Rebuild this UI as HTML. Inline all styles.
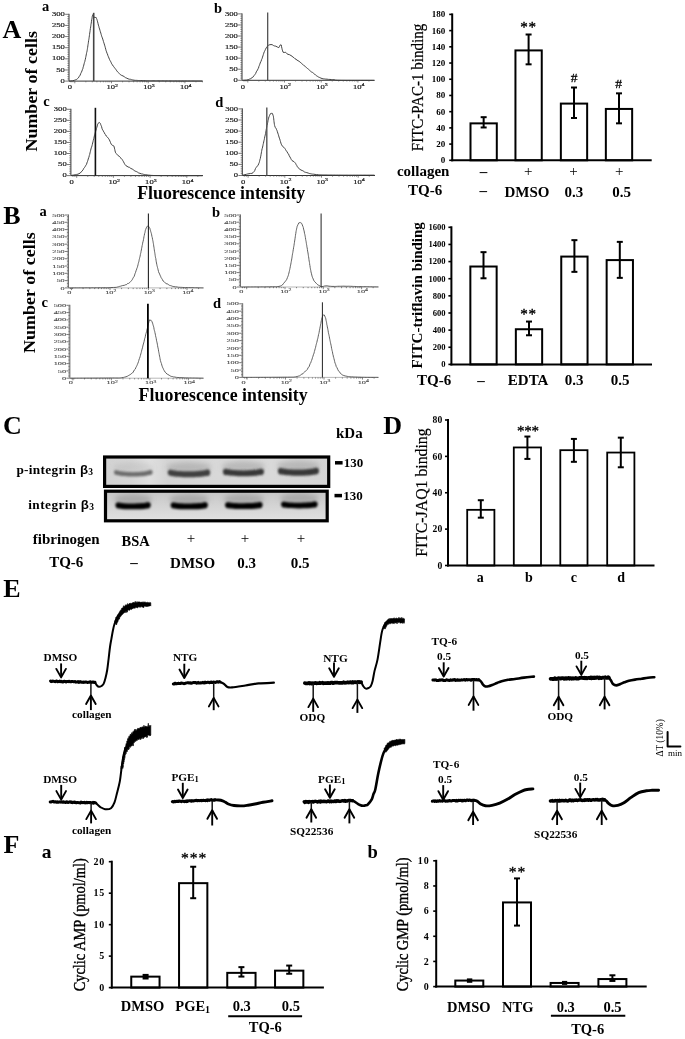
<!DOCTYPE html>
<html><head><meta charset="utf-8"><title>Figure</title>
<style>
html,body{margin:0;padding:0;background:#fff;}
body{width:685px;height:1039px;overflow:hidden;}
svg{display:block;font-family:"Liberation Serif", serif;will-change:transform;}
</style></head><body>
<svg width="685" height="1039" viewBox="0 0 685 1039">
<rect width="685" height="1039" fill="#fff"/>
<text x="2.60" y="37.50" font-size="26" font-weight="bold" text-anchor="start" fill="#000" >A</text>
<text x="3.30" y="223.60" font-size="26" font-weight="bold" text-anchor="start" fill="#000" >B</text>
<text x="3.00" y="434.40" font-size="26" font-weight="bold" text-anchor="start" fill="#000" >C</text>
<text x="383.30" y="434.20" font-size="26" font-weight="bold" text-anchor="start" fill="#000" >D</text>
<text x="3.20" y="597.00" font-size="26" font-weight="bold" text-anchor="start" fill="#000" >E</text>
<text x="3.40" y="853.30" font-size="26" font-weight="bold" text-anchor="start" fill="#000" >F</text>
<line x1="69.00" y1="13.80" x2="69.00" y2="81.10" stroke="#333" stroke-width="1" />
<line x1="69.00" y1="81.10" x2="202.70" y2="81.10" stroke="#333" stroke-width="1" />
<line x1="65.10" y1="81.10" x2="69.00" y2="81.10" stroke="#555" stroke-width="0.8" />
<text transform="translate(64.80,82.70) scale(1,0.78)" font-size="8.6" text-anchor="end" fill="#222" stroke="#222" stroke-width="0.25">0</text>
<line x1="67.40" y1="78.87" x2="69.00" y2="78.87" stroke="#555" stroke-width="0.7" />
<line x1="67.40" y1="76.65" x2="69.00" y2="76.65" stroke="#555" stroke-width="0.7" />
<line x1="67.40" y1="74.42" x2="69.00" y2="74.42" stroke="#555" stroke-width="0.7" />
<line x1="67.40" y1="72.19" x2="69.00" y2="72.19" stroke="#555" stroke-width="0.7" />
<line x1="65.10" y1="69.97" x2="69.00" y2="69.97" stroke="#555" stroke-width="0.8" />
<text transform="translate(64.80,71.57) scale(1,0.78)" font-size="8.6" text-anchor="end" fill="#222" stroke="#222" stroke-width="0.25">50</text>
<line x1="67.40" y1="67.74" x2="69.00" y2="67.74" stroke="#555" stroke-width="0.7" />
<line x1="67.40" y1="65.51" x2="69.00" y2="65.51" stroke="#555" stroke-width="0.7" />
<line x1="67.40" y1="63.29" x2="69.00" y2="63.29" stroke="#555" stroke-width="0.7" />
<line x1="67.40" y1="61.06" x2="69.00" y2="61.06" stroke="#555" stroke-width="0.7" />
<line x1="65.10" y1="58.83" x2="69.00" y2="58.83" stroke="#555" stroke-width="0.8" />
<text transform="translate(64.80,60.43) scale(1,0.78)" font-size="8.6" text-anchor="end" fill="#222" stroke="#222" stroke-width="0.25">100</text>
<line x1="67.40" y1="56.61" x2="69.00" y2="56.61" stroke="#555" stroke-width="0.7" />
<line x1="67.40" y1="54.38" x2="69.00" y2="54.38" stroke="#555" stroke-width="0.7" />
<line x1="67.40" y1="52.15" x2="69.00" y2="52.15" stroke="#555" stroke-width="0.7" />
<line x1="67.40" y1="49.93" x2="69.00" y2="49.93" stroke="#555" stroke-width="0.7" />
<line x1="65.10" y1="47.70" x2="69.00" y2="47.70" stroke="#555" stroke-width="0.8" />
<text transform="translate(64.80,49.30) scale(1,0.78)" font-size="8.6" text-anchor="end" fill="#222" stroke="#222" stroke-width="0.25">150</text>
<line x1="67.40" y1="45.47" x2="69.00" y2="45.47" stroke="#555" stroke-width="0.7" />
<line x1="67.40" y1="43.25" x2="69.00" y2="43.25" stroke="#555" stroke-width="0.7" />
<line x1="67.40" y1="41.02" x2="69.00" y2="41.02" stroke="#555" stroke-width="0.7" />
<line x1="67.40" y1="38.79" x2="69.00" y2="38.79" stroke="#555" stroke-width="0.7" />
<line x1="65.10" y1="36.57" x2="69.00" y2="36.57" stroke="#555" stroke-width="0.8" />
<text transform="translate(64.80,38.17) scale(1,0.78)" font-size="8.6" text-anchor="end" fill="#222" stroke="#222" stroke-width="0.25">200</text>
<line x1="67.40" y1="34.34" x2="69.00" y2="34.34" stroke="#555" stroke-width="0.7" />
<line x1="67.40" y1="32.11" x2="69.00" y2="32.11" stroke="#555" stroke-width="0.7" />
<line x1="67.40" y1="29.89" x2="69.00" y2="29.89" stroke="#555" stroke-width="0.7" />
<line x1="67.40" y1="27.66" x2="69.00" y2="27.66" stroke="#555" stroke-width="0.7" />
<line x1="65.10" y1="25.43" x2="69.00" y2="25.43" stroke="#555" stroke-width="0.8" />
<text transform="translate(64.80,27.03) scale(1,0.78)" font-size="8.6" text-anchor="end" fill="#222" stroke="#222" stroke-width="0.25">250</text>
<line x1="67.40" y1="23.21" x2="69.00" y2="23.21" stroke="#555" stroke-width="0.7" />
<line x1="67.40" y1="20.98" x2="69.00" y2="20.98" stroke="#555" stroke-width="0.7" />
<line x1="67.40" y1="18.75" x2="69.00" y2="18.75" stroke="#555" stroke-width="0.7" />
<line x1="67.40" y1="16.53" x2="69.00" y2="16.53" stroke="#555" stroke-width="0.7" />
<line x1="65.10" y1="14.30" x2="69.00" y2="14.30" stroke="#555" stroke-width="0.8" />
<text transform="translate(64.80,15.90) scale(1,0.78)" font-size="8.6" text-anchor="end" fill="#222" stroke="#222" stroke-width="0.25">300</text>
<line x1="74.80" y1="81.10" x2="74.80" y2="83.30" stroke="#555" stroke-width="0.7" />
<line x1="85.85" y1="81.10" x2="85.85" y2="82.30" stroke="#555" stroke-width="0.7" />
<line x1="92.31" y1="81.10" x2="92.31" y2="82.30" stroke="#555" stroke-width="0.7" />
<line x1="96.90" y1="81.10" x2="96.90" y2="82.30" stroke="#555" stroke-width="0.7" />
<line x1="100.45" y1="81.10" x2="100.45" y2="82.30" stroke="#555" stroke-width="0.7" />
<line x1="103.36" y1="81.10" x2="103.36" y2="82.30" stroke="#555" stroke-width="0.7" />
<line x1="105.82" y1="81.10" x2="105.82" y2="82.30" stroke="#555" stroke-width="0.7" />
<line x1="107.94" y1="81.10" x2="107.94" y2="82.30" stroke="#555" stroke-width="0.7" />
<line x1="109.82" y1="81.10" x2="109.82" y2="82.30" stroke="#555" stroke-width="0.7" />
<line x1="111.50" y1="81.10" x2="111.50" y2="83.30" stroke="#555" stroke-width="0.7" />
<line x1="122.55" y1="81.10" x2="122.55" y2="82.30" stroke="#555" stroke-width="0.7" />
<line x1="129.01" y1="81.10" x2="129.01" y2="82.30" stroke="#555" stroke-width="0.7" />
<line x1="133.60" y1="81.10" x2="133.60" y2="82.30" stroke="#555" stroke-width="0.7" />
<line x1="137.15" y1="81.10" x2="137.15" y2="82.30" stroke="#555" stroke-width="0.7" />
<line x1="140.06" y1="81.10" x2="140.06" y2="82.30" stroke="#555" stroke-width="0.7" />
<line x1="142.52" y1="81.10" x2="142.52" y2="82.30" stroke="#555" stroke-width="0.7" />
<line x1="144.64" y1="81.10" x2="144.64" y2="82.30" stroke="#555" stroke-width="0.7" />
<line x1="146.52" y1="81.10" x2="146.52" y2="82.30" stroke="#555" stroke-width="0.7" />
<line x1="148.20" y1="81.10" x2="148.20" y2="83.30" stroke="#555" stroke-width="0.7" />
<line x1="159.25" y1="81.10" x2="159.25" y2="82.30" stroke="#555" stroke-width="0.7" />
<line x1="165.71" y1="81.10" x2="165.71" y2="82.30" stroke="#555" stroke-width="0.7" />
<line x1="170.30" y1="81.10" x2="170.30" y2="82.30" stroke="#555" stroke-width="0.7" />
<line x1="173.85" y1="81.10" x2="173.85" y2="82.30" stroke="#555" stroke-width="0.7" />
<line x1="176.76" y1="81.10" x2="176.76" y2="82.30" stroke="#555" stroke-width="0.7" />
<line x1="179.22" y1="81.10" x2="179.22" y2="82.30" stroke="#555" stroke-width="0.7" />
<line x1="181.34" y1="81.10" x2="181.34" y2="82.30" stroke="#555" stroke-width="0.7" />
<line x1="183.22" y1="81.10" x2="183.22" y2="82.30" stroke="#555" stroke-width="0.7" />
<line x1="184.90" y1="81.10" x2="184.90" y2="83.30" stroke="#555" stroke-width="0.7" />
<line x1="195.95" y1="81.10" x2="195.95" y2="82.30" stroke="#555" stroke-width="0.7" />
<line x1="202.41" y1="81.10" x2="202.41" y2="82.30" stroke="#555" stroke-width="0.7" />
<line x1="71.00" y1="81.10" x2="71.00" y2="82.30" stroke="#555" stroke-width="0.7" />
<line x1="73.00" y1="81.10" x2="73.00" y2="82.30" stroke="#555" stroke-width="0.7" />
<text transform="translate(69.80,89.40) scale(1,0.78)" font-size="8.6" text-anchor="middle" fill="#222" stroke="#222" stroke-width="0.25">0</text>
<text transform="translate(112.30,89.40) scale(1,0.78)" font-size="8.6" text-anchor="middle" fill="#222" stroke="#222" stroke-width="0.25">10<tspan font-size="6.0" dy="-3">2</tspan></text>
<text transform="translate(149.00,89.40) scale(1,0.78)" font-size="8.6" text-anchor="middle" fill="#222" stroke="#222" stroke-width="0.25">10<tspan font-size="6.0" dy="-3">3</tspan></text>
<text transform="translate(185.70,89.40) scale(1,0.78)" font-size="8.6" text-anchor="middle" fill="#222" stroke="#222" stroke-width="0.25">10<tspan font-size="6.0" dy="-3">4</tspan></text>
<path d="M69.60,81.10 L70.84,80.97 L72.60,80.76 L74.30,80.31 L75.37,79.86 L76.39,79.54 L77.39,78.74 L78.40,77.88 L78.99,76.76 L79.58,75.99 L80.18,75.10 L80.77,73.40 L81.36,72.33 L81.94,70.97 L82.50,69.36 L82.83,68.82 L83.15,67.17 L83.48,66.32 L83.81,65.05 L84.14,63.72 L84.46,62.46 L84.77,61.74 L85.08,60.10 L85.38,59.21 L85.66,57.57 L85.94,56.30 L86.20,54.98 L86.45,53.72 L86.68,52.50 L86.89,51.86 L87.10,50.78 L87.29,49.66 L87.48,48.34 L87.67,47.28 L87.85,45.89 L88.03,44.61 L88.22,43.72 L88.40,42.20 L88.60,40.67 L88.79,39.74 L88.98,38.69 L89.17,37.30 L89.36,35.80 L89.55,34.60 L89.75,32.92 L89.94,31.85 L90.13,30.48 L90.31,28.80 L90.49,28.17 L90.67,26.90 L90.84,25.74 L91.00,24.34 L91.25,23.09 L91.48,21.26 L91.69,19.59 L91.90,18.84 L92.10,17.52 L92.30,16.19 L92.50,15.54 L92.70,14.78 L93.49,15.98 L94.30,17.48 L95.19,17.44 L96.20,17.54 L96.53,18.46 L96.88,19.32 L97.24,20.44 L97.61,21.86 L98.00,23.45 L98.40,25.10 L98.80,26.30 L99.17,27.83 L99.57,28.98 L99.97,30.36 L100.39,31.80 L100.80,33.07 L101.19,34.48 L101.56,35.77 L101.90,36.84 L102.35,37.87 L102.73,39.09 L103.07,40.07 L103.45,41.49 L103.90,42.89 L104.23,43.87 L104.58,45.13 L104.94,46.22 L105.33,47.71 L105.72,49.22 L106.14,50.76 L106.56,51.83 L107.00,53.24 L107.46,54.00 L107.93,55.71 L108.43,56.76 L108.93,57.98 L109.45,59.31 L109.96,60.39 L110.48,61.20 L111.00,62.22 L111.69,63.84 L112.39,64.78 L113.09,65.97 L113.80,66.62 L114.50,67.75 L115.20,68.59 L115.99,69.65 L116.75,70.77 L117.52,71.83 L118.35,72.58 L119.30,73.44 L120.42,74.69 L121.69,75.43 L123.01,75.93 L124.28,76.69 L125.40,77.60 L126.84,78.20 L128.06,78.81 L129.50,79.24 L130.53,79.31 L131.60,79.67 L132.77,79.98 L134.09,80.20 L135.60,80.37 L136.58,80.36 L137.53,80.44 L138.51,80.53 L139.57,80.54 L140.77,80.57 L142.17,80.63 L143.83,80.68 L145.80,80.70 L146.68,80.72 L147.62,80.72 L148.60,80.71 L149.62,80.77 L150.68,80.79 L151.79,80.80 L152.92,80.79 L154.10,80.79 L155.30,80.83 L156.54,80.80 L157.80,80.81 L159.09,80.85 L160.40,80.84 L161.73,80.85 L163.07,80.86 L164.44,80.86 L165.81,80.90 L167.20,80.89 L168.60,80.91 L170.00,80.90 L171.11,80.91 L172.29,80.91 L173.53,80.90 L174.81,80.93 L176.14,80.92 L177.51,80.94 L178.90,80.94 L180.32,80.95 L181.75,80.95 L183.20,80.94 L184.64,80.94 L186.08,80.96 L187.51,80.97 L188.92,80.96 L190.31,80.97 L191.67,80.97 L192.99,80.98 L194.26,80.98 L195.48,80.98 L196.64,80.99 L197.74,80.99 L198.76,80.99 L199.71,80.99 L200.57,81.00 L201.33,81.00 L202.00,81.00" fill="none" stroke="#3a3a3a" stroke-width="0.95" stroke-linejoin="round" stroke-linecap="round" />
<line x1="93.70" y1="12.80" x2="93.70" y2="81.10" stroke="#444" stroke-width="1.6" />
<line x1="242.00" y1="13.40" x2="242.00" y2="80.30" stroke="#333" stroke-width="1" />
<line x1="242.00" y1="80.30" x2="374.50" y2="80.30" stroke="#333" stroke-width="1" />
<line x1="238.10" y1="80.30" x2="242.00" y2="80.30" stroke="#555" stroke-width="0.8" />
<text transform="translate(237.80,81.90) scale(1,0.78)" font-size="8.6" text-anchor="end" fill="#222" stroke="#222" stroke-width="0.25">0</text>
<line x1="240.40" y1="78.09" x2="242.00" y2="78.09" stroke="#555" stroke-width="0.7" />
<line x1="240.40" y1="75.87" x2="242.00" y2="75.87" stroke="#555" stroke-width="0.7" />
<line x1="240.40" y1="73.66" x2="242.00" y2="73.66" stroke="#555" stroke-width="0.7" />
<line x1="240.40" y1="71.45" x2="242.00" y2="71.45" stroke="#555" stroke-width="0.7" />
<line x1="238.10" y1="69.23" x2="242.00" y2="69.23" stroke="#555" stroke-width="0.8" />
<text transform="translate(237.80,70.83) scale(1,0.78)" font-size="8.6" text-anchor="end" fill="#222" stroke="#222" stroke-width="0.25">50</text>
<line x1="240.40" y1="67.02" x2="242.00" y2="67.02" stroke="#555" stroke-width="0.7" />
<line x1="240.40" y1="64.81" x2="242.00" y2="64.81" stroke="#555" stroke-width="0.7" />
<line x1="240.40" y1="62.59" x2="242.00" y2="62.59" stroke="#555" stroke-width="0.7" />
<line x1="240.40" y1="60.38" x2="242.00" y2="60.38" stroke="#555" stroke-width="0.7" />
<line x1="238.10" y1="58.17" x2="242.00" y2="58.17" stroke="#555" stroke-width="0.8" />
<text transform="translate(237.80,59.77) scale(1,0.78)" font-size="8.6" text-anchor="end" fill="#222" stroke="#222" stroke-width="0.25">100</text>
<line x1="240.40" y1="55.95" x2="242.00" y2="55.95" stroke="#555" stroke-width="0.7" />
<line x1="240.40" y1="53.74" x2="242.00" y2="53.74" stroke="#555" stroke-width="0.7" />
<line x1="240.40" y1="51.53" x2="242.00" y2="51.53" stroke="#555" stroke-width="0.7" />
<line x1="240.40" y1="49.31" x2="242.00" y2="49.31" stroke="#555" stroke-width="0.7" />
<line x1="238.10" y1="47.10" x2="242.00" y2="47.10" stroke="#555" stroke-width="0.8" />
<text transform="translate(237.80,48.70) scale(1,0.78)" font-size="8.6" text-anchor="end" fill="#222" stroke="#222" stroke-width="0.25">150</text>
<line x1="240.40" y1="44.89" x2="242.00" y2="44.89" stroke="#555" stroke-width="0.7" />
<line x1="240.40" y1="42.67" x2="242.00" y2="42.67" stroke="#555" stroke-width="0.7" />
<line x1="240.40" y1="40.46" x2="242.00" y2="40.46" stroke="#555" stroke-width="0.7" />
<line x1="240.40" y1="38.25" x2="242.00" y2="38.25" stroke="#555" stroke-width="0.7" />
<line x1="238.10" y1="36.03" x2="242.00" y2="36.03" stroke="#555" stroke-width="0.8" />
<text transform="translate(237.80,37.63) scale(1,0.78)" font-size="8.6" text-anchor="end" fill="#222" stroke="#222" stroke-width="0.25">200</text>
<line x1="240.40" y1="33.82" x2="242.00" y2="33.82" stroke="#555" stroke-width="0.7" />
<line x1="240.40" y1="31.61" x2="242.00" y2="31.61" stroke="#555" stroke-width="0.7" />
<line x1="240.40" y1="29.39" x2="242.00" y2="29.39" stroke="#555" stroke-width="0.7" />
<line x1="240.40" y1="27.18" x2="242.00" y2="27.18" stroke="#555" stroke-width="0.7" />
<line x1="238.10" y1="24.97" x2="242.00" y2="24.97" stroke="#555" stroke-width="0.8" />
<text transform="translate(237.80,26.57) scale(1,0.78)" font-size="8.6" text-anchor="end" fill="#222" stroke="#222" stroke-width="0.25">250</text>
<line x1="240.40" y1="22.75" x2="242.00" y2="22.75" stroke="#555" stroke-width="0.7" />
<line x1="240.40" y1="20.54" x2="242.00" y2="20.54" stroke="#555" stroke-width="0.7" />
<line x1="240.40" y1="18.33" x2="242.00" y2="18.33" stroke="#555" stroke-width="0.7" />
<line x1="240.40" y1="16.11" x2="242.00" y2="16.11" stroke="#555" stroke-width="0.7" />
<line x1="238.10" y1="13.90" x2="242.00" y2="13.90" stroke="#555" stroke-width="0.8" />
<text transform="translate(237.80,15.50) scale(1,0.78)" font-size="8.6" text-anchor="end" fill="#222" stroke="#222" stroke-width="0.25">300</text>
<line x1="247.80" y1="80.30" x2="247.80" y2="82.50" stroke="#555" stroke-width="0.7" />
<line x1="258.85" y1="80.30" x2="258.85" y2="81.50" stroke="#555" stroke-width="0.7" />
<line x1="265.31" y1="80.30" x2="265.31" y2="81.50" stroke="#555" stroke-width="0.7" />
<line x1="269.90" y1="80.30" x2="269.90" y2="81.50" stroke="#555" stroke-width="0.7" />
<line x1="273.45" y1="80.30" x2="273.45" y2="81.50" stroke="#555" stroke-width="0.7" />
<line x1="276.36" y1="80.30" x2="276.36" y2="81.50" stroke="#555" stroke-width="0.7" />
<line x1="278.82" y1="80.30" x2="278.82" y2="81.50" stroke="#555" stroke-width="0.7" />
<line x1="280.94" y1="80.30" x2="280.94" y2="81.50" stroke="#555" stroke-width="0.7" />
<line x1="282.82" y1="80.30" x2="282.82" y2="81.50" stroke="#555" stroke-width="0.7" />
<line x1="284.50" y1="80.30" x2="284.50" y2="82.50" stroke="#555" stroke-width="0.7" />
<line x1="295.55" y1="80.30" x2="295.55" y2="81.50" stroke="#555" stroke-width="0.7" />
<line x1="302.01" y1="80.30" x2="302.01" y2="81.50" stroke="#555" stroke-width="0.7" />
<line x1="306.60" y1="80.30" x2="306.60" y2="81.50" stroke="#555" stroke-width="0.7" />
<line x1="310.15" y1="80.30" x2="310.15" y2="81.50" stroke="#555" stroke-width="0.7" />
<line x1="313.06" y1="80.30" x2="313.06" y2="81.50" stroke="#555" stroke-width="0.7" />
<line x1="315.52" y1="80.30" x2="315.52" y2="81.50" stroke="#555" stroke-width="0.7" />
<line x1="317.64" y1="80.30" x2="317.64" y2="81.50" stroke="#555" stroke-width="0.7" />
<line x1="319.52" y1="80.30" x2="319.52" y2="81.50" stroke="#555" stroke-width="0.7" />
<line x1="321.20" y1="80.30" x2="321.20" y2="82.50" stroke="#555" stroke-width="0.7" />
<line x1="332.25" y1="80.30" x2="332.25" y2="81.50" stroke="#555" stroke-width="0.7" />
<line x1="338.71" y1="80.30" x2="338.71" y2="81.50" stroke="#555" stroke-width="0.7" />
<line x1="343.30" y1="80.30" x2="343.30" y2="81.50" stroke="#555" stroke-width="0.7" />
<line x1="346.85" y1="80.30" x2="346.85" y2="81.50" stroke="#555" stroke-width="0.7" />
<line x1="349.76" y1="80.30" x2="349.76" y2="81.50" stroke="#555" stroke-width="0.7" />
<line x1="352.22" y1="80.30" x2="352.22" y2="81.50" stroke="#555" stroke-width="0.7" />
<line x1="354.34" y1="80.30" x2="354.34" y2="81.50" stroke="#555" stroke-width="0.7" />
<line x1="356.22" y1="80.30" x2="356.22" y2="81.50" stroke="#555" stroke-width="0.7" />
<line x1="357.90" y1="80.30" x2="357.90" y2="82.50" stroke="#555" stroke-width="0.7" />
<line x1="368.95" y1="80.30" x2="368.95" y2="81.50" stroke="#555" stroke-width="0.7" />
<line x1="244.00" y1="80.30" x2="244.00" y2="81.50" stroke="#555" stroke-width="0.7" />
<line x1="246.00" y1="80.30" x2="246.00" y2="81.50" stroke="#555" stroke-width="0.7" />
<text transform="translate(242.80,88.60) scale(1,0.78)" font-size="8.6" text-anchor="middle" fill="#222" stroke="#222" stroke-width="0.25">0</text>
<text transform="translate(285.30,88.60) scale(1,0.78)" font-size="8.6" text-anchor="middle" fill="#222" stroke="#222" stroke-width="0.25">10<tspan font-size="6.0" dy="-3">2</tspan></text>
<text transform="translate(322.00,88.60) scale(1,0.78)" font-size="8.6" text-anchor="middle" fill="#222" stroke="#222" stroke-width="0.25">10<tspan font-size="6.0" dy="-3">3</tspan></text>
<text transform="translate(358.70,88.60) scale(1,0.78)" font-size="8.6" text-anchor="middle" fill="#222" stroke="#222" stroke-width="0.25">10<tspan font-size="6.0" dy="-3">4</tspan></text>
<path d="M243.70,80.30 L244.84,80.25 L246.49,80.13 L248.20,79.71 L249.45,79.13 L250.77,78.61 L252.07,77.62 L253.30,76.80 L254.08,75.57 L254.85,74.63 L255.60,73.60 L256.30,71.84 L256.94,70.91 L257.50,69.93 L258.11,68.65 L258.52,68.09 L258.89,66.45 L259.40,65.36 L259.78,64.28 L260.20,63.06 L260.65,61.87 L261.12,61.18 L261.59,59.56 L262.05,58.70 L262.50,57.11 L262.93,55.88 L263.36,54.51 L263.79,53.17 L264.21,51.88 L264.64,51.22 L265.07,50.22 L265.50,49.31 L266.28,47.78 L267.09,46.79 L267.87,45.73 L268.60,44.98 L269.84,44.75 L271.00,44.54 L272.26,44.71 L273.50,45.55 L274.62,45.98 L275.80,46.18 L277.31,46.99 L278.80,47.67 L279.57,46.29 L280.23,45.01 L280.90,44.58 L281.25,44.92 L281.59,46.79 L281.92,48.27 L282.27,49.83 L282.63,50.87 L283.00,52.19 L284.23,52.51 L285.50,52.19 L286.72,53.57 L288.00,54.35 L289.34,54.61 L291.00,55.57 L291.87,55.96 L292.84,57.17 L293.88,57.56 L294.95,58.74 L296.00,59.24 L297.03,60.13 L298.06,60.70 L299.11,61.34 L300.18,62.18 L301.30,63.17 L302.27,64.12 L303.27,64.73 L304.29,65.87 L305.33,66.58 L306.37,67.48 L307.40,68.42 L308.43,69.21 L309.46,70.21 L310.50,71.17 L311.54,72.01 L312.57,72.46 L313.60,73.35 L314.62,74.08 L315.64,75.14 L316.66,75.87 L317.67,76.46 L318.68,77.14 L319.70,77.53 L320.89,78.11 L322.04,78.52 L323.21,78.83 L324.45,78.91 L325.80,79.14 L327.07,79.16 L328.46,79.40 L329.91,79.45 L331.35,79.54 L332.74,79.65 L334.00,79.73 L334.89,79.81 L335.21,79.96 L335.69,80.12 L337.04,80.22 L340.00,80.31 L340.77,80.31 L341.65,80.33 L342.62,80.33 L343.69,80.34 L344.83,80.35 L346.05,80.36 L347.33,80.36 L348.66,80.37 L350.05,80.37 L351.47,80.38 L352.92,80.38 L354.40,80.38 L355.88,80.39 L357.38,80.39 L358.86,80.39 L360.34,80.39 L361.79,80.39 L363.22,80.39 L364.61,80.39 L365.95,80.39 L367.23,80.39 L368.46,80.39 L369.61,80.39 L370.68,80.40 L371.67,80.40 L372.55,80.40 L373.33,80.40 L374.00,80.40" fill="none" stroke="#3a3a3a" stroke-width="0.95" stroke-linejoin="round" stroke-linecap="round" />
<line x1="267.70" y1="12.40" x2="267.70" y2="80.30" stroke="#444" stroke-width="1.2" />
<line x1="70.90" y1="108.80" x2="70.90" y2="175.60" stroke="#333" stroke-width="1" />
<line x1="70.90" y1="175.60" x2="203.00" y2="175.60" stroke="#333" stroke-width="1" />
<line x1="67.00" y1="175.60" x2="70.90" y2="175.60" stroke="#555" stroke-width="0.8" />
<text transform="translate(66.70,177.20) scale(1,0.78)" font-size="8.6" text-anchor="end" fill="#222" stroke="#222" stroke-width="0.25">0</text>
<line x1="69.30" y1="173.39" x2="70.90" y2="173.39" stroke="#555" stroke-width="0.7" />
<line x1="69.30" y1="171.18" x2="70.90" y2="171.18" stroke="#555" stroke-width="0.7" />
<line x1="69.30" y1="168.97" x2="70.90" y2="168.97" stroke="#555" stroke-width="0.7" />
<line x1="69.30" y1="166.76" x2="70.90" y2="166.76" stroke="#555" stroke-width="0.7" />
<line x1="67.00" y1="164.55" x2="70.90" y2="164.55" stroke="#555" stroke-width="0.8" />
<text transform="translate(66.70,166.15) scale(1,0.78)" font-size="8.6" text-anchor="end" fill="#222" stroke="#222" stroke-width="0.25">50</text>
<line x1="69.30" y1="162.34" x2="70.90" y2="162.34" stroke="#555" stroke-width="0.7" />
<line x1="69.30" y1="160.13" x2="70.90" y2="160.13" stroke="#555" stroke-width="0.7" />
<line x1="69.30" y1="157.92" x2="70.90" y2="157.92" stroke="#555" stroke-width="0.7" />
<line x1="69.30" y1="155.71" x2="70.90" y2="155.71" stroke="#555" stroke-width="0.7" />
<line x1="67.00" y1="153.50" x2="70.90" y2="153.50" stroke="#555" stroke-width="0.8" />
<text transform="translate(66.70,155.10) scale(1,0.78)" font-size="8.6" text-anchor="end" fill="#222" stroke="#222" stroke-width="0.25">100</text>
<line x1="69.30" y1="151.29" x2="70.90" y2="151.29" stroke="#555" stroke-width="0.7" />
<line x1="69.30" y1="149.08" x2="70.90" y2="149.08" stroke="#555" stroke-width="0.7" />
<line x1="69.30" y1="146.87" x2="70.90" y2="146.87" stroke="#555" stroke-width="0.7" />
<line x1="69.30" y1="144.66" x2="70.90" y2="144.66" stroke="#555" stroke-width="0.7" />
<line x1="67.00" y1="142.45" x2="70.90" y2="142.45" stroke="#555" stroke-width="0.8" />
<text transform="translate(66.70,144.05) scale(1,0.78)" font-size="8.6" text-anchor="end" fill="#222" stroke="#222" stroke-width="0.25">150</text>
<line x1="69.30" y1="140.24" x2="70.90" y2="140.24" stroke="#555" stroke-width="0.7" />
<line x1="69.30" y1="138.03" x2="70.90" y2="138.03" stroke="#555" stroke-width="0.7" />
<line x1="69.30" y1="135.82" x2="70.90" y2="135.82" stroke="#555" stroke-width="0.7" />
<line x1="69.30" y1="133.61" x2="70.90" y2="133.61" stroke="#555" stroke-width="0.7" />
<line x1="67.00" y1="131.40" x2="70.90" y2="131.40" stroke="#555" stroke-width="0.8" />
<text transform="translate(66.70,133.00) scale(1,0.78)" font-size="8.6" text-anchor="end" fill="#222" stroke="#222" stroke-width="0.25">200</text>
<line x1="69.30" y1="129.19" x2="70.90" y2="129.19" stroke="#555" stroke-width="0.7" />
<line x1="69.30" y1="126.98" x2="70.90" y2="126.98" stroke="#555" stroke-width="0.7" />
<line x1="69.30" y1="124.77" x2="70.90" y2="124.77" stroke="#555" stroke-width="0.7" />
<line x1="69.30" y1="122.56" x2="70.90" y2="122.56" stroke="#555" stroke-width="0.7" />
<line x1="67.00" y1="120.35" x2="70.90" y2="120.35" stroke="#555" stroke-width="0.8" />
<text transform="translate(66.70,121.95) scale(1,0.78)" font-size="8.6" text-anchor="end" fill="#222" stroke="#222" stroke-width="0.25">250</text>
<line x1="69.30" y1="118.14" x2="70.90" y2="118.14" stroke="#555" stroke-width="0.7" />
<line x1="69.30" y1="115.93" x2="70.90" y2="115.93" stroke="#555" stroke-width="0.7" />
<line x1="69.30" y1="113.72" x2="70.90" y2="113.72" stroke="#555" stroke-width="0.7" />
<line x1="69.30" y1="111.51" x2="70.90" y2="111.51" stroke="#555" stroke-width="0.7" />
<line x1="67.00" y1="109.30" x2="70.90" y2="109.30" stroke="#555" stroke-width="0.8" />
<text transform="translate(66.70,110.90) scale(1,0.78)" font-size="8.6" text-anchor="end" fill="#222" stroke="#222" stroke-width="0.25">300</text>
<line x1="76.70" y1="175.60" x2="76.70" y2="177.80" stroke="#555" stroke-width="0.7" />
<line x1="87.75" y1="175.60" x2="87.75" y2="176.80" stroke="#555" stroke-width="0.7" />
<line x1="94.21" y1="175.60" x2="94.21" y2="176.80" stroke="#555" stroke-width="0.7" />
<line x1="98.80" y1="175.60" x2="98.80" y2="176.80" stroke="#555" stroke-width="0.7" />
<line x1="102.35" y1="175.60" x2="102.35" y2="176.80" stroke="#555" stroke-width="0.7" />
<line x1="105.26" y1="175.60" x2="105.26" y2="176.80" stroke="#555" stroke-width="0.7" />
<line x1="107.72" y1="175.60" x2="107.72" y2="176.80" stroke="#555" stroke-width="0.7" />
<line x1="109.84" y1="175.60" x2="109.84" y2="176.80" stroke="#555" stroke-width="0.7" />
<line x1="111.72" y1="175.60" x2="111.72" y2="176.80" stroke="#555" stroke-width="0.7" />
<line x1="113.40" y1="175.60" x2="113.40" y2="177.80" stroke="#555" stroke-width="0.7" />
<line x1="124.45" y1="175.60" x2="124.45" y2="176.80" stroke="#555" stroke-width="0.7" />
<line x1="130.91" y1="175.60" x2="130.91" y2="176.80" stroke="#555" stroke-width="0.7" />
<line x1="135.50" y1="175.60" x2="135.50" y2="176.80" stroke="#555" stroke-width="0.7" />
<line x1="139.05" y1="175.60" x2="139.05" y2="176.80" stroke="#555" stroke-width="0.7" />
<line x1="141.96" y1="175.60" x2="141.96" y2="176.80" stroke="#555" stroke-width="0.7" />
<line x1="144.42" y1="175.60" x2="144.42" y2="176.80" stroke="#555" stroke-width="0.7" />
<line x1="146.54" y1="175.60" x2="146.54" y2="176.80" stroke="#555" stroke-width="0.7" />
<line x1="148.42" y1="175.60" x2="148.42" y2="176.80" stroke="#555" stroke-width="0.7" />
<line x1="150.10" y1="175.60" x2="150.10" y2="177.80" stroke="#555" stroke-width="0.7" />
<line x1="161.15" y1="175.60" x2="161.15" y2="176.80" stroke="#555" stroke-width="0.7" />
<line x1="167.61" y1="175.60" x2="167.61" y2="176.80" stroke="#555" stroke-width="0.7" />
<line x1="172.20" y1="175.60" x2="172.20" y2="176.80" stroke="#555" stroke-width="0.7" />
<line x1="175.75" y1="175.60" x2="175.75" y2="176.80" stroke="#555" stroke-width="0.7" />
<line x1="178.66" y1="175.60" x2="178.66" y2="176.80" stroke="#555" stroke-width="0.7" />
<line x1="181.12" y1="175.60" x2="181.12" y2="176.80" stroke="#555" stroke-width="0.7" />
<line x1="183.24" y1="175.60" x2="183.24" y2="176.80" stroke="#555" stroke-width="0.7" />
<line x1="185.12" y1="175.60" x2="185.12" y2="176.80" stroke="#555" stroke-width="0.7" />
<line x1="186.80" y1="175.60" x2="186.80" y2="177.80" stroke="#555" stroke-width="0.7" />
<line x1="197.85" y1="175.60" x2="197.85" y2="176.80" stroke="#555" stroke-width="0.7" />
<line x1="72.90" y1="175.60" x2="72.90" y2="176.80" stroke="#555" stroke-width="0.7" />
<line x1="74.90" y1="175.60" x2="74.90" y2="176.80" stroke="#555" stroke-width="0.7" />
<text transform="translate(71.70,183.90) scale(1,0.78)" font-size="8.6" text-anchor="middle" fill="#222" stroke="#222" stroke-width="0.25">0</text>
<text transform="translate(114.20,183.90) scale(1,0.78)" font-size="8.6" text-anchor="middle" fill="#222" stroke="#222" stroke-width="0.25">10<tspan font-size="6.0" dy="-3">2</tspan></text>
<text transform="translate(150.90,183.90) scale(1,0.78)" font-size="8.6" text-anchor="middle" fill="#222" stroke="#222" stroke-width="0.25">10<tspan font-size="6.0" dy="-3">3</tspan></text>
<text transform="translate(187.60,183.90) scale(1,0.78)" font-size="8.6" text-anchor="middle" fill="#222" stroke="#222" stroke-width="0.25">10<tspan font-size="6.0" dy="-3">4</tspan></text>
<path d="M71.90,175.30 L72.71,175.18 L73.85,175.03 L75.19,174.77 L76.59,174.43 L77.91,174.20 L79.00,173.66 L80.24,173.07 L81.24,171.90 L82.15,170.95 L83.10,169.80 L83.78,168.32 L84.47,167.57 L85.15,166.57 L85.83,165.30 L86.52,164.34 L87.20,162.10 L87.54,161.41 L87.89,160.27 L88.25,159.02 L88.60,157.81 L88.96,157.11 L89.31,155.47 L89.66,154.56 L90.01,152.89 L90.35,151.58 L90.67,150.22 L90.99,148.95 L91.30,147.76 L91.66,146.96 L92.00,145.72 L92.34,144.44 L92.66,142.98 L92.98,141.82 L93.29,140.39 L93.58,139.11 L93.87,138.30 L94.14,136.94 L94.40,135.67 L94.80,134.45 L95.14,133.35 L95.46,132.10 L95.77,130.85 L96.07,129.94 L96.40,128.54 L96.82,127.42 L97.25,125.92 L97.68,124.18 L98.10,123.67 L98.50,122.84 L99.39,122.48 L100.30,123.34 L100.72,124.61 L101.15,125.55 L101.61,126.73 L102.09,128.72 L102.60,129.85 L103.15,130.65 L103.74,131.88 L104.36,132.73 L104.98,134.22 L105.60,134.78 L106.37,136.17 L107.15,136.78 L107.93,137.83 L108.70,138.74 L109.32,139.76 L109.95,141.14 L110.57,142.66 L111.16,144.08 L111.70,144.80 L112.81,145.53 L113.80,145.92 L114.13,146.82 L114.43,148.08 L114.74,149.37 L115.06,150.88 L115.40,152.23 L115.80,153.24 L116.75,154.18 L117.83,155.17 L118.90,156.01 L119.94,157.26 L120.97,158.20 L122.00,159.29 L122.75,160.54 L123.50,161.75 L124.25,163.28 L125.00,164.55 L125.99,165.75 L126.99,166.21 L128.10,167.04 L129.39,167.29 L130.80,168.44 L132.20,169.01 L133.20,169.66 L134.19,170.50 L135.20,171.13 L136.30,171.50 L137.46,172.11 L138.66,172.96 L139.96,173.33 L141.40,173.86 L142.42,173.98 L143.46,174.32 L144.55,174.53 L145.73,174.74 L147.04,174.94 L148.50,175.12 L149.42,175.18 L150.17,175.26 L150.88,175.37 L151.64,175.42 L152.56,175.45 L153.74,175.50 L155.31,175.55 L157.36,175.57 L160.00,175.61 L160.81,175.61 L161.69,175.61 L162.65,175.62 L163.68,175.63 L164.77,175.64 L165.92,175.65 L167.12,175.65 L168.37,175.65 L169.67,175.66 L171.00,175.66 L172.37,175.66 L173.76,175.67 L175.18,175.67 L176.62,175.67 L178.07,175.68 L179.53,175.68 L180.99,175.68 L182.45,175.68 L183.90,175.68 L185.34,175.69 L186.76,175.69 L188.16,175.69 L189.53,175.69 L190.87,175.69 L192.17,175.69 L193.43,175.69 L194.64,175.69 L195.80,175.69 L196.90,175.69 L197.94,175.69 L198.91,175.70 L199.80,175.70 L200.62,175.70 L201.35,175.70 L202.00,175.70" fill="none" stroke="#3a3a3a" stroke-width="0.95" stroke-linejoin="round" stroke-linecap="round" />
<line x1="95.40" y1="107.80" x2="95.40" y2="175.60" stroke="#111" stroke-width="1.6" />
<line x1="242.30" y1="108.40" x2="242.30" y2="175.50" stroke="#333" stroke-width="1" />
<line x1="242.30" y1="175.50" x2="375.00" y2="175.50" stroke="#333" stroke-width="1" />
<line x1="238.40" y1="175.50" x2="242.30" y2="175.50" stroke="#555" stroke-width="0.8" />
<text transform="translate(238.10,177.10) scale(1,0.78)" font-size="8.6" text-anchor="end" fill="#222" stroke="#222" stroke-width="0.25">0</text>
<line x1="240.70" y1="173.28" x2="242.30" y2="173.28" stroke="#555" stroke-width="0.7" />
<line x1="240.70" y1="171.06" x2="242.30" y2="171.06" stroke="#555" stroke-width="0.7" />
<line x1="240.70" y1="168.84" x2="242.30" y2="168.84" stroke="#555" stroke-width="0.7" />
<line x1="240.70" y1="166.62" x2="242.30" y2="166.62" stroke="#555" stroke-width="0.7" />
<line x1="238.40" y1="164.40" x2="242.30" y2="164.40" stroke="#555" stroke-width="0.8" />
<text transform="translate(238.10,166.00) scale(1,0.78)" font-size="8.6" text-anchor="end" fill="#222" stroke="#222" stroke-width="0.25">50</text>
<line x1="240.70" y1="162.18" x2="242.30" y2="162.18" stroke="#555" stroke-width="0.7" />
<line x1="240.70" y1="159.96" x2="242.30" y2="159.96" stroke="#555" stroke-width="0.7" />
<line x1="240.70" y1="157.74" x2="242.30" y2="157.74" stroke="#555" stroke-width="0.7" />
<line x1="240.70" y1="155.52" x2="242.30" y2="155.52" stroke="#555" stroke-width="0.7" />
<line x1="238.40" y1="153.30" x2="242.30" y2="153.30" stroke="#555" stroke-width="0.8" />
<text transform="translate(238.10,154.90) scale(1,0.78)" font-size="8.6" text-anchor="end" fill="#222" stroke="#222" stroke-width="0.25">100</text>
<line x1="240.70" y1="151.08" x2="242.30" y2="151.08" stroke="#555" stroke-width="0.7" />
<line x1="240.70" y1="148.86" x2="242.30" y2="148.86" stroke="#555" stroke-width="0.7" />
<line x1="240.70" y1="146.64" x2="242.30" y2="146.64" stroke="#555" stroke-width="0.7" />
<line x1="240.70" y1="144.42" x2="242.30" y2="144.42" stroke="#555" stroke-width="0.7" />
<line x1="238.40" y1="142.20" x2="242.30" y2="142.20" stroke="#555" stroke-width="0.8" />
<text transform="translate(238.10,143.80) scale(1,0.78)" font-size="8.6" text-anchor="end" fill="#222" stroke="#222" stroke-width="0.25">150</text>
<line x1="240.70" y1="139.98" x2="242.30" y2="139.98" stroke="#555" stroke-width="0.7" />
<line x1="240.70" y1="137.76" x2="242.30" y2="137.76" stroke="#555" stroke-width="0.7" />
<line x1="240.70" y1="135.54" x2="242.30" y2="135.54" stroke="#555" stroke-width="0.7" />
<line x1="240.70" y1="133.32" x2="242.30" y2="133.32" stroke="#555" stroke-width="0.7" />
<line x1="238.40" y1="131.10" x2="242.30" y2="131.10" stroke="#555" stroke-width="0.8" />
<text transform="translate(238.10,132.70) scale(1,0.78)" font-size="8.6" text-anchor="end" fill="#222" stroke="#222" stroke-width="0.25">200</text>
<line x1="240.70" y1="128.88" x2="242.30" y2="128.88" stroke="#555" stroke-width="0.7" />
<line x1="240.70" y1="126.66" x2="242.30" y2="126.66" stroke="#555" stroke-width="0.7" />
<line x1="240.70" y1="124.44" x2="242.30" y2="124.44" stroke="#555" stroke-width="0.7" />
<line x1="240.70" y1="122.22" x2="242.30" y2="122.22" stroke="#555" stroke-width="0.7" />
<line x1="238.40" y1="120.00" x2="242.30" y2="120.00" stroke="#555" stroke-width="0.8" />
<text transform="translate(238.10,121.60) scale(1,0.78)" font-size="8.6" text-anchor="end" fill="#222" stroke="#222" stroke-width="0.25">250</text>
<line x1="240.70" y1="117.78" x2="242.30" y2="117.78" stroke="#555" stroke-width="0.7" />
<line x1="240.70" y1="115.56" x2="242.30" y2="115.56" stroke="#555" stroke-width="0.7" />
<line x1="240.70" y1="113.34" x2="242.30" y2="113.34" stroke="#555" stroke-width="0.7" />
<line x1="240.70" y1="111.12" x2="242.30" y2="111.12" stroke="#555" stroke-width="0.7" />
<line x1="238.40" y1="108.90" x2="242.30" y2="108.90" stroke="#555" stroke-width="0.8" />
<text transform="translate(238.10,110.50) scale(1,0.78)" font-size="8.6" text-anchor="end" fill="#222" stroke="#222" stroke-width="0.25">300</text>
<line x1="248.10" y1="175.50" x2="248.10" y2="177.70" stroke="#555" stroke-width="0.7" />
<line x1="259.15" y1="175.50" x2="259.15" y2="176.70" stroke="#555" stroke-width="0.7" />
<line x1="265.61" y1="175.50" x2="265.61" y2="176.70" stroke="#555" stroke-width="0.7" />
<line x1="270.20" y1="175.50" x2="270.20" y2="176.70" stroke="#555" stroke-width="0.7" />
<line x1="273.75" y1="175.50" x2="273.75" y2="176.70" stroke="#555" stroke-width="0.7" />
<line x1="276.66" y1="175.50" x2="276.66" y2="176.70" stroke="#555" stroke-width="0.7" />
<line x1="279.12" y1="175.50" x2="279.12" y2="176.70" stroke="#555" stroke-width="0.7" />
<line x1="281.24" y1="175.50" x2="281.24" y2="176.70" stroke="#555" stroke-width="0.7" />
<line x1="283.12" y1="175.50" x2="283.12" y2="176.70" stroke="#555" stroke-width="0.7" />
<line x1="284.80" y1="175.50" x2="284.80" y2="177.70" stroke="#555" stroke-width="0.7" />
<line x1="295.85" y1="175.50" x2="295.85" y2="176.70" stroke="#555" stroke-width="0.7" />
<line x1="302.31" y1="175.50" x2="302.31" y2="176.70" stroke="#555" stroke-width="0.7" />
<line x1="306.90" y1="175.50" x2="306.90" y2="176.70" stroke="#555" stroke-width="0.7" />
<line x1="310.45" y1="175.50" x2="310.45" y2="176.70" stroke="#555" stroke-width="0.7" />
<line x1="313.36" y1="175.50" x2="313.36" y2="176.70" stroke="#555" stroke-width="0.7" />
<line x1="315.82" y1="175.50" x2="315.82" y2="176.70" stroke="#555" stroke-width="0.7" />
<line x1="317.94" y1="175.50" x2="317.94" y2="176.70" stroke="#555" stroke-width="0.7" />
<line x1="319.82" y1="175.50" x2="319.82" y2="176.70" stroke="#555" stroke-width="0.7" />
<line x1="321.50" y1="175.50" x2="321.50" y2="177.70" stroke="#555" stroke-width="0.7" />
<line x1="332.55" y1="175.50" x2="332.55" y2="176.70" stroke="#555" stroke-width="0.7" />
<line x1="339.01" y1="175.50" x2="339.01" y2="176.70" stroke="#555" stroke-width="0.7" />
<line x1="343.60" y1="175.50" x2="343.60" y2="176.70" stroke="#555" stroke-width="0.7" />
<line x1="347.15" y1="175.50" x2="347.15" y2="176.70" stroke="#555" stroke-width="0.7" />
<line x1="350.06" y1="175.50" x2="350.06" y2="176.70" stroke="#555" stroke-width="0.7" />
<line x1="352.52" y1="175.50" x2="352.52" y2="176.70" stroke="#555" stroke-width="0.7" />
<line x1="354.64" y1="175.50" x2="354.64" y2="176.70" stroke="#555" stroke-width="0.7" />
<line x1="356.52" y1="175.50" x2="356.52" y2="176.70" stroke="#555" stroke-width="0.7" />
<line x1="358.20" y1="175.50" x2="358.20" y2="177.70" stroke="#555" stroke-width="0.7" />
<line x1="369.25" y1="175.50" x2="369.25" y2="176.70" stroke="#555" stroke-width="0.7" />
<line x1="244.30" y1="175.50" x2="244.30" y2="176.70" stroke="#555" stroke-width="0.7" />
<line x1="246.30" y1="175.50" x2="246.30" y2="176.70" stroke="#555" stroke-width="0.7" />
<text transform="translate(243.10,183.80) scale(1,0.78)" font-size="8.6" text-anchor="middle" fill="#222" stroke="#222" stroke-width="0.25">0</text>
<text transform="translate(285.60,183.80) scale(1,0.78)" font-size="8.6" text-anchor="middle" fill="#222" stroke="#222" stroke-width="0.25">10<tspan font-size="6.0" dy="-3">2</tspan></text>
<text transform="translate(322.30,183.80) scale(1,0.78)" font-size="8.6" text-anchor="middle" fill="#222" stroke="#222" stroke-width="0.25">10<tspan font-size="6.0" dy="-3">3</tspan></text>
<text transform="translate(359.00,183.80) scale(1,0.78)" font-size="8.6" text-anchor="middle" fill="#222" stroke="#222" stroke-width="0.25">10<tspan font-size="6.0" dy="-3">4</tspan></text>
<path d="M242.90,175.10 L243.76,174.91 L245.00,174.66 L246.41,174.31 L247.81,173.93 L249.00,173.76 L250.55,173.45 L251.88,173.42 L253.10,172.63 L253.95,171.76 L254.71,170.62 L255.45,168.64 L256.20,167.48 L256.82,166.64 L257.44,165.82 L258.07,165.43 L258.69,163.72 L259.30,162.36 L259.55,161.39 L259.81,160.26 L260.06,159.15 L260.32,158.50 L260.57,156.89 L260.83,155.98 L261.08,154.28 L261.33,152.93 L261.57,151.52 L261.82,150.17 L262.06,148.90 L262.30,148.29 L262.58,147.07 L262.86,145.84 L263.14,144.44 L263.42,143.34 L263.69,141.94 L263.96,140.67 L264.22,139.81 L264.48,138.35 L264.74,136.89 L265.00,135.95 L265.25,134.92 L265.50,133.56 L265.75,132.11 L266.00,130.96 L266.24,129.34 L266.48,128.35 L266.71,127.07 L266.94,125.49 L267.17,124.98 L267.40,123.84 L267.72,122.36 L268.02,120.61 L268.33,119.67 L268.62,118.17 L268.92,116.86 L269.21,116.49 L269.50,115.55 L270.52,113.59 L271.50,113.37 L272.39,113.41 L273.20,115.67 L273.39,116.21 L273.56,117.78 L273.72,118.88 L273.88,120.48 L274.04,121.77 L274.21,123.05 L274.40,124.33 L274.60,125.47 L275.22,127.34 L275.90,128.14 L276.60,129.68 L277.00,130.57 L277.39,131.72 L277.79,133.02 L278.22,134.28 L278.70,135.87 L279.03,137.00 L279.38,138.16 L279.75,139.04 L280.14,140.43 L280.53,141.65 L280.92,143.14 L281.31,144.19 L281.70,144.99 L282.73,146.56 L283.76,147.24 L284.80,148.41 L285.55,149.58 L286.29,150.85 L287.05,151.80 L287.90,153.34 L288.54,154.00 L289.23,155.78 L289.96,156.98 L290.68,158.32 L291.37,159.67 L292.00,160.56 L293.08,161.23 L294.03,161.61 L295.00,162.72 L295.60,163.42 L296.18,164.67 L296.78,165.52 L297.41,166.83 L298.10,167.69 L299.01,168.56 L299.96,169.35 L301.01,170.06 L302.20,170.49 L303.23,170.99 L304.30,171.88 L305.47,172.30 L306.79,172.61 L308.30,173.09 L309.30,173.49 L310.30,173.66 L311.33,173.92 L312.44,174.11 L313.67,174.18 L315.06,174.41 L316.66,174.60 L318.50,174.73 L319.45,174.78 L320.44,174.79 L321.46,174.84 L322.52,174.89 L323.61,174.91 L324.75,174.94 L325.92,174.97 L327.14,175.00 L328.40,175.01 L329.69,175.02 L331.03,175.04 L332.42,175.04 L333.84,175.06 L335.31,175.07 L336.83,175.08 L338.39,175.09 L340.00,175.10 L341.03,175.11 L342.12,175.11 L343.28,175.12 L344.50,175.12 L345.76,175.12 L347.07,175.13 L348.42,175.13 L349.79,175.13 L351.20,175.13 L352.61,175.13 L354.05,175.13 L355.48,175.13 L356.92,175.13 L358.34,175.12 L359.76,175.13 L361.15,175.12 L362.52,175.12 L363.85,175.12 L365.15,175.11 L366.40,175.11 L367.60,175.11 L368.74,175.11 L369.81,175.11 L370.82,175.10 L371.75,175.10 L372.59,175.10 L373.34,175.10 L374.00,175.10" fill="none" stroke="#3a3a3a" stroke-width="0.95" stroke-linejoin="round" stroke-linecap="round" />
<line x1="266.80" y1="107.40" x2="266.80" y2="175.50" stroke="#555" stroke-width="1.4" />
<line x1="68.50" y1="214.50" x2="68.50" y2="287.90" stroke="#777" stroke-width="1" />
<line x1="68.50" y1="287.90" x2="203.70" y2="287.90" stroke="#b0b0b0" stroke-width="0.9" />
<line x1="65.00" y1="287.90" x2="68.50" y2="287.90" stroke="#555" stroke-width="0.8" />
<text transform="translate(64.70,289.50) scale(1,0.6)" font-size="8.3" text-anchor="end" fill="#444" stroke="#444" stroke-width="0.15">0</text>
<line x1="66.90" y1="286.44" x2="68.50" y2="286.44" stroke="#555" stroke-width="0.7" />
<line x1="66.90" y1="284.98" x2="68.50" y2="284.98" stroke="#555" stroke-width="0.7" />
<line x1="66.90" y1="283.53" x2="68.50" y2="283.53" stroke="#555" stroke-width="0.7" />
<line x1="66.90" y1="282.07" x2="68.50" y2="282.07" stroke="#555" stroke-width="0.7" />
<line x1="65.00" y1="280.61" x2="68.50" y2="280.61" stroke="#555" stroke-width="0.8" />
<text transform="translate(64.70,282.21) scale(1,0.6)" font-size="8.3" text-anchor="end" fill="#444" stroke="#444" stroke-width="0.15">50</text>
<line x1="66.90" y1="279.15" x2="68.50" y2="279.15" stroke="#555" stroke-width="0.7" />
<line x1="66.90" y1="277.69" x2="68.50" y2="277.69" stroke="#555" stroke-width="0.7" />
<line x1="66.90" y1="276.24" x2="68.50" y2="276.24" stroke="#555" stroke-width="0.7" />
<line x1="66.90" y1="274.78" x2="68.50" y2="274.78" stroke="#555" stroke-width="0.7" />
<line x1="65.00" y1="273.32" x2="68.50" y2="273.32" stroke="#555" stroke-width="0.8" />
<text transform="translate(64.70,274.92) scale(1,0.6)" font-size="8.3" text-anchor="end" fill="#444" stroke="#444" stroke-width="0.15">100</text>
<line x1="66.90" y1="271.86" x2="68.50" y2="271.86" stroke="#555" stroke-width="0.7" />
<line x1="66.90" y1="270.40" x2="68.50" y2="270.40" stroke="#555" stroke-width="0.7" />
<line x1="66.90" y1="268.95" x2="68.50" y2="268.95" stroke="#555" stroke-width="0.7" />
<line x1="66.90" y1="267.49" x2="68.50" y2="267.49" stroke="#555" stroke-width="0.7" />
<line x1="65.00" y1="266.03" x2="68.50" y2="266.03" stroke="#555" stroke-width="0.8" />
<text transform="translate(64.70,267.63) scale(1,0.6)" font-size="8.3" text-anchor="end" fill="#444" stroke="#444" stroke-width="0.15">150</text>
<line x1="66.90" y1="264.57" x2="68.50" y2="264.57" stroke="#555" stroke-width="0.7" />
<line x1="66.90" y1="263.11" x2="68.50" y2="263.11" stroke="#555" stroke-width="0.7" />
<line x1="66.90" y1="261.66" x2="68.50" y2="261.66" stroke="#555" stroke-width="0.7" />
<line x1="66.90" y1="260.20" x2="68.50" y2="260.20" stroke="#555" stroke-width="0.7" />
<line x1="65.00" y1="258.74" x2="68.50" y2="258.74" stroke="#555" stroke-width="0.8" />
<text transform="translate(64.70,260.34) scale(1,0.6)" font-size="8.3" text-anchor="end" fill="#444" stroke="#444" stroke-width="0.15">200</text>
<line x1="66.90" y1="257.28" x2="68.50" y2="257.28" stroke="#555" stroke-width="0.7" />
<line x1="66.90" y1="255.82" x2="68.50" y2="255.82" stroke="#555" stroke-width="0.7" />
<line x1="66.90" y1="254.37" x2="68.50" y2="254.37" stroke="#555" stroke-width="0.7" />
<line x1="66.90" y1="252.91" x2="68.50" y2="252.91" stroke="#555" stroke-width="0.7" />
<line x1="65.00" y1="251.45" x2="68.50" y2="251.45" stroke="#555" stroke-width="0.8" />
<text transform="translate(64.70,253.05) scale(1,0.6)" font-size="8.3" text-anchor="end" fill="#444" stroke="#444" stroke-width="0.15">250</text>
<line x1="66.90" y1="249.99" x2="68.50" y2="249.99" stroke="#555" stroke-width="0.7" />
<line x1="66.90" y1="248.53" x2="68.50" y2="248.53" stroke="#555" stroke-width="0.7" />
<line x1="66.90" y1="247.08" x2="68.50" y2="247.08" stroke="#555" stroke-width="0.7" />
<line x1="66.90" y1="245.62" x2="68.50" y2="245.62" stroke="#555" stroke-width="0.7" />
<line x1="65.00" y1="244.16" x2="68.50" y2="244.16" stroke="#555" stroke-width="0.8" />
<text transform="translate(64.70,245.76) scale(1,0.6)" font-size="8.3" text-anchor="end" fill="#444" stroke="#444" stroke-width="0.15">300</text>
<line x1="66.90" y1="242.70" x2="68.50" y2="242.70" stroke="#555" stroke-width="0.7" />
<line x1="66.90" y1="241.24" x2="68.50" y2="241.24" stroke="#555" stroke-width="0.7" />
<line x1="66.90" y1="239.79" x2="68.50" y2="239.79" stroke="#555" stroke-width="0.7" />
<line x1="66.90" y1="238.33" x2="68.50" y2="238.33" stroke="#555" stroke-width="0.7" />
<line x1="65.00" y1="236.87" x2="68.50" y2="236.87" stroke="#555" stroke-width="0.8" />
<text transform="translate(64.70,238.47) scale(1,0.6)" font-size="8.3" text-anchor="end" fill="#444" stroke="#444" stroke-width="0.15">350</text>
<line x1="66.90" y1="235.41" x2="68.50" y2="235.41" stroke="#555" stroke-width="0.7" />
<line x1="66.90" y1="233.95" x2="68.50" y2="233.95" stroke="#555" stroke-width="0.7" />
<line x1="66.90" y1="232.50" x2="68.50" y2="232.50" stroke="#555" stroke-width="0.7" />
<line x1="66.90" y1="231.04" x2="68.50" y2="231.04" stroke="#555" stroke-width="0.7" />
<line x1="65.00" y1="229.58" x2="68.50" y2="229.58" stroke="#555" stroke-width="0.8" />
<text transform="translate(64.70,231.18) scale(1,0.6)" font-size="8.3" text-anchor="end" fill="#444" stroke="#444" stroke-width="0.15">400</text>
<line x1="66.90" y1="228.12" x2="68.50" y2="228.12" stroke="#555" stroke-width="0.7" />
<line x1="66.90" y1="226.66" x2="68.50" y2="226.66" stroke="#555" stroke-width="0.7" />
<line x1="66.90" y1="225.21" x2="68.50" y2="225.21" stroke="#555" stroke-width="0.7" />
<line x1="66.90" y1="223.75" x2="68.50" y2="223.75" stroke="#555" stroke-width="0.7" />
<line x1="65.00" y1="222.29" x2="68.50" y2="222.29" stroke="#555" stroke-width="0.8" />
<text transform="translate(64.70,223.89) scale(1,0.6)" font-size="8.3" text-anchor="end" fill="#444" stroke="#444" stroke-width="0.15">450</text>
<line x1="66.90" y1="220.83" x2="68.50" y2="220.83" stroke="#555" stroke-width="0.7" />
<line x1="66.90" y1="219.37" x2="68.50" y2="219.37" stroke="#555" stroke-width="0.7" />
<line x1="66.90" y1="217.92" x2="68.50" y2="217.92" stroke="#555" stroke-width="0.7" />
<line x1="66.90" y1="216.46" x2="68.50" y2="216.46" stroke="#555" stroke-width="0.7" />
<line x1="65.00" y1="215.00" x2="68.50" y2="215.00" stroke="#555" stroke-width="0.8" />
<text transform="translate(64.70,216.60) scale(1,0.6)" font-size="8.3" text-anchor="end" fill="#444" stroke="#444" stroke-width="0.15">500</text>
<line x1="71.50" y1="287.90" x2="71.50" y2="290.10" stroke="#555" stroke-width="0.7" />
<line x1="83.09" y1="287.90" x2="83.09" y2="289.10" stroke="#555" stroke-width="0.7" />
<line x1="89.87" y1="287.90" x2="89.87" y2="289.10" stroke="#555" stroke-width="0.7" />
<line x1="94.68" y1="287.90" x2="94.68" y2="289.10" stroke="#555" stroke-width="0.7" />
<line x1="98.41" y1="287.90" x2="98.41" y2="289.10" stroke="#555" stroke-width="0.7" />
<line x1="101.46" y1="287.90" x2="101.46" y2="289.10" stroke="#555" stroke-width="0.7" />
<line x1="104.04" y1="287.90" x2="104.04" y2="289.10" stroke="#555" stroke-width="0.7" />
<line x1="106.27" y1="287.90" x2="106.27" y2="289.10" stroke="#555" stroke-width="0.7" />
<line x1="108.24" y1="287.90" x2="108.24" y2="289.10" stroke="#555" stroke-width="0.7" />
<line x1="110.00" y1="287.90" x2="110.00" y2="290.10" stroke="#555" stroke-width="0.7" />
<line x1="121.59" y1="287.90" x2="121.59" y2="289.10" stroke="#555" stroke-width="0.7" />
<line x1="128.37" y1="287.90" x2="128.37" y2="289.10" stroke="#555" stroke-width="0.7" />
<line x1="133.18" y1="287.90" x2="133.18" y2="289.10" stroke="#555" stroke-width="0.7" />
<line x1="136.91" y1="287.90" x2="136.91" y2="289.10" stroke="#555" stroke-width="0.7" />
<line x1="139.96" y1="287.90" x2="139.96" y2="289.10" stroke="#555" stroke-width="0.7" />
<line x1="142.54" y1="287.90" x2="142.54" y2="289.10" stroke="#555" stroke-width="0.7" />
<line x1="144.77" y1="287.90" x2="144.77" y2="289.10" stroke="#555" stroke-width="0.7" />
<line x1="146.74" y1="287.90" x2="146.74" y2="289.10" stroke="#555" stroke-width="0.7" />
<line x1="148.50" y1="287.90" x2="148.50" y2="290.10" stroke="#555" stroke-width="0.7" />
<line x1="160.09" y1="287.90" x2="160.09" y2="289.10" stroke="#555" stroke-width="0.7" />
<line x1="166.87" y1="287.90" x2="166.87" y2="289.10" stroke="#555" stroke-width="0.7" />
<line x1="171.68" y1="287.90" x2="171.68" y2="289.10" stroke="#555" stroke-width="0.7" />
<line x1="175.41" y1="287.90" x2="175.41" y2="289.10" stroke="#555" stroke-width="0.7" />
<line x1="178.46" y1="287.90" x2="178.46" y2="289.10" stroke="#555" stroke-width="0.7" />
<line x1="181.04" y1="287.90" x2="181.04" y2="289.10" stroke="#555" stroke-width="0.7" />
<line x1="183.27" y1="287.90" x2="183.27" y2="289.10" stroke="#555" stroke-width="0.7" />
<line x1="185.24" y1="287.90" x2="185.24" y2="289.10" stroke="#555" stroke-width="0.7" />
<line x1="187.00" y1="287.90" x2="187.00" y2="290.10" stroke="#555" stroke-width="0.7" />
<line x1="198.59" y1="287.90" x2="198.59" y2="289.10" stroke="#555" stroke-width="0.7" />
<line x1="70.50" y1="287.90" x2="70.50" y2="289.10" stroke="#555" stroke-width="0.7" />
<line x1="72.50" y1="287.90" x2="72.50" y2="289.10" stroke="#555" stroke-width="0.7" />
<text transform="translate(69.30,294.00) scale(1,0.6)" font-size="8.3" text-anchor="middle" fill="#444" stroke="#444" stroke-width="0.15">0</text>
<text transform="translate(110.80,294.00) scale(1,0.6)" font-size="8.3" text-anchor="middle" fill="#444" stroke="#444" stroke-width="0.15">10<tspan font-size="5.8" dy="-3">2</tspan></text>
<text transform="translate(149.30,294.00) scale(1,0.6)" font-size="8.3" text-anchor="middle" fill="#444" stroke="#444" stroke-width="0.15">10<tspan font-size="5.8" dy="-3">3</tspan></text>
<text transform="translate(187.80,294.00) scale(1,0.6)" font-size="8.3" text-anchor="middle" fill="#444" stroke="#444" stroke-width="0.15">10<tspan font-size="5.8" dy="-3">4</tspan></text>
<path d="M69.00,287.90 L69.65,287.90 L70.40,287.89 L71.23,287.89 L72.14,287.88 L73.13,287.88 L74.19,287.88 L75.31,287.87 L76.50,287.86 L77.74,287.87 L79.02,287.86 L80.35,287.85 L81.72,287.85 L83.12,287.85 L84.54,287.84 L85.99,287.84 L87.45,287.83 L88.92,287.82 L90.39,287.81 L91.87,287.80 L93.33,287.79 L94.78,287.78 L96.22,287.78 L97.63,287.77 L99.01,287.77 L100.36,287.75 L101.67,287.74 L102.93,287.73 L104.14,287.71 L105.29,287.69 L106.38,287.69 L107.40,287.67 L108.35,287.63 L109.22,287.61 L110.00,287.58 L113.00,287.47 L115.00,287.41 L116.26,287.32 L117.05,287.17 L117.64,286.97 L118.30,286.83 L119.30,286.48 L120.56,286.19 L121.83,285.76 L123.07,285.47 L124.29,285.33 L125.46,284.79 L126.57,284.64 L127.60,283.46 L128.69,283.36 L129.69,282.57 L130.61,281.61 L131.47,280.67 L132.29,279.58 L133.10,277.90 L133.63,277.13 L134.15,276.43 L134.65,274.91 L135.13,273.37 L135.60,272.30 L136.05,270.71 L136.49,269.80 L136.90,268.25 L137.30,267.44 L137.67,266.18 L138.02,264.72 L138.34,263.25 L138.64,262.31 L138.93,261.31 L139.22,259.63 L139.50,258.48 L139.80,257.27 L140.10,256.21 L140.35,254.62 L140.61,253.48 L140.87,252.63 L141.12,250.97 L141.38,249.99 L141.63,248.24 L141.89,247.23 L142.14,245.68 L142.40,244.70 L142.65,243.19 L142.90,241.93 L143.18,241.15 L143.46,239.63 L143.74,238.09 L144.02,236.37 L144.30,235.31 L144.58,233.65 L144.84,232.99 L145.11,231.62 L145.36,230.33 L145.60,229.66 L146.31,227.83 L146.94,226.76 L147.60,226.00 L148.65,226.32 L149.80,228.21 L150.09,229.28 L150.38,230.03 L150.69,231.43 L151.01,232.42 L151.33,233.35 L151.65,234.89 L151.97,236.65 L152.29,237.63 L152.60,239.47 L152.80,240.53 L152.99,241.28 L153.18,242.57 L153.38,243.60 L153.57,244.71 L153.76,246.25 L153.95,247.18 L154.14,248.55 L154.33,250.06 L154.52,251.31 L154.72,252.39 L154.91,253.57 L155.10,254.82 L155.30,256.30 L155.55,257.72 L155.78,258.47 L156.02,260.24 L156.25,261.72 L156.49,262.99 L156.73,264.18 L156.97,265.46 L157.23,266.37 L157.50,267.53 L157.79,268.53 L158.10,269.83 L158.55,271.69 L159.02,273.00 L159.52,273.74 L160.03,275.14 L160.57,276.23 L161.13,277.65 L161.70,278.44 L162.30,279.41 L163.09,281.03 L163.88,281.43 L164.71,282.26 L165.61,283.33 L166.63,283.82 L167.80,284.06 L168.70,284.79 L169.56,285.38 L170.44,285.58 L171.40,285.86 L172.52,286.31 L173.87,286.67 L175.50,286.78 L177.50,287.03 L178.40,287.21 L179.42,287.26 L180.54,287.33 L181.75,287.36 L183.03,287.47 L184.38,287.50 L185.77,287.56 L187.21,287.58 L188.66,287.61 L190.13,287.67 L191.58,287.67 L193.03,287.73 L194.44,287.74 L195.80,287.76 L197.11,287.80 L198.35,287.81 L199.50,287.83 L200.56,287.85 L201.50,287.86 L202.32,287.88 L203.00,287.90" fill="none" stroke="#444" stroke-width="0.85" stroke-linejoin="round" stroke-linecap="round" stroke-dasharray="2.4,0.8"/>
<line x1="148.40" y1="213.50" x2="148.40" y2="287.90" stroke="#222" stroke-width="1.1" />
<line x1="240.50" y1="214.50" x2="240.50" y2="287.00" stroke="#777" stroke-width="1" />
<line x1="240.50" y1="287.00" x2="378.50" y2="287.00" stroke="#b0b0b0" stroke-width="0.9" />
<line x1="237.00" y1="287.00" x2="240.50" y2="287.00" stroke="#555" stroke-width="0.8" />
<text transform="translate(236.70,288.60) scale(1,0.6)" font-size="8.3" text-anchor="end" fill="#444" stroke="#444" stroke-width="0.15">0</text>
<line x1="238.90" y1="285.56" x2="240.50" y2="285.56" stroke="#555" stroke-width="0.7" />
<line x1="238.90" y1="284.12" x2="240.50" y2="284.12" stroke="#555" stroke-width="0.7" />
<line x1="238.90" y1="282.68" x2="240.50" y2="282.68" stroke="#555" stroke-width="0.7" />
<line x1="238.90" y1="281.24" x2="240.50" y2="281.24" stroke="#555" stroke-width="0.7" />
<line x1="237.00" y1="279.80" x2="240.50" y2="279.80" stroke="#555" stroke-width="0.8" />
<text transform="translate(236.70,281.40) scale(1,0.6)" font-size="8.3" text-anchor="end" fill="#444" stroke="#444" stroke-width="0.15">50</text>
<line x1="238.90" y1="278.36" x2="240.50" y2="278.36" stroke="#555" stroke-width="0.7" />
<line x1="238.90" y1="276.92" x2="240.50" y2="276.92" stroke="#555" stroke-width="0.7" />
<line x1="238.90" y1="275.48" x2="240.50" y2="275.48" stroke="#555" stroke-width="0.7" />
<line x1="238.90" y1="274.04" x2="240.50" y2="274.04" stroke="#555" stroke-width="0.7" />
<line x1="237.00" y1="272.60" x2="240.50" y2="272.60" stroke="#555" stroke-width="0.8" />
<text transform="translate(236.70,274.20) scale(1,0.6)" font-size="8.3" text-anchor="end" fill="#444" stroke="#444" stroke-width="0.15">100</text>
<line x1="238.90" y1="271.16" x2="240.50" y2="271.16" stroke="#555" stroke-width="0.7" />
<line x1="238.90" y1="269.72" x2="240.50" y2="269.72" stroke="#555" stroke-width="0.7" />
<line x1="238.90" y1="268.28" x2="240.50" y2="268.28" stroke="#555" stroke-width="0.7" />
<line x1="238.90" y1="266.84" x2="240.50" y2="266.84" stroke="#555" stroke-width="0.7" />
<line x1="237.00" y1="265.40" x2="240.50" y2="265.40" stroke="#555" stroke-width="0.8" />
<text transform="translate(236.70,267.00) scale(1,0.6)" font-size="8.3" text-anchor="end" fill="#444" stroke="#444" stroke-width="0.15">150</text>
<line x1="238.90" y1="263.96" x2="240.50" y2="263.96" stroke="#555" stroke-width="0.7" />
<line x1="238.90" y1="262.52" x2="240.50" y2="262.52" stroke="#555" stroke-width="0.7" />
<line x1="238.90" y1="261.08" x2="240.50" y2="261.08" stroke="#555" stroke-width="0.7" />
<line x1="238.90" y1="259.64" x2="240.50" y2="259.64" stroke="#555" stroke-width="0.7" />
<line x1="237.00" y1="258.20" x2="240.50" y2="258.20" stroke="#555" stroke-width="0.8" />
<text transform="translate(236.70,259.80) scale(1,0.6)" font-size="8.3" text-anchor="end" fill="#444" stroke="#444" stroke-width="0.15">200</text>
<line x1="238.90" y1="256.76" x2="240.50" y2="256.76" stroke="#555" stroke-width="0.7" />
<line x1="238.90" y1="255.32" x2="240.50" y2="255.32" stroke="#555" stroke-width="0.7" />
<line x1="238.90" y1="253.88" x2="240.50" y2="253.88" stroke="#555" stroke-width="0.7" />
<line x1="238.90" y1="252.44" x2="240.50" y2="252.44" stroke="#555" stroke-width="0.7" />
<line x1="237.00" y1="251.00" x2="240.50" y2="251.00" stroke="#555" stroke-width="0.8" />
<text transform="translate(236.70,252.60) scale(1,0.6)" font-size="8.3" text-anchor="end" fill="#444" stroke="#444" stroke-width="0.15">250</text>
<line x1="238.90" y1="249.56" x2="240.50" y2="249.56" stroke="#555" stroke-width="0.7" />
<line x1="238.90" y1="248.12" x2="240.50" y2="248.12" stroke="#555" stroke-width="0.7" />
<line x1="238.90" y1="246.68" x2="240.50" y2="246.68" stroke="#555" stroke-width="0.7" />
<line x1="238.90" y1="245.24" x2="240.50" y2="245.24" stroke="#555" stroke-width="0.7" />
<line x1="237.00" y1="243.80" x2="240.50" y2="243.80" stroke="#555" stroke-width="0.8" />
<text transform="translate(236.70,245.40) scale(1,0.6)" font-size="8.3" text-anchor="end" fill="#444" stroke="#444" stroke-width="0.15">300</text>
<line x1="238.90" y1="242.36" x2="240.50" y2="242.36" stroke="#555" stroke-width="0.7" />
<line x1="238.90" y1="240.92" x2="240.50" y2="240.92" stroke="#555" stroke-width="0.7" />
<line x1="238.90" y1="239.48" x2="240.50" y2="239.48" stroke="#555" stroke-width="0.7" />
<line x1="238.90" y1="238.04" x2="240.50" y2="238.04" stroke="#555" stroke-width="0.7" />
<line x1="237.00" y1="236.60" x2="240.50" y2="236.60" stroke="#555" stroke-width="0.8" />
<text transform="translate(236.70,238.20) scale(1,0.6)" font-size="8.3" text-anchor="end" fill="#444" stroke="#444" stroke-width="0.15">350</text>
<line x1="238.90" y1="235.16" x2="240.50" y2="235.16" stroke="#555" stroke-width="0.7" />
<line x1="238.90" y1="233.72" x2="240.50" y2="233.72" stroke="#555" stroke-width="0.7" />
<line x1="238.90" y1="232.28" x2="240.50" y2="232.28" stroke="#555" stroke-width="0.7" />
<line x1="238.90" y1="230.84" x2="240.50" y2="230.84" stroke="#555" stroke-width="0.7" />
<line x1="237.00" y1="229.40" x2="240.50" y2="229.40" stroke="#555" stroke-width="0.8" />
<text transform="translate(236.70,231.00) scale(1,0.6)" font-size="8.3" text-anchor="end" fill="#444" stroke="#444" stroke-width="0.15">400</text>
<line x1="238.90" y1="227.96" x2="240.50" y2="227.96" stroke="#555" stroke-width="0.7" />
<line x1="238.90" y1="226.52" x2="240.50" y2="226.52" stroke="#555" stroke-width="0.7" />
<line x1="238.90" y1="225.08" x2="240.50" y2="225.08" stroke="#555" stroke-width="0.7" />
<line x1="238.90" y1="223.64" x2="240.50" y2="223.64" stroke="#555" stroke-width="0.7" />
<line x1="237.00" y1="222.20" x2="240.50" y2="222.20" stroke="#555" stroke-width="0.8" />
<text transform="translate(236.70,223.80) scale(1,0.6)" font-size="8.3" text-anchor="end" fill="#444" stroke="#444" stroke-width="0.15">450</text>
<line x1="238.90" y1="220.76" x2="240.50" y2="220.76" stroke="#555" stroke-width="0.7" />
<line x1="238.90" y1="219.32" x2="240.50" y2="219.32" stroke="#555" stroke-width="0.7" />
<line x1="238.90" y1="217.88" x2="240.50" y2="217.88" stroke="#555" stroke-width="0.7" />
<line x1="238.90" y1="216.44" x2="240.50" y2="216.44" stroke="#555" stroke-width="0.7" />
<line x1="237.00" y1="215.00" x2="240.50" y2="215.00" stroke="#555" stroke-width="0.8" />
<text transform="translate(236.70,216.60) scale(1,0.6)" font-size="8.3" text-anchor="end" fill="#444" stroke="#444" stroke-width="0.15">500</text>
<line x1="246.70" y1="287.00" x2="246.70" y2="289.20" stroke="#555" stroke-width="0.7" />
<line x1="258.23" y1="287.00" x2="258.23" y2="288.20" stroke="#555" stroke-width="0.7" />
<line x1="264.97" y1="287.00" x2="264.97" y2="288.20" stroke="#555" stroke-width="0.7" />
<line x1="269.76" y1="287.00" x2="269.76" y2="288.20" stroke="#555" stroke-width="0.7" />
<line x1="273.47" y1="287.00" x2="273.47" y2="288.20" stroke="#555" stroke-width="0.7" />
<line x1="276.50" y1="287.00" x2="276.50" y2="288.20" stroke="#555" stroke-width="0.7" />
<line x1="279.07" y1="287.00" x2="279.07" y2="288.20" stroke="#555" stroke-width="0.7" />
<line x1="281.29" y1="287.00" x2="281.29" y2="288.20" stroke="#555" stroke-width="0.7" />
<line x1="283.25" y1="287.00" x2="283.25" y2="288.20" stroke="#555" stroke-width="0.7" />
<line x1="285.00" y1="287.00" x2="285.00" y2="289.20" stroke="#555" stroke-width="0.7" />
<line x1="296.53" y1="287.00" x2="296.53" y2="288.20" stroke="#555" stroke-width="0.7" />
<line x1="303.27" y1="287.00" x2="303.27" y2="288.20" stroke="#555" stroke-width="0.7" />
<line x1="308.06" y1="287.00" x2="308.06" y2="288.20" stroke="#555" stroke-width="0.7" />
<line x1="311.77" y1="287.00" x2="311.77" y2="288.20" stroke="#555" stroke-width="0.7" />
<line x1="314.80" y1="287.00" x2="314.80" y2="288.20" stroke="#555" stroke-width="0.7" />
<line x1="317.37" y1="287.00" x2="317.37" y2="288.20" stroke="#555" stroke-width="0.7" />
<line x1="319.59" y1="287.00" x2="319.59" y2="288.20" stroke="#555" stroke-width="0.7" />
<line x1="321.55" y1="287.00" x2="321.55" y2="288.20" stroke="#555" stroke-width="0.7" />
<line x1="323.30" y1="287.00" x2="323.30" y2="289.20" stroke="#555" stroke-width="0.7" />
<line x1="334.83" y1="287.00" x2="334.83" y2="288.20" stroke="#555" stroke-width="0.7" />
<line x1="341.57" y1="287.00" x2="341.57" y2="288.20" stroke="#555" stroke-width="0.7" />
<line x1="346.36" y1="287.00" x2="346.36" y2="288.20" stroke="#555" stroke-width="0.7" />
<line x1="350.07" y1="287.00" x2="350.07" y2="288.20" stroke="#555" stroke-width="0.7" />
<line x1="353.10" y1="287.00" x2="353.10" y2="288.20" stroke="#555" stroke-width="0.7" />
<line x1="355.67" y1="287.00" x2="355.67" y2="288.20" stroke="#555" stroke-width="0.7" />
<line x1="357.89" y1="287.00" x2="357.89" y2="288.20" stroke="#555" stroke-width="0.7" />
<line x1="359.85" y1="287.00" x2="359.85" y2="288.20" stroke="#555" stroke-width="0.7" />
<line x1="361.60" y1="287.00" x2="361.60" y2="289.20" stroke="#555" stroke-width="0.7" />
<line x1="373.13" y1="287.00" x2="373.13" y2="288.20" stroke="#555" stroke-width="0.7" />
<line x1="242.50" y1="287.00" x2="242.50" y2="288.20" stroke="#555" stroke-width="0.7" />
<line x1="244.50" y1="287.00" x2="244.50" y2="288.20" stroke="#555" stroke-width="0.7" />
<text transform="translate(241.30,293.10) scale(1,0.6)" font-size="8.3" text-anchor="middle" fill="#444" stroke="#444" stroke-width="0.15">0</text>
<text transform="translate(285.80,293.10) scale(1,0.6)" font-size="8.3" text-anchor="middle" fill="#444" stroke="#444" stroke-width="0.15">10<tspan font-size="5.8" dy="-3">2</tspan></text>
<text transform="translate(324.10,293.10) scale(1,0.6)" font-size="8.3" text-anchor="middle" fill="#444" stroke="#444" stroke-width="0.15">10<tspan font-size="5.8" dy="-3">3</tspan></text>
<text transform="translate(362.40,293.10) scale(1,0.6)" font-size="8.3" text-anchor="middle" fill="#444" stroke="#444" stroke-width="0.15">10<tspan font-size="5.8" dy="-3">4</tspan></text>
<path d="M241.00,287.00 L241.67,287.00 L242.47,286.99 L243.38,286.99 L244.39,286.98 L245.50,286.97 L246.68,286.97 L247.95,286.96 L249.27,286.96 L250.64,286.95 L252.05,286.94 L253.49,286.94 L254.95,286.92 L256.42,286.92 L257.88,286.91 L259.33,286.90 L260.76,286.88 L262.15,286.88 L263.49,286.87 L264.78,286.87 L266.00,286.85 L267.14,286.82 L268.20,286.83 L269.15,286.80 L270.00,286.81 L272.35,286.78 L274.11,286.76 L275.41,286.77 L276.38,286.71 L277.18,286.67 L277.94,286.54 L278.80,286.43 L280.25,286.11 L281.36,285.61 L282.35,285.03 L283.40,283.65 L284.07,282.91 L284.76,281.97 L285.45,281.24 L286.13,280.30 L286.80,279.27 L287.42,277.56 L288.00,276.21 L288.34,275.34 L288.65,273.96 L288.95,273.00 L289.24,271.68 L289.51,270.51 L289.78,269.39 L290.04,267.99 L290.30,266.72 L290.56,265.29 L290.82,264.10 L291.10,262.51 L291.31,261.40 L291.52,260.11 L291.73,259.08 L291.94,257.89 L292.16,256.23 L292.37,254.88 L292.59,253.61 L292.80,252.68 L293.01,251.24 L293.22,249.75 L293.42,249.10 L293.62,247.31 L293.82,246.42 L294.01,245.41 L294.20,243.90 L294.43,242.66 L294.64,240.93 L294.85,239.87 L295.06,238.38 L295.26,236.95 L295.46,235.58 L295.65,234.04 L295.84,233.26 L296.03,231.70 L296.22,230.67 L296.41,229.79 L296.60,228.85 L297.17,226.36 L297.72,225.16 L298.26,223.98 L298.80,222.88 L299.88,222.63 L300.90,222.68 L301.79,223.55 L302.70,226.00 L302.99,226.63 L303.27,227.34 L303.57,229.08 L303.87,230.09 L304.19,231.29 L304.53,233.36 L304.90,234.69 L305.08,235.81 L305.27,236.74 L305.46,237.81 L305.66,239.46 L305.87,240.47 L306.08,241.44 L306.29,242.77 L306.51,244.36 L306.72,245.26 L306.94,247.06 L307.16,247.89 L307.37,249.18 L307.58,251.00 L307.79,251.87 L308.00,252.96 L308.20,254.18 L308.40,255.63 L308.60,256.91 L308.80,258.10 L309.00,259.99 L309.20,261.14 L309.40,262.02 L309.60,263.52 L309.80,265.24 L310.00,265.96 L310.20,267.59 L310.40,268.60 L310.60,269.73 L310.80,270.55 L311.00,271.95 L311.37,273.26 L311.73,274.81 L312.09,276.20 L312.45,277.33 L312.82,278.11 L313.22,279.04 L313.64,280.25 L314.10,281.00 L314.94,281.81 L315.89,282.95 L316.88,283.97 L317.84,284.86 L318.70,285.33 L320.39,286.31 L322.00,286.60 L323.21,286.41 L324.49,286.01 L326.00,285.88 L326.96,285.84 L327.92,285.96 L329.00,286.19 L330.32,286.26 L332.00,286.41 L333.01,286.39 L334.12,286.44 L335.32,286.43 L336.60,286.36 L337.94,286.28 L339.32,286.25 L340.73,286.26 L342.16,286.23 L343.59,286.16 L345.00,286.24 L346.17,286.26 L347.35,286.28 L348.54,286.22 L349.74,286.27 L350.96,286.31 L352.19,286.35 L353.44,286.43 L354.70,286.43 L355.99,286.51 L357.30,286.54 L358.64,286.59 L360.00,286.57 L361.15,286.63 L362.39,286.64 L363.70,286.69 L365.05,286.70 L366.44,286.72 L367.85,286.76 L369.25,286.77 L370.62,286.78 L371.95,286.81 L373.22,286.84 L374.41,286.84 L375.50,286.85 L376.48,286.88 L377.32,286.88 L378.00,286.90" fill="none" stroke="#444" stroke-width="0.85" stroke-linejoin="round" stroke-linecap="round" stroke-dasharray="2.4,0.8"/>
<line x1="321.10" y1="213.50" x2="321.10" y2="287.00" stroke="#222" stroke-width="1.0" />
<line x1="69.90" y1="304.80" x2="69.90" y2="378.20" stroke="#777" stroke-width="1" />
<line x1="69.90" y1="378.20" x2="203.70" y2="378.20" stroke="#b0b0b0" stroke-width="0.9" />
<line x1="66.40" y1="378.20" x2="69.90" y2="378.20" stroke="#555" stroke-width="0.8" />
<text transform="translate(66.10,379.80) scale(1,0.6)" font-size="8.3" text-anchor="end" fill="#444" stroke="#444" stroke-width="0.15">0</text>
<line x1="68.30" y1="376.74" x2="69.90" y2="376.74" stroke="#555" stroke-width="0.7" />
<line x1="68.30" y1="375.28" x2="69.90" y2="375.28" stroke="#555" stroke-width="0.7" />
<line x1="68.30" y1="373.83" x2="69.90" y2="373.83" stroke="#555" stroke-width="0.7" />
<line x1="68.30" y1="372.37" x2="69.90" y2="372.37" stroke="#555" stroke-width="0.7" />
<line x1="66.40" y1="370.91" x2="69.90" y2="370.91" stroke="#555" stroke-width="0.8" />
<text transform="translate(66.10,372.51) scale(1,0.6)" font-size="8.3" text-anchor="end" fill="#444" stroke="#444" stroke-width="0.15">50</text>
<line x1="68.30" y1="369.45" x2="69.90" y2="369.45" stroke="#555" stroke-width="0.7" />
<line x1="68.30" y1="367.99" x2="69.90" y2="367.99" stroke="#555" stroke-width="0.7" />
<line x1="68.30" y1="366.54" x2="69.90" y2="366.54" stroke="#555" stroke-width="0.7" />
<line x1="68.30" y1="365.08" x2="69.90" y2="365.08" stroke="#555" stroke-width="0.7" />
<line x1="66.40" y1="363.62" x2="69.90" y2="363.62" stroke="#555" stroke-width="0.8" />
<text transform="translate(66.10,365.22) scale(1,0.6)" font-size="8.3" text-anchor="end" fill="#444" stroke="#444" stroke-width="0.15">100</text>
<line x1="68.30" y1="362.16" x2="69.90" y2="362.16" stroke="#555" stroke-width="0.7" />
<line x1="68.30" y1="360.70" x2="69.90" y2="360.70" stroke="#555" stroke-width="0.7" />
<line x1="68.30" y1="359.25" x2="69.90" y2="359.25" stroke="#555" stroke-width="0.7" />
<line x1="68.30" y1="357.79" x2="69.90" y2="357.79" stroke="#555" stroke-width="0.7" />
<line x1="66.40" y1="356.33" x2="69.90" y2="356.33" stroke="#555" stroke-width="0.8" />
<text transform="translate(66.10,357.93) scale(1,0.6)" font-size="8.3" text-anchor="end" fill="#444" stroke="#444" stroke-width="0.15">150</text>
<line x1="68.30" y1="354.87" x2="69.90" y2="354.87" stroke="#555" stroke-width="0.7" />
<line x1="68.30" y1="353.41" x2="69.90" y2="353.41" stroke="#555" stroke-width="0.7" />
<line x1="68.30" y1="351.96" x2="69.90" y2="351.96" stroke="#555" stroke-width="0.7" />
<line x1="68.30" y1="350.50" x2="69.90" y2="350.50" stroke="#555" stroke-width="0.7" />
<line x1="66.40" y1="349.04" x2="69.90" y2="349.04" stroke="#555" stroke-width="0.8" />
<text transform="translate(66.10,350.64) scale(1,0.6)" font-size="8.3" text-anchor="end" fill="#444" stroke="#444" stroke-width="0.15">200</text>
<line x1="68.30" y1="347.58" x2="69.90" y2="347.58" stroke="#555" stroke-width="0.7" />
<line x1="68.30" y1="346.12" x2="69.90" y2="346.12" stroke="#555" stroke-width="0.7" />
<line x1="68.30" y1="344.67" x2="69.90" y2="344.67" stroke="#555" stroke-width="0.7" />
<line x1="68.30" y1="343.21" x2="69.90" y2="343.21" stroke="#555" stroke-width="0.7" />
<line x1="66.40" y1="341.75" x2="69.90" y2="341.75" stroke="#555" stroke-width="0.8" />
<text transform="translate(66.10,343.35) scale(1,0.6)" font-size="8.3" text-anchor="end" fill="#444" stroke="#444" stroke-width="0.15">250</text>
<line x1="68.30" y1="340.29" x2="69.90" y2="340.29" stroke="#555" stroke-width="0.7" />
<line x1="68.30" y1="338.83" x2="69.90" y2="338.83" stroke="#555" stroke-width="0.7" />
<line x1="68.30" y1="337.38" x2="69.90" y2="337.38" stroke="#555" stroke-width="0.7" />
<line x1="68.30" y1="335.92" x2="69.90" y2="335.92" stroke="#555" stroke-width="0.7" />
<line x1="66.40" y1="334.46" x2="69.90" y2="334.46" stroke="#555" stroke-width="0.8" />
<text transform="translate(66.10,336.06) scale(1,0.6)" font-size="8.3" text-anchor="end" fill="#444" stroke="#444" stroke-width="0.15">300</text>
<line x1="68.30" y1="333.00" x2="69.90" y2="333.00" stroke="#555" stroke-width="0.7" />
<line x1="68.30" y1="331.54" x2="69.90" y2="331.54" stroke="#555" stroke-width="0.7" />
<line x1="68.30" y1="330.09" x2="69.90" y2="330.09" stroke="#555" stroke-width="0.7" />
<line x1="68.30" y1="328.63" x2="69.90" y2="328.63" stroke="#555" stroke-width="0.7" />
<line x1="66.40" y1="327.17" x2="69.90" y2="327.17" stroke="#555" stroke-width="0.8" />
<text transform="translate(66.10,328.77) scale(1,0.6)" font-size="8.3" text-anchor="end" fill="#444" stroke="#444" stroke-width="0.15">350</text>
<line x1="68.30" y1="325.71" x2="69.90" y2="325.71" stroke="#555" stroke-width="0.7" />
<line x1="68.30" y1="324.25" x2="69.90" y2="324.25" stroke="#555" stroke-width="0.7" />
<line x1="68.30" y1="322.80" x2="69.90" y2="322.80" stroke="#555" stroke-width="0.7" />
<line x1="68.30" y1="321.34" x2="69.90" y2="321.34" stroke="#555" stroke-width="0.7" />
<line x1="66.40" y1="319.88" x2="69.90" y2="319.88" stroke="#555" stroke-width="0.8" />
<text transform="translate(66.10,321.48) scale(1,0.6)" font-size="8.3" text-anchor="end" fill="#444" stroke="#444" stroke-width="0.15">400</text>
<line x1="68.30" y1="318.42" x2="69.90" y2="318.42" stroke="#555" stroke-width="0.7" />
<line x1="68.30" y1="316.96" x2="69.90" y2="316.96" stroke="#555" stroke-width="0.7" />
<line x1="68.30" y1="315.51" x2="69.90" y2="315.51" stroke="#555" stroke-width="0.7" />
<line x1="68.30" y1="314.05" x2="69.90" y2="314.05" stroke="#555" stroke-width="0.7" />
<line x1="66.40" y1="312.59" x2="69.90" y2="312.59" stroke="#555" stroke-width="0.8" />
<text transform="translate(66.10,314.19) scale(1,0.6)" font-size="8.3" text-anchor="end" fill="#444" stroke="#444" stroke-width="0.15">450</text>
<line x1="68.30" y1="311.13" x2="69.90" y2="311.13" stroke="#555" stroke-width="0.7" />
<line x1="68.30" y1="309.67" x2="69.90" y2="309.67" stroke="#555" stroke-width="0.7" />
<line x1="68.30" y1="308.22" x2="69.90" y2="308.22" stroke="#555" stroke-width="0.7" />
<line x1="68.30" y1="306.76" x2="69.90" y2="306.76" stroke="#555" stroke-width="0.7" />
<line x1="66.40" y1="305.30" x2="69.90" y2="305.30" stroke="#555" stroke-width="0.8" />
<text transform="translate(66.10,306.90) scale(1,0.6)" font-size="8.3" text-anchor="end" fill="#444" stroke="#444" stroke-width="0.15">500</text>
<line x1="72.90" y1="378.20" x2="72.90" y2="380.40" stroke="#555" stroke-width="0.7" />
<line x1="84.49" y1="378.20" x2="84.49" y2="379.40" stroke="#555" stroke-width="0.7" />
<line x1="91.27" y1="378.20" x2="91.27" y2="379.40" stroke="#555" stroke-width="0.7" />
<line x1="96.08" y1="378.20" x2="96.08" y2="379.40" stroke="#555" stroke-width="0.7" />
<line x1="99.81" y1="378.20" x2="99.81" y2="379.40" stroke="#555" stroke-width="0.7" />
<line x1="102.86" y1="378.20" x2="102.86" y2="379.40" stroke="#555" stroke-width="0.7" />
<line x1="105.44" y1="378.20" x2="105.44" y2="379.40" stroke="#555" stroke-width="0.7" />
<line x1="107.67" y1="378.20" x2="107.67" y2="379.40" stroke="#555" stroke-width="0.7" />
<line x1="109.64" y1="378.20" x2="109.64" y2="379.40" stroke="#555" stroke-width="0.7" />
<line x1="111.40" y1="378.20" x2="111.40" y2="380.40" stroke="#555" stroke-width="0.7" />
<line x1="122.99" y1="378.20" x2="122.99" y2="379.40" stroke="#555" stroke-width="0.7" />
<line x1="129.77" y1="378.20" x2="129.77" y2="379.40" stroke="#555" stroke-width="0.7" />
<line x1="134.58" y1="378.20" x2="134.58" y2="379.40" stroke="#555" stroke-width="0.7" />
<line x1="138.31" y1="378.20" x2="138.31" y2="379.40" stroke="#555" stroke-width="0.7" />
<line x1="141.36" y1="378.20" x2="141.36" y2="379.40" stroke="#555" stroke-width="0.7" />
<line x1="143.94" y1="378.20" x2="143.94" y2="379.40" stroke="#555" stroke-width="0.7" />
<line x1="146.17" y1="378.20" x2="146.17" y2="379.40" stroke="#555" stroke-width="0.7" />
<line x1="148.14" y1="378.20" x2="148.14" y2="379.40" stroke="#555" stroke-width="0.7" />
<line x1="149.90" y1="378.20" x2="149.90" y2="380.40" stroke="#555" stroke-width="0.7" />
<line x1="161.49" y1="378.20" x2="161.49" y2="379.40" stroke="#555" stroke-width="0.7" />
<line x1="168.27" y1="378.20" x2="168.27" y2="379.40" stroke="#555" stroke-width="0.7" />
<line x1="173.08" y1="378.20" x2="173.08" y2="379.40" stroke="#555" stroke-width="0.7" />
<line x1="176.81" y1="378.20" x2="176.81" y2="379.40" stroke="#555" stroke-width="0.7" />
<line x1="179.86" y1="378.20" x2="179.86" y2="379.40" stroke="#555" stroke-width="0.7" />
<line x1="182.44" y1="378.20" x2="182.44" y2="379.40" stroke="#555" stroke-width="0.7" />
<line x1="184.67" y1="378.20" x2="184.67" y2="379.40" stroke="#555" stroke-width="0.7" />
<line x1="186.64" y1="378.20" x2="186.64" y2="379.40" stroke="#555" stroke-width="0.7" />
<line x1="188.40" y1="378.20" x2="188.40" y2="380.40" stroke="#555" stroke-width="0.7" />
<line x1="199.99" y1="378.20" x2="199.99" y2="379.40" stroke="#555" stroke-width="0.7" />
<line x1="71.90" y1="378.20" x2="71.90" y2="379.40" stroke="#555" stroke-width="0.7" />
<line x1="73.90" y1="378.20" x2="73.90" y2="379.40" stroke="#555" stroke-width="0.7" />
<text transform="translate(70.70,384.30) scale(1,0.6)" font-size="8.3" text-anchor="middle" fill="#444" stroke="#444" stroke-width="0.15">0</text>
<text transform="translate(112.20,384.30) scale(1,0.6)" font-size="8.3" text-anchor="middle" fill="#444" stroke="#444" stroke-width="0.15">10<tspan font-size="5.8" dy="-3">2</tspan></text>
<text transform="translate(150.70,384.30) scale(1,0.6)" font-size="8.3" text-anchor="middle" fill="#444" stroke="#444" stroke-width="0.15">10<tspan font-size="5.8" dy="-3">3</tspan></text>
<text transform="translate(189.20,384.30) scale(1,0.6)" font-size="8.3" text-anchor="middle" fill="#444" stroke="#444" stroke-width="0.15">10<tspan font-size="5.8" dy="-3">4</tspan></text>
<path d="M70.50,378.20 L71.17,378.20 L71.93,378.19 L72.79,378.19 L73.74,378.19 L74.76,378.18 L75.85,378.18 L77.02,378.17 L78.24,378.17 L79.52,378.16 L80.85,378.15 L82.22,378.15 L83.63,378.15 L85.07,378.13 L86.53,378.14 L88.01,378.13 L89.50,378.13 L91.00,378.11 L92.50,378.10 L93.99,378.11 L95.47,378.09 L96.93,378.08 L98.36,378.08 L99.77,378.07 L101.13,378.06 L102.46,378.05 L103.73,378.04 L104.95,378.05 L106.11,378.04 L107.20,378.01 L108.21,378.01 L109.15,377.99 L110.00,378.00 L112.33,377.99 L114.22,377.99 L115.73,378.00 L116.95,378.02 L117.94,378.04 L118.78,378.01 L119.53,377.99 L120.27,377.94 L121.07,377.84 L122.00,377.70 L123.41,377.45 L124.75,377.10 L126.00,376.79 L127.19,376.34 L128.32,375.66 L129.38,375.09 L130.40,374.46 L131.35,373.82 L132.22,372.83 L133.03,372.41 L133.79,370.92 L134.51,369.76 L135.21,369.19 L135.90,367.47 L136.43,366.53 L136.93,365.54 L137.42,364.36 L137.89,363.22 L138.35,362.06 L138.79,360.49 L139.23,358.99 L139.67,358.01 L140.10,356.60 L140.45,355.28 L140.80,353.90 L141.15,352.81 L141.49,351.33 L141.82,350.07 L142.15,348.88 L142.48,347.81 L142.79,346.35 L143.10,344.96 L143.41,343.97 L143.70,342.86 L144.05,341.67 L144.38,340.05 L144.70,338.48 L145.02,337.77 L145.32,336.54 L145.62,334.87 L145.91,333.81 L146.21,332.93 L146.50,331.47 L146.84,330.01 L147.17,329.09 L147.51,327.76 L147.84,325.84 L148.16,325.18 L148.47,323.61 L148.75,322.57 L149.00,321.57 L149.66,319.81 L150.30,320.24 L150.98,320.18 L151.77,321.26 L152.60,323.21 L152.88,324.32 L153.17,325.26 L153.47,326.20 L153.77,327.25 L154.07,329.11 L154.38,330.46 L154.69,331.33 L154.99,332.91 L155.30,334.09 L155.55,335.61 L155.80,336.89 L156.06,337.66 L156.31,338.92 L156.57,340.74 L156.82,341.69 L157.08,342.85 L157.33,344.11 L157.59,345.62 L157.85,347.20 L158.10,348.17 L158.35,349.30 L158.59,351.06 L158.83,352.35 L159.06,353.33 L159.30,354.76 L159.54,356.14 L159.79,357.08 L160.04,358.73 L160.31,360.14 L160.60,361.13 L160.90,362.25 L161.34,363.21 L161.80,365.11 L162.28,366.49 L162.77,367.81 L163.30,368.72 L163.84,370.18 L164.41,370.76 L165.00,372.06 L165.96,372.82 L166.95,374.08 L168.01,374.53 L169.21,375.28 L170.60,376.12 L171.62,376.48 L172.61,376.56 L173.65,376.95 L174.82,377.04 L176.21,377.35 L177.91,377.50 L180.00,377.59 L180.92,377.64 L181.96,377.70 L183.11,377.78 L184.35,377.79 L185.67,377.84 L187.04,377.90 L188.46,377.94 L189.90,377.96 L191.36,377.99 L192.81,378.02 L194.24,378.03 L195.63,378.08 L196.97,378.09 L198.24,378.12 L199.43,378.14 L200.51,378.15 L201.48,378.17 L202.31,378.18 L203.00,378.20" fill="none" stroke="#444" stroke-width="0.85" stroke-linejoin="round" stroke-linecap="round" stroke-dasharray="2.4,0.8"/>
<line x1="147.90" y1="303.80" x2="147.90" y2="378.20" stroke="#000" stroke-width="1.8" />
<line x1="242.70" y1="303.30" x2="242.70" y2="377.40" stroke="#777" stroke-width="1" />
<line x1="242.70" y1="377.40" x2="378.50" y2="377.40" stroke="#b0b0b0" stroke-width="0.9" />
<line x1="239.20" y1="377.40" x2="242.70" y2="377.40" stroke="#555" stroke-width="0.8" />
<text transform="translate(238.90,379.00) scale(1,0.6)" font-size="8.3" text-anchor="end" fill="#444" stroke="#444" stroke-width="0.15">0</text>
<line x1="241.10" y1="375.93" x2="242.70" y2="375.93" stroke="#555" stroke-width="0.7" />
<line x1="241.10" y1="374.46" x2="242.70" y2="374.46" stroke="#555" stroke-width="0.7" />
<line x1="241.10" y1="372.98" x2="242.70" y2="372.98" stroke="#555" stroke-width="0.7" />
<line x1="241.10" y1="371.51" x2="242.70" y2="371.51" stroke="#555" stroke-width="0.7" />
<line x1="239.20" y1="370.04" x2="242.70" y2="370.04" stroke="#555" stroke-width="0.8" />
<text transform="translate(238.90,371.64) scale(1,0.6)" font-size="8.3" text-anchor="end" fill="#444" stroke="#444" stroke-width="0.15">50</text>
<line x1="241.10" y1="368.57" x2="242.70" y2="368.57" stroke="#555" stroke-width="0.7" />
<line x1="241.10" y1="367.10" x2="242.70" y2="367.10" stroke="#555" stroke-width="0.7" />
<line x1="241.10" y1="365.62" x2="242.70" y2="365.62" stroke="#555" stroke-width="0.7" />
<line x1="241.10" y1="364.15" x2="242.70" y2="364.15" stroke="#555" stroke-width="0.7" />
<line x1="239.20" y1="362.68" x2="242.70" y2="362.68" stroke="#555" stroke-width="0.8" />
<text transform="translate(238.90,364.28) scale(1,0.6)" font-size="8.3" text-anchor="end" fill="#444" stroke="#444" stroke-width="0.15">100</text>
<line x1="241.10" y1="361.21" x2="242.70" y2="361.21" stroke="#555" stroke-width="0.7" />
<line x1="241.10" y1="359.74" x2="242.70" y2="359.74" stroke="#555" stroke-width="0.7" />
<line x1="241.10" y1="358.26" x2="242.70" y2="358.26" stroke="#555" stroke-width="0.7" />
<line x1="241.10" y1="356.79" x2="242.70" y2="356.79" stroke="#555" stroke-width="0.7" />
<line x1="239.20" y1="355.32" x2="242.70" y2="355.32" stroke="#555" stroke-width="0.8" />
<text transform="translate(238.90,356.92) scale(1,0.6)" font-size="8.3" text-anchor="end" fill="#444" stroke="#444" stroke-width="0.15">150</text>
<line x1="241.10" y1="353.85" x2="242.70" y2="353.85" stroke="#555" stroke-width="0.7" />
<line x1="241.10" y1="352.38" x2="242.70" y2="352.38" stroke="#555" stroke-width="0.7" />
<line x1="241.10" y1="350.90" x2="242.70" y2="350.90" stroke="#555" stroke-width="0.7" />
<line x1="241.10" y1="349.43" x2="242.70" y2="349.43" stroke="#555" stroke-width="0.7" />
<line x1="239.20" y1="347.96" x2="242.70" y2="347.96" stroke="#555" stroke-width="0.8" />
<text transform="translate(238.90,349.56) scale(1,0.6)" font-size="8.3" text-anchor="end" fill="#444" stroke="#444" stroke-width="0.15">200</text>
<line x1="241.10" y1="346.49" x2="242.70" y2="346.49" stroke="#555" stroke-width="0.7" />
<line x1="241.10" y1="345.02" x2="242.70" y2="345.02" stroke="#555" stroke-width="0.7" />
<line x1="241.10" y1="343.54" x2="242.70" y2="343.54" stroke="#555" stroke-width="0.7" />
<line x1="241.10" y1="342.07" x2="242.70" y2="342.07" stroke="#555" stroke-width="0.7" />
<line x1="239.20" y1="340.60" x2="242.70" y2="340.60" stroke="#555" stroke-width="0.8" />
<text transform="translate(238.90,342.20) scale(1,0.6)" font-size="8.3" text-anchor="end" fill="#444" stroke="#444" stroke-width="0.15">250</text>
<line x1="241.10" y1="339.13" x2="242.70" y2="339.13" stroke="#555" stroke-width="0.7" />
<line x1="241.10" y1="337.66" x2="242.70" y2="337.66" stroke="#555" stroke-width="0.7" />
<line x1="241.10" y1="336.18" x2="242.70" y2="336.18" stroke="#555" stroke-width="0.7" />
<line x1="241.10" y1="334.71" x2="242.70" y2="334.71" stroke="#555" stroke-width="0.7" />
<line x1="239.20" y1="333.24" x2="242.70" y2="333.24" stroke="#555" stroke-width="0.8" />
<text transform="translate(238.90,334.84) scale(1,0.6)" font-size="8.3" text-anchor="end" fill="#444" stroke="#444" stroke-width="0.15">300</text>
<line x1="241.10" y1="331.77" x2="242.70" y2="331.77" stroke="#555" stroke-width="0.7" />
<line x1="241.10" y1="330.30" x2="242.70" y2="330.30" stroke="#555" stroke-width="0.7" />
<line x1="241.10" y1="328.82" x2="242.70" y2="328.82" stroke="#555" stroke-width="0.7" />
<line x1="241.10" y1="327.35" x2="242.70" y2="327.35" stroke="#555" stroke-width="0.7" />
<line x1="239.20" y1="325.88" x2="242.70" y2="325.88" stroke="#555" stroke-width="0.8" />
<text transform="translate(238.90,327.48) scale(1,0.6)" font-size="8.3" text-anchor="end" fill="#444" stroke="#444" stroke-width="0.15">350</text>
<line x1="241.10" y1="324.41" x2="242.70" y2="324.41" stroke="#555" stroke-width="0.7" />
<line x1="241.10" y1="322.94" x2="242.70" y2="322.94" stroke="#555" stroke-width="0.7" />
<line x1="241.10" y1="321.46" x2="242.70" y2="321.46" stroke="#555" stroke-width="0.7" />
<line x1="241.10" y1="319.99" x2="242.70" y2="319.99" stroke="#555" stroke-width="0.7" />
<line x1="239.20" y1="318.52" x2="242.70" y2="318.52" stroke="#555" stroke-width="0.8" />
<text transform="translate(238.90,320.12) scale(1,0.6)" font-size="8.3" text-anchor="end" fill="#444" stroke="#444" stroke-width="0.15">400</text>
<line x1="241.10" y1="317.05" x2="242.70" y2="317.05" stroke="#555" stroke-width="0.7" />
<line x1="241.10" y1="315.58" x2="242.70" y2="315.58" stroke="#555" stroke-width="0.7" />
<line x1="241.10" y1="314.10" x2="242.70" y2="314.10" stroke="#555" stroke-width="0.7" />
<line x1="241.10" y1="312.63" x2="242.70" y2="312.63" stroke="#555" stroke-width="0.7" />
<line x1="239.20" y1="311.16" x2="242.70" y2="311.16" stroke="#555" stroke-width="0.8" />
<text transform="translate(238.90,312.76) scale(1,0.6)" font-size="8.3" text-anchor="end" fill="#444" stroke="#444" stroke-width="0.15">450</text>
<line x1="241.10" y1="309.69" x2="242.70" y2="309.69" stroke="#555" stroke-width="0.7" />
<line x1="241.10" y1="308.22" x2="242.70" y2="308.22" stroke="#555" stroke-width="0.7" />
<line x1="241.10" y1="306.74" x2="242.70" y2="306.74" stroke="#555" stroke-width="0.7" />
<line x1="241.10" y1="305.27" x2="242.70" y2="305.27" stroke="#555" stroke-width="0.7" />
<line x1="239.20" y1="303.80" x2="242.70" y2="303.80" stroke="#555" stroke-width="0.8" />
<text transform="translate(238.90,305.40) scale(1,0.6)" font-size="8.3" text-anchor="end" fill="#444" stroke="#444" stroke-width="0.15">500</text>
<line x1="247.00" y1="377.40" x2="247.00" y2="379.60" stroke="#555" stroke-width="0.7" />
<line x1="258.59" y1="377.40" x2="258.59" y2="378.60" stroke="#555" stroke-width="0.7" />
<line x1="265.37" y1="377.40" x2="265.37" y2="378.60" stroke="#555" stroke-width="0.7" />
<line x1="270.18" y1="377.40" x2="270.18" y2="378.60" stroke="#555" stroke-width="0.7" />
<line x1="273.91" y1="377.40" x2="273.91" y2="378.60" stroke="#555" stroke-width="0.7" />
<line x1="276.96" y1="377.40" x2="276.96" y2="378.60" stroke="#555" stroke-width="0.7" />
<line x1="279.54" y1="377.40" x2="279.54" y2="378.60" stroke="#555" stroke-width="0.7" />
<line x1="281.77" y1="377.40" x2="281.77" y2="378.60" stroke="#555" stroke-width="0.7" />
<line x1="283.74" y1="377.40" x2="283.74" y2="378.60" stroke="#555" stroke-width="0.7" />
<line x1="285.50" y1="377.40" x2="285.50" y2="379.60" stroke="#555" stroke-width="0.7" />
<line x1="297.09" y1="377.40" x2="297.09" y2="378.60" stroke="#555" stroke-width="0.7" />
<line x1="303.87" y1="377.40" x2="303.87" y2="378.60" stroke="#555" stroke-width="0.7" />
<line x1="308.68" y1="377.40" x2="308.68" y2="378.60" stroke="#555" stroke-width="0.7" />
<line x1="312.41" y1="377.40" x2="312.41" y2="378.60" stroke="#555" stroke-width="0.7" />
<line x1="315.46" y1="377.40" x2="315.46" y2="378.60" stroke="#555" stroke-width="0.7" />
<line x1="318.04" y1="377.40" x2="318.04" y2="378.60" stroke="#555" stroke-width="0.7" />
<line x1="320.27" y1="377.40" x2="320.27" y2="378.60" stroke="#555" stroke-width="0.7" />
<line x1="322.24" y1="377.40" x2="322.24" y2="378.60" stroke="#555" stroke-width="0.7" />
<line x1="324.00" y1="377.40" x2="324.00" y2="379.60" stroke="#555" stroke-width="0.7" />
<line x1="335.59" y1="377.40" x2="335.59" y2="378.60" stroke="#555" stroke-width="0.7" />
<line x1="342.37" y1="377.40" x2="342.37" y2="378.60" stroke="#555" stroke-width="0.7" />
<line x1="347.18" y1="377.40" x2="347.18" y2="378.60" stroke="#555" stroke-width="0.7" />
<line x1="350.91" y1="377.40" x2="350.91" y2="378.60" stroke="#555" stroke-width="0.7" />
<line x1="353.96" y1="377.40" x2="353.96" y2="378.60" stroke="#555" stroke-width="0.7" />
<line x1="356.54" y1="377.40" x2="356.54" y2="378.60" stroke="#555" stroke-width="0.7" />
<line x1="358.77" y1="377.40" x2="358.77" y2="378.60" stroke="#555" stroke-width="0.7" />
<line x1="360.74" y1="377.40" x2="360.74" y2="378.60" stroke="#555" stroke-width="0.7" />
<line x1="362.50" y1="377.40" x2="362.50" y2="379.60" stroke="#555" stroke-width="0.7" />
<line x1="374.09" y1="377.40" x2="374.09" y2="378.60" stroke="#555" stroke-width="0.7" />
<line x1="244.70" y1="377.40" x2="244.70" y2="378.60" stroke="#555" stroke-width="0.7" />
<line x1="246.70" y1="377.40" x2="246.70" y2="378.60" stroke="#555" stroke-width="0.7" />
<text transform="translate(243.50,383.50) scale(1,0.6)" font-size="8.3" text-anchor="middle" fill="#444" stroke="#444" stroke-width="0.15">0</text>
<text transform="translate(286.30,383.50) scale(1,0.6)" font-size="8.3" text-anchor="middle" fill="#444" stroke="#444" stroke-width="0.15">10<tspan font-size="5.8" dy="-3">2</tspan></text>
<text transform="translate(324.80,383.50) scale(1,0.6)" font-size="8.3" text-anchor="middle" fill="#444" stroke="#444" stroke-width="0.15">10<tspan font-size="5.8" dy="-3">3</tspan></text>
<text transform="translate(363.30,383.50) scale(1,0.6)" font-size="8.3" text-anchor="middle" fill="#444" stroke="#444" stroke-width="0.15">10<tspan font-size="5.8" dy="-3">4</tspan></text>
<path d="M243.20,377.40 L243.86,377.40 L244.62,377.39 L245.47,377.39 L246.39,377.39 L247.40,377.38 L248.47,377.38 L249.62,377.38 L250.82,377.37 L252.07,377.37 L253.38,377.36 L254.73,377.36 L256.12,377.35 L257.54,377.35 L258.98,377.35 L260.45,377.33 L261.94,377.34 L263.43,377.33 L264.93,377.32 L266.43,377.32 L267.92,377.30 L269.40,377.31 L270.86,377.30 L272.30,377.28 L273.71,377.28 L275.08,377.27 L276.42,377.27 L277.71,377.26 L278.95,377.25 L280.13,377.24 L281.25,377.23 L282.30,377.23 L283.28,377.20 L284.18,377.20 L285.00,377.20 L287.86,377.19 L289.97,377.15 L291.49,377.14 L292.58,377.14 L293.39,377.13 L294.08,377.03 L294.80,376.97 L295.70,376.84 L297.21,376.50 L298.47,376.08 L299.57,375.80 L300.65,375.04 L301.80,374.10 L302.69,373.91 L303.61,372.76 L304.53,371.90 L305.45,371.28 L306.34,370.54 L307.20,369.63 L308.00,367.98 L308.59,367.14 L309.14,366.52 L309.68,364.94 L310.19,363.56 L310.69,362.95 L311.18,361.43 L311.66,360.23 L312.13,358.93 L312.60,357.12 L312.98,356.25 L313.36,354.77 L313.74,353.95 L314.10,352.92 L314.47,351.23 L314.82,350.08 L315.17,348.77 L315.51,347.70 L315.85,346.05 L316.18,344.67 L316.50,343.45 L316.82,342.43 L317.13,341.00 L317.43,339.57 L317.73,338.74 L318.02,337.36 L318.30,335.99 L318.58,334.42 L318.85,333.60 L319.11,332.33 L319.36,330.73 L319.60,329.66 L319.88,328.29 L320.14,326.85 L320.39,325.79 L320.63,324.23 L320.86,323.59 L321.07,322.04 L321.29,320.84 L321.49,319.83 L321.70,319.17 L322.25,317.19 L322.75,315.56 L323.30,315.09 L324.29,314.99 L325.40,317.55 L325.63,318.12 L325.86,319.11 L326.10,320.55 L326.34,321.41 L326.59,322.63 L326.84,324.63 L327.09,325.38 L327.36,327.05 L327.62,328.17 L327.90,329.61 L328.12,330.78 L328.34,332.30 L328.58,333.51 L328.81,334.32 L329.05,335.46 L329.30,336.64 L329.54,338.14 L329.79,339.24 L330.03,340.47 L330.28,341.60 L330.52,343.06 L330.76,343.84 L331.00,345.01 L331.28,346.20 L331.55,348.19 L331.82,349.31 L332.09,350.62 L332.36,351.49 L332.64,353.10 L332.91,354.60 L333.18,355.31 L333.45,357.04 L333.72,357.64 L334.00,358.87 L334.37,360.18 L334.73,361.87 L335.09,363.16 L335.45,363.83 L335.82,364.97 L336.22,366.50 L336.64,367.11 L337.10,367.90 L337.76,369.47 L338.47,370.92 L339.21,371.41 L340.00,372.89 L340.83,373.40 L341.70,374.56 L342.73,375.13 L343.74,375.51 L344.85,375.86 L346.17,376.14 L347.80,376.47 L348.75,376.56 L349.76,376.71 L350.83,376.80 L351.96,376.85 L353.16,376.96 L354.41,376.98 L355.72,377.04 L357.09,377.09 L358.52,377.15 L360.00,377.18 L361.07,377.24 L362.25,377.25 L363.52,377.28 L364.85,377.30 L366.24,377.33 L367.65,377.33 L369.06,377.35 L370.46,377.36 L371.82,377.36 L373.12,377.37 L374.34,377.38 L375.46,377.38 L376.46,377.39 L377.31,377.39 L378.00,377.40" fill="none" stroke="#444" stroke-width="0.85" stroke-linejoin="round" stroke-linecap="round" stroke-dasharray="2.4,0.8"/>
<line x1="322.40" y1="302.30" x2="322.40" y2="377.40" stroke="#222" stroke-width="1.0" />
<text x="42.00" y="10.90" font-size="14.5" font-weight="bold" text-anchor="start" fill="#000" >a</text>
<text x="214.00" y="13.30" font-size="14.5" font-weight="bold" text-anchor="start" fill="#000" >b</text>
<text x="43.30" y="106.20" font-size="14.5" font-weight="bold" text-anchor="start" fill="#000" >c</text>
<text x="215.30" y="107.30" font-size="14.5" font-weight="bold" text-anchor="start" fill="#000" >d</text>
<text x="39.40" y="215.80" font-size="14.5" font-weight="bold" text-anchor="start" fill="#000" >a</text>
<text x="212.00" y="217.40" font-size="14.5" font-weight="bold" text-anchor="start" fill="#000" >b</text>
<text x="41.60" y="307.20" font-size="14.5" font-weight="bold" text-anchor="start" fill="#000" >c</text>
<text x="212.90" y="307.80" font-size="14.5" font-weight="bold" text-anchor="start" fill="#000" >d</text>
<text transform="translate(37.4,151.6) rotate(-90) scale(1,0.92)" font-size="18" font-weight="bold">Number of cells</text>
<text transform="translate(35.1,352.9) rotate(-90) scale(1,0.92)" font-size="18" font-weight="bold">Number of cells</text>
<text x="137.20" y="198.80" font-size="17.8" font-weight="bold" text-anchor="start" fill="#000" >Fluorescence intensity</text>
<text x="138.60" y="401.40" font-size="17.8" font-weight="bold" text-anchor="start" fill="#000" letter-spacing="0.05">Fluorescence intensity</text>
<rect x="470.50" y="123.37" width="26.30" height="36.93" fill="#fff" stroke="#000" stroke-width="2.0"/>
<line x1="483.65" y1="117.18" x2="483.65" y2="127.47" stroke="#000" stroke-width="2.0" />
<line x1="480.65" y1="117.18" x2="486.65" y2="117.18" stroke="#000" stroke-width="2.0" />
<line x1="480.65" y1="127.47" x2="486.65" y2="127.47" stroke="#000" stroke-width="2.0" />
<rect x="515.45" y="50.42" width="26.30" height="109.88" fill="#fff" stroke="#000" stroke-width="2.0"/>
<line x1="528.60" y1="34.50" x2="528.60" y2="64.33" stroke="#000" stroke-width="2.0" />
<line x1="525.60" y1="34.50" x2="531.60" y2="34.50" stroke="#000" stroke-width="2.0" />
<line x1="525.60" y1="64.33" x2="531.60" y2="64.33" stroke="#000" stroke-width="2.0" />
<rect x="560.85" y="103.59" width="26.30" height="56.71" fill="#fff" stroke="#000" stroke-width="2.0"/>
<line x1="574.00" y1="87.51" x2="574.00" y2="117.99" stroke="#000" stroke-width="2.0" />
<line x1="571.00" y1="87.51" x2="577.00" y2="87.51" stroke="#000" stroke-width="2.0" />
<line x1="571.00" y1="117.99" x2="577.00" y2="117.99" stroke="#000" stroke-width="2.0" />
<rect x="605.85" y="108.94" width="26.30" height="51.36" fill="#fff" stroke="#000" stroke-width="2.0"/>
<line x1="619.00" y1="93.35" x2="619.00" y2="123.34" stroke="#000" stroke-width="2.0" />
<line x1="616.00" y1="93.35" x2="622.00" y2="93.35" stroke="#000" stroke-width="2.0" />
<line x1="616.00" y1="123.34" x2="622.00" y2="123.34" stroke="#000" stroke-width="2.0" />
<line x1="452.20" y1="13.40" x2="452.20" y2="161.30" stroke="#000" stroke-width="2.0" />
<line x1="451.20" y1="160.30" x2="651.70" y2="160.30" stroke="#000" stroke-width="2.0" />
<line x1="449.20" y1="160.30" x2="452.20" y2="160.30" stroke="#000" stroke-width="1.6" />
<text x="445.20" y="163.27" font-size="9" font-weight="bold" text-anchor="end" fill="#000" >0</text>
<line x1="449.20" y1="144.09" x2="452.20" y2="144.09" stroke="#000" stroke-width="1.6" />
<text x="445.20" y="147.06" font-size="9" font-weight="bold" text-anchor="end" fill="#000" >20</text>
<line x1="449.20" y1="127.88" x2="452.20" y2="127.88" stroke="#000" stroke-width="1.6" />
<text x="445.20" y="130.85" font-size="9" font-weight="bold" text-anchor="end" fill="#000" >40</text>
<line x1="449.20" y1="111.67" x2="452.20" y2="111.67" stroke="#000" stroke-width="1.6" />
<text x="445.20" y="114.64" font-size="9" font-weight="bold" text-anchor="end" fill="#000" >60</text>
<line x1="449.20" y1="95.46" x2="452.20" y2="95.46" stroke="#000" stroke-width="1.6" />
<text x="445.20" y="98.43" font-size="9" font-weight="bold" text-anchor="end" fill="#000" >80</text>
<line x1="449.20" y1="79.24" x2="452.20" y2="79.24" stroke="#000" stroke-width="1.6" />
<text x="445.20" y="82.21" font-size="9" font-weight="bold" text-anchor="end" fill="#000" >100</text>
<line x1="449.20" y1="63.03" x2="452.20" y2="63.03" stroke="#000" stroke-width="1.6" />
<text x="445.20" y="66.00" font-size="9" font-weight="bold" text-anchor="end" fill="#000" >120</text>
<line x1="449.20" y1="46.82" x2="452.20" y2="46.82" stroke="#000" stroke-width="1.6" />
<text x="445.20" y="49.79" font-size="9" font-weight="bold" text-anchor="end" fill="#000" >140</text>
<line x1="449.20" y1="30.61" x2="452.20" y2="30.61" stroke="#000" stroke-width="1.6" />
<text x="445.20" y="33.58" font-size="9" font-weight="bold" text-anchor="end" fill="#000" >160</text>
<line x1="449.20" y1="14.40" x2="452.20" y2="14.40" stroke="#000" stroke-width="1.6" />
<text x="445.20" y="17.37" font-size="9" font-weight="bold" text-anchor="end" fill="#000" >180</text>
<text x="528.40" y="31.90" font-size="15" font-weight="normal" text-anchor="middle" fill="#000" letter-spacing="0.6" stroke="#000" stroke-width="0.35">**</text>
<text x="574.20" y="81.80" font-size="13.5" font-weight="normal" text-anchor="middle" fill="#000" stroke="#000" stroke-width="0.3">#</text>
<text x="618.60" y="87.90" font-size="13.5" font-weight="normal" text-anchor="middle" fill="#000" stroke="#000" stroke-width="0.3">#</text>
<text transform="translate(423.0,87.5) rotate(-90) scale(1,1.08)" font-size="15" text-anchor="middle" stroke="#000" stroke-width="0.2">FITC-PAC-1 binding</text>
<text x="396.90" y="176.20" font-size="15" font-weight="bold" text-anchor="start" fill="#000" >collagen</text>
<text x="408.00" y="194.60" font-size="15" font-weight="bold" text-anchor="start" fill="#000" >TQ-6</text>
<text x="483.60" y="176.40" font-size="15" font-weight="bold" text-anchor="middle" fill="#000" >–</text>
<text x="528.20" y="175.80" font-size="15" font-weight="normal" text-anchor="middle" fill="#000" >+</text>
<text x="573.60" y="175.80" font-size="15" font-weight="normal" text-anchor="middle" fill="#000" >+</text>
<text x="619.30" y="175.80" font-size="15" font-weight="normal" text-anchor="middle" fill="#000" >+</text>
<text x="483.30" y="194.80" font-size="15" font-weight="bold" text-anchor="middle" fill="#000" >–</text>
<text x="526.90" y="196.60" font-size="15" font-weight="bold" text-anchor="middle" fill="#000" >DMSO</text>
<text x="573.90" y="196.60" font-size="15" font-weight="bold" text-anchor="middle" fill="#000" >0.3</text>
<text x="621.50" y="196.60" font-size="15" font-weight="bold" text-anchor="middle" fill="#000" >0.5</text>
<rect x="470.35" y="266.52" width="26.30" height="97.88" fill="#fff" stroke="#000" stroke-width="2.0"/>
<line x1="483.50" y1="252.15" x2="483.50" y2="278.28" stroke="#000" stroke-width="2.0" />
<line x1="480.50" y1="252.15" x2="486.50" y2="252.15" stroke="#000" stroke-width="2.0" />
<line x1="480.50" y1="278.28" x2="486.50" y2="278.28" stroke="#000" stroke-width="2.0" />
<rect x="515.85" y="329.24" width="26.30" height="35.16" fill="#fff" stroke="#000" stroke-width="2.0"/>
<line x1="529.00" y1="321.56" x2="529.00" y2="335.27" stroke="#000" stroke-width="2.0" />
<line x1="526.00" y1="321.56" x2="532.00" y2="321.56" stroke="#000" stroke-width="2.0" />
<line x1="526.00" y1="335.27" x2="532.00" y2="335.27" stroke="#000" stroke-width="2.0" />
<rect x="561.25" y="256.58" width="26.30" height="107.82" fill="#fff" stroke="#000" stroke-width="2.0"/>
<line x1="574.40" y1="240.15" x2="574.40" y2="271.86" stroke="#000" stroke-width="2.0" />
<line x1="571.40" y1="240.15" x2="577.40" y2="240.15" stroke="#000" stroke-width="2.0" />
<line x1="571.40" y1="271.86" x2="577.40" y2="271.86" stroke="#000" stroke-width="2.0" />
<rect x="606.65" y="260.09" width="26.30" height="104.31" fill="#fff" stroke="#000" stroke-width="2.0"/>
<line x1="619.80" y1="241.87" x2="619.80" y2="277.86" stroke="#000" stroke-width="2.0" />
<line x1="616.80" y1="241.87" x2="622.80" y2="241.87" stroke="#000" stroke-width="2.0" />
<line x1="616.80" y1="277.86" x2="622.80" y2="277.86" stroke="#000" stroke-width="2.0" />
<line x1="451.40" y1="226.30" x2="451.40" y2="365.40" stroke="#000" stroke-width="2.0" />
<line x1="450.40" y1="364.40" x2="652.00" y2="364.40" stroke="#000" stroke-width="2.0" />
<line x1="448.40" y1="364.40" x2="451.40" y2="364.40" stroke="#000" stroke-width="1.6" />
<text x="445.60" y="367.24" font-size="8.6" font-weight="bold" text-anchor="end" fill="#000" >0</text>
<line x1="448.40" y1="347.26" x2="451.40" y2="347.26" stroke="#000" stroke-width="1.6" />
<text x="445.60" y="350.10" font-size="8.6" font-weight="bold" text-anchor="end" fill="#000" >200</text>
<line x1="448.40" y1="330.12" x2="451.40" y2="330.12" stroke="#000" stroke-width="1.6" />
<text x="445.60" y="332.96" font-size="8.6" font-weight="bold" text-anchor="end" fill="#000" >400</text>
<line x1="448.40" y1="312.99" x2="451.40" y2="312.99" stroke="#000" stroke-width="1.6" />
<text x="445.60" y="315.83" font-size="8.6" font-weight="bold" text-anchor="end" fill="#000" >600</text>
<line x1="448.40" y1="295.85" x2="451.40" y2="295.85" stroke="#000" stroke-width="1.6" />
<text x="445.60" y="298.69" font-size="8.6" font-weight="bold" text-anchor="end" fill="#000" >800</text>
<line x1="448.40" y1="278.71" x2="451.40" y2="278.71" stroke="#000" stroke-width="1.6" />
<text x="445.60" y="281.55" font-size="8.6" font-weight="bold" text-anchor="end" fill="#000" >1000</text>
<line x1="448.40" y1="261.58" x2="451.40" y2="261.58" stroke="#000" stroke-width="1.6" />
<text x="445.60" y="264.41" font-size="8.6" font-weight="bold" text-anchor="end" fill="#000" >1200</text>
<line x1="448.40" y1="244.44" x2="451.40" y2="244.44" stroke="#000" stroke-width="1.6" />
<text x="445.60" y="247.28" font-size="8.6" font-weight="bold" text-anchor="end" fill="#000" >1400</text>
<line x1="448.40" y1="227.30" x2="451.40" y2="227.30" stroke="#000" stroke-width="1.6" />
<text x="445.60" y="230.14" font-size="8.6" font-weight="bold" text-anchor="end" fill="#000" >1600</text>
<text x="528.40" y="319.40" font-size="15" font-weight="normal" text-anchor="middle" fill="#000" letter-spacing="0.6" stroke="#000" stroke-width="0.35">**</text>
<text transform="translate(421.60,295.30) rotate(-90)" font-size="15" font-weight="bold" text-anchor="middle" fill="#000" >FITC-triflavin binding</text>
<text x="417.10" y="385.40" font-size="15" font-weight="bold" text-anchor="start" fill="#000" >TQ-6</text>
<text x="481.00" y="385.40" font-size="15" font-weight="bold" text-anchor="middle" fill="#000" >–</text>
<text x="528.10" y="385.40" font-size="15" font-weight="bold" text-anchor="middle" fill="#000" >EDTA</text>
<text x="574.20" y="385.40" font-size="15" font-weight="bold" text-anchor="middle" fill="#000" >0.3</text>
<text x="620.10" y="385.40" font-size="15" font-weight="bold" text-anchor="middle" fill="#000" >0.5</text>
<defs><filter id="blur1" x="-20%" y="-50%" width="140%" height="200%"><feGaussianBlur stdDeviation="0.9"/></filter><filter id="blur2" x="-20%" y="-20%" width="140%" height="140%"><feGaussianBlur stdDeviation="2.5"/></filter><linearGradient id="bg1" x1="0" y1="0" x2="1" y2="0"><stop offset="0" stop-color="#d2d2d2"/><stop offset="0.12" stop-color="#d6d6d6"/><stop offset="0.2" stop-color="#e0e0e0"/><stop offset="0.28" stop-color="#d4d4d4"/><stop offset="0.5" stop-color="#d8d8d8"/><stop offset="0.75" stop-color="#d9d9d9"/><stop offset="1" stop-color="#d4d4d4"/></linearGradient><linearGradient id="bg2" x1="0" y1="0" x2="0" y2="1"><stop offset="0" stop-color="#c6c6c6"/><stop offset="0.5" stop-color="#d4d4d4"/><stop offset="0.9" stop-color="#dedede"/><stop offset="1" stop-color="#ececec"/></linearGradient></defs>
<rect x="104.60" y="457.00" width="224.10" height="29.40" fill="url(#bg1)"/>
<ellipse cx="133.2" cy="467.6" rx="20.2" ry="5.5" fill="#8a8a8a" fill-opacity="0.18" filter="url(#blur2)"/>
<path d="M116.0,470.0 C123.0,472.9 143.5,472.9 150.5,469.8 A2.0,2.0 0 0 1 149.3,475.0 C142.5,477.0 124.0,477.0 117.2,475.0 A2.0,2.0 0 0 1 116.0,470.0 Z" fill="#6c6c6c" filter="url(#blur1)"/>
<ellipse cx="188.9" cy="467.4" rx="22.3" ry="5.5" fill="#8a8a8a" fill-opacity="0.4" filter="url(#blur2)"/>
<path d="M170.4,469.4 C176.6,471.9 201.2,471.9 207.4,469.2 A2.8,2.8 0 0 1 206.2,475.9 C200.2,477.6 177.6,477.6 171.6,475.9 A2.8,2.8 0 0 1 170.4,469.4 Z" fill="#404040" filter="url(#blur1)"/>
<ellipse cx="243.4" cy="466.6" rx="21.6" ry="5.5" fill="#8a8a8a" fill-opacity="0.4" filter="url(#blur2)"/>
<path d="M225.6,468.6 C231.8,471.1 255.0,471.1 261.2,468.4 A2.8,2.8 0 0 1 260.0,475.1 C254.0,476.8 232.8,476.8 226.8,475.1 A2.8,2.8 0 0 1 225.6,468.6 Z" fill="#383838" filter="url(#blur1)"/>
<ellipse cx="298.4" cy="465.8" rx="21.6" ry="5.5" fill="#8a8a8a" fill-opacity="0.4" filter="url(#blur2)"/>
<path d="M280.7,467.7 C286.8,470.2 310.0,470.2 316.1,467.5 A2.9,2.9 0 0 1 314.9,474.4 C309.0,476.1 287.8,476.1 281.9,474.4 A2.9,2.9 0 0 1 280.7,467.7 Z" fill="#383838" filter="url(#blur1)"/>
<rect x="104.60" y="457.00" width="224.10" height="29.40" fill="none" stroke="#000" stroke-width="3.2"/>
<rect x="105.50" y="491.20" width="221.70" height="29.60" fill="url(#bg2)"/>
<ellipse cx="133.1" cy="499.4" rx="18.9" ry="5.5" fill="#8a8a8a" fill-opacity="0.5" filter="url(#blur2)"/>
<path d="M118.0,502.2 C124.2,503.9 141.9,503.9 148.1,502.0 A2.8,2.8 0 0 1 146.9,508.4 C140.9,509.6 125.2,509.6 119.2,508.4 A2.8,2.8 0 0 1 118.0,502.2 Z" fill="#000" filter="url(#blur1)"/>
<ellipse cx="189.2" cy="499.4" rx="19.8" ry="5.5" fill="#8a8a8a" fill-opacity="0.5" filter="url(#blur2)"/>
<path d="M173.2,502.2 C179.4,503.9 199.0,503.9 205.2,502.0 A2.8,2.8 0 0 1 204.0,508.4 C198.0,509.6 180.4,509.6 174.4,508.4 A2.8,2.8 0 0 1 173.2,502.2 Z" fill="#000" filter="url(#blur1)"/>
<ellipse cx="243.8" cy="499.2" rx="20.0" ry="5.5" fill="#8a8a8a" fill-opacity="0.5" filter="url(#blur2)"/>
<path d="M227.6,502.0 C233.8,503.7 253.8,503.7 260.0,501.8 A2.8,2.8 0 0 1 258.8,508.2 C252.8,509.4 234.8,509.4 228.8,508.2 A2.8,2.8 0 0 1 227.6,502.0 Z" fill="#000" filter="url(#blur1)"/>
<ellipse cx="299.3" cy="498.6" rx="19.5" ry="5.5" fill="#8a8a8a" fill-opacity="0.5" filter="url(#blur2)"/>
<path d="M283.6,501.4 C289.8,503.1 308.8,503.1 315.0,501.2 A2.8,2.8 0 0 1 313.8,507.6 C307.8,508.8 290.8,508.8 284.8,507.6 A2.8,2.8 0 0 1 283.6,501.4 Z" fill="#000" filter="url(#blur1)"/>
<rect x="105.50" y="491.20" width="221.70" height="29.60" fill="none" stroke="#000" stroke-width="3.2"/>
<text x="16.40" y="473.60" font-size="13.3" font-weight="bold" text-anchor="start" fill="#000" letter-spacing="0.3">p-integrin <tspan font-family="Liberation Sans">β</tspan><tspan font-size="9.5" dy="1.0">3</tspan></text>
<text x="28.20" y="509.00" font-size="13.3" font-weight="bold" text-anchor="start" fill="#000" letter-spacing="0.45">integrin <tspan font-family="Liberation Sans">β</tspan><tspan font-size="9.5" dy="1.0">3</tspan></text>
<text x="336.00" y="437.80" font-size="15" font-weight="bold" text-anchor="start" fill="#000" >kDa</text>
<line x1="335.00" y1="462.80" x2="342.60" y2="462.80" stroke="#000" stroke-width="3.5" />
<text x="343.80" y="467.00" font-size="13" font-weight="bold" text-anchor="start" fill="#000" >130</text>
<line x1="334.50" y1="495.60" x2="342.00" y2="495.60" stroke="#000" stroke-width="3.5" />
<text x="343.30" y="500.00" font-size="13" font-weight="bold" text-anchor="start" fill="#000" >130</text>
<text x="32.80" y="544.40" font-size="15" font-weight="bold" text-anchor="start" fill="#000" >fibrinogen</text>
<text x="135.60" y="545.50" font-size="14.5" font-weight="bold" text-anchor="middle" fill="#000" >BSA</text>
<text x="190.90" y="543.40" font-size="15" font-weight="normal" text-anchor="middle" fill="#000" >+</text>
<text x="245.00" y="543.40" font-size="15" font-weight="normal" text-anchor="middle" fill="#000" >+</text>
<text x="301.00" y="543.40" font-size="15" font-weight="normal" text-anchor="middle" fill="#000" >+</text>
<text x="49.20" y="567.20" font-size="15" font-weight="bold" text-anchor="start" fill="#000" >TQ-6</text>
<text x="133.90" y="567.40" font-size="15" font-weight="bold" text-anchor="middle" fill="#000" >–</text>
<text x="192.60" y="568.00" font-size="15" font-weight="bold" text-anchor="middle" fill="#000" >DMSO</text>
<text x="246.50" y="568.00" font-size="15" font-weight="bold" text-anchor="middle" fill="#000" >0.3</text>
<text x="300.20" y="568.00" font-size="15" font-weight="bold" text-anchor="middle" fill="#000" >0.5</text>
<rect x="467.20" y="509.84" width="27.20" height="55.66" fill="#fff" stroke="#000" stroke-width="1.8"/>
<line x1="480.80" y1="500.21" x2="480.80" y2="517.67" stroke="#000" stroke-width="2.0" />
<line x1="477.80" y1="500.21" x2="483.80" y2="500.21" stroke="#000" stroke-width="2.0" />
<line x1="477.80" y1="517.67" x2="483.80" y2="517.67" stroke="#000" stroke-width="2.0" />
<rect x="513.80" y="447.45" width="27.20" height="118.05" fill="#fff" stroke="#000" stroke-width="1.8"/>
<line x1="527.40" y1="436.55" x2="527.40" y2="458.92" stroke="#000" stroke-width="2.0" />
<line x1="524.40" y1="436.55" x2="530.40" y2="436.55" stroke="#000" stroke-width="2.0" />
<line x1="524.40" y1="458.92" x2="530.40" y2="458.92" stroke="#000" stroke-width="2.0" />
<rect x="560.30" y="450.18" width="27.20" height="115.32" fill="#fff" stroke="#000" stroke-width="1.8"/>
<line x1="573.90" y1="438.92" x2="573.90" y2="461.83" stroke="#000" stroke-width="2.0" />
<line x1="570.90" y1="438.92" x2="576.90" y2="438.92" stroke="#000" stroke-width="2.0" />
<line x1="570.90" y1="461.83" x2="576.90" y2="461.83" stroke="#000" stroke-width="2.0" />
<rect x="607.20" y="452.55" width="27.20" height="112.95" fill="#fff" stroke="#000" stroke-width="1.8"/>
<line x1="620.80" y1="437.64" x2="620.80" y2="467.29" stroke="#000" stroke-width="2.0" />
<line x1="617.80" y1="437.64" x2="623.80" y2="437.64" stroke="#000" stroke-width="2.0" />
<line x1="617.80" y1="467.29" x2="623.80" y2="467.29" stroke="#000" stroke-width="2.0" />
<line x1="448.00" y1="419.00" x2="448.00" y2="566.50" stroke="#000" stroke-width="2.0" />
<line x1="447.00" y1="565.50" x2="654.50" y2="565.50" stroke="#000" stroke-width="2.0" />
<line x1="445.00" y1="565.50" x2="448.00" y2="565.50" stroke="#000" stroke-width="1.6" />
<text x="442.20" y="568.67" font-size="9.6" font-weight="bold" text-anchor="end" fill="#000" >0</text>
<line x1="445.00" y1="529.12" x2="448.00" y2="529.12" stroke="#000" stroke-width="1.6" />
<text x="442.20" y="532.29" font-size="9.6" font-weight="bold" text-anchor="end" fill="#000" >20</text>
<line x1="445.00" y1="492.75" x2="448.00" y2="492.75" stroke="#000" stroke-width="1.6" />
<text x="442.20" y="495.92" font-size="9.6" font-weight="bold" text-anchor="end" fill="#000" >40</text>
<line x1="445.00" y1="456.38" x2="448.00" y2="456.38" stroke="#000" stroke-width="1.6" />
<text x="442.20" y="459.54" font-size="9.6" font-weight="bold" text-anchor="end" fill="#000" >60</text>
<line x1="445.00" y1="420.00" x2="448.00" y2="420.00" stroke="#000" stroke-width="1.6" />
<text x="442.20" y="423.17" font-size="9.6" font-weight="bold" text-anchor="end" fill="#000" >80</text>
<text x="527.90" y="435.80" font-size="15" font-weight="normal" text-anchor="middle" fill="#000" letter-spacing="-0.2" stroke="#000" stroke-width="0.3">***</text>
<text transform="translate(426.5,492.6) rotate(-90) scale(1,1.04)" font-size="15.8" text-anchor="middle" stroke="#000" stroke-width="0.2">FITC-JAQ1 binding</text>
<text x="480.20" y="581.80" font-size="14" font-weight="bold" text-anchor="middle" fill="#000" >a</text>
<text x="528.80" y="581.80" font-size="14" font-weight="bold" text-anchor="middle" fill="#000" >b</text>
<text x="573.80" y="581.80" font-size="14" font-weight="bold" text-anchor="middle" fill="#000" >c</text>
<text x="621.10" y="581.80" font-size="14" font-weight="bold" text-anchor="middle" fill="#000" >d</text>
<path d="M95.00,682.30 C95.33,682.83 96.33,684.75 97.00,685.50 C97.67,686.25 98.25,686.72 99.00,686.80 C99.75,686.88 100.73,686.48 101.50,686.00 C102.27,685.52 102.93,685.23 103.60,683.90 C104.27,682.57 104.90,680.32 105.50,678.00 C106.10,675.68 106.68,673.17 107.20,670.00 C107.72,666.83 108.13,662.83 108.60,659.00 C109.07,655.17 109.53,650.37 110.00,647.00 C110.47,643.63 110.90,641.63 111.40,638.80 C111.90,635.97 112.48,632.47 113.00,630.00 C113.52,627.53 113.83,626.00 114.50,624.00 C115.17,622.00 116.08,619.75 117.00,618.00 C117.92,616.25 118.83,614.83 120.00,613.50 C121.17,612.17 122.67,610.92 124.00,610.00 C125.33,609.08 127.33,608.33 128.00,608.00" fill="none" stroke="#000" stroke-width="2.0" stroke-linejoin="round" stroke-linecap="round" />
<path d="M50.50,680.97 L51.21,681.63 L51.91,681.57 L52.62,681.13 L53.33,681.36 L54.03,681.33 L54.74,681.53 L55.44,681.67 L56.15,681.06 L56.86,681.02 L57.56,681.76 L58.27,681.41 L58.98,681.73 L59.68,681.06 L60.39,681.47 L61.10,681.74 L61.80,681.31 L62.51,681.97 L63.21,681.95 L63.92,681.18 L64.63,681.19 L65.33,681.67 L66.04,682.04 L66.75,681.56 L67.45,681.43 L68.16,681.63 L68.87,681.29 L69.57,681.48 L70.28,681.69 L70.98,681.76 L71.69,681.54 L72.40,681.55 L73.10,681.55 L73.81,681.79 L74.52,681.65 L75.22,681.42 L75.93,682.18 L76.63,681.94 L77.34,682.03 L78.05,681.64 L78.75,682.38 L79.46,682.27 L80.17,681.63 L80.87,681.83 L81.58,682.20 L82.29,682.20 L82.99,682.42 L83.70,681.98 L84.40,682.36 L85.11,682.23 L85.82,681.92 L86.52,682.19 L87.23,682.47 L87.94,682.45 L88.64,682.16 L89.35,682.25 L90.06,681.77 L90.76,681.97 L91.47,682.49 L92.17,682.16 L92.88,681.96 L93.59,682.31 L94.29,682.47 L95.00,682.30" fill="none" stroke="#000" stroke-width="3.0" stroke-linejoin="round" stroke-linecap="round" />
<path d="M114.50,621.29 L114.70,621.13 L114.90,620.41 L115.10,620.21 L115.30,620.07 L115.50,619.21 L115.70,618.90 L115.90,617.32 L116.10,618.08 L116.30,617.26 L116.50,617.15 L116.70,616.81 L116.90,616.35 L117.10,615.74 L117.30,615.71 L117.50,614.89 L117.74,614.73 L117.99,614.38 L118.23,613.95 L118.48,613.64 L118.72,613.52 L118.97,613.15 L119.21,612.44 L119.46,611.79 L119.70,611.56 L119.94,611.56 L120.19,611.12 L120.43,610.26 L120.68,609.96 L120.92,609.85 L121.17,609.68 L121.41,609.28 L121.66,608.27 L121.90,608.03 L122.30,608.10 L122.70,607.78 L123.10,607.51 L123.50,605.67 L123.90,607.13 L124.30,606.19 L124.70,606.07 L125.10,605.64 L125.50,604.71 L125.90,605.19 L126.30,605.26 L126.74,604.73 L127.17,605.04 L127.61,603.54 L128.04,603.95 L128.48,604.62 L128.91,604.36 L129.35,603.18 L129.79,603.91 L130.22,603.05 L130.66,603.39 L131.09,603.43 L131.53,603.36 L131.96,603.18 L132.40,602.73 L132.87,602.97 L133.33,602.04 L133.80,602.67 L134.27,602.78 L134.73,602.52 L135.20,601.32 L135.67,602.22 L136.13,602.74 L136.60,601.98 L137.07,601.47 L137.53,602.38 L138.00,602.05 L138.47,602.01 L138.93,601.80 L139.40,602.12 L139.87,601.85 L140.34,602.54 L140.81,602.00 L141.28,602.32 L141.75,602.04 L142.22,601.88 L142.68,602.28 L143.15,602.45 L143.62,601.73 L144.09,602.21 L144.56,602.05 L145.03,602.26 L145.50,602.16 L145.98,602.15 L146.46,602.54 L146.95,602.71 L147.43,602.14 L147.91,602.34 L148.39,602.57 L148.87,602.77 L149.35,602.42 L149.84,602.84 L150.32,602.62 L150.80,602.73 L150.80,606.10 L150.32,605.47 L149.84,606.08 L149.35,606.01 L148.87,606.14 L148.39,606.19 L147.91,606.29 L147.43,606.31 L146.95,607.00 L146.46,606.16 L145.98,606.24 L145.50,606.47 L145.03,606.11 L144.56,606.17 L144.09,606.31 L143.62,607.90 L143.15,607.25 L142.68,607.06 L142.22,607.17 L141.75,606.55 L141.28,606.59 L140.81,607.42 L140.34,606.63 L139.87,606.82 L139.40,607.04 L138.96,607.30 L138.53,606.87 L138.09,607.07 L137.66,607.83 L137.22,608.08 L136.79,607.45 L136.35,607.43 L135.91,607.51 L135.48,607.85 L135.04,607.76 L134.61,608.43 L134.17,607.92 L133.74,608.09 L133.30,608.30 L132.86,608.88 L132.42,608.57 L131.98,609.26 L131.54,609.61 L131.10,608.96 L130.66,609.22 L130.22,609.35 L129.78,610.13 L129.34,610.24 L128.90,610.27 L128.49,609.87 L128.08,610.24 L127.68,610.83 L127.27,612.23 L126.86,611.37 L126.45,612.48 L126.05,611.52 L125.64,611.80 L125.23,612.73 L124.82,612.17 L124.42,612.79 L124.01,612.85 L123.60,613.22 L123.25,613.49 L122.90,614.17 L122.55,614.36 L122.20,614.58 L121.85,615.00 L121.50,615.26 L121.15,616.08 L120.80,616.50 L120.45,616.58 L120.10,617.27 L119.89,617.44 L119.69,617.42 L119.48,619.15 L119.28,618.23 L119.07,618.63 L118.87,619.51 L118.66,619.45 L118.46,620.10 L118.25,620.41 L118.05,621.04 L117.84,621.94 L117.64,621.71 L117.43,622.44 L117.23,622.27 L117.02,623.52 L116.82,623.40 L116.61,624.50 L116.41,623.98 L116.20,624.85 Z" fill="#000" stroke="#000" stroke-width="0.6" stroke-linejoin="round"/>
<text transform="translate(43.50,660.90) scale(1.13,1)" font-size="10.0" font-weight="bold">DMSO</text>
<line x1="61.10" y1="663.40" x2="61.10" y2="676.80" stroke="#000" stroke-width="1.9" />
<path d="M56.30,668.90 L61.10,677.40 L65.90,668.90" fill="none" stroke="#000" stroke-width="1.9" stroke-linejoin="round" stroke-linecap="round" stroke-linecap="butt" stroke-linejoin="miter"/>
<line x1="90.90" y1="683.00" x2="90.90" y2="695.50" stroke="#151515" stroke-width="1.5" />
<line x1="90.90" y1="695.50" x2="90.90" y2="710.10" stroke="#000" stroke-width="1.9" />
<path d="M86.10,704.00 L90.90,695.50 L95.70,704.00" fill="none" stroke="#000" stroke-width="1.9" stroke-linejoin="round" stroke-linecap="round" stroke-linecap="butt" stroke-linejoin="miter"/>
<text transform="translate(72.10,718.30) scale(1.13,1)" font-size="10.0" font-weight="bold">collagen</text>
<path d="M220.00,681.90 C220.60,682.20 222.37,682.85 223.60,683.70 C224.83,684.55 225.98,686.38 227.40,687.00 C228.82,687.62 229.10,687.65 232.10,687.40 C235.10,687.15 240.97,686.17 245.40,685.50 C249.83,684.83 253.95,683.87 258.70,683.40 C263.45,682.93 271.37,682.82 273.90,682.70" fill="none" stroke="#000" stroke-width="2.2" stroke-linejoin="round" stroke-linecap="round" />
<path d="M173.30,684.01 L174.01,683.98 L174.72,683.15 L175.42,683.15 L176.13,683.80 L176.84,683.68 L177.55,683.60 L178.25,683.25 L178.96,683.49 L179.67,683.46 L180.38,683.42 L181.08,683.01 L181.79,683.23 L182.50,683.17 L183.21,683.44 L183.91,683.66 L184.62,683.59 L185.33,683.20 L186.04,683.09 L186.74,682.90 L187.45,682.67 L188.16,682.63 L188.87,683.00 L189.57,682.84 L190.28,682.87 L190.99,683.31 L191.70,682.95 L192.40,682.96 L193.11,682.64 L193.82,682.42 L194.53,682.67 L195.23,682.47 L195.94,682.78 L196.65,683.20 L197.36,682.88 L198.07,682.41 L198.77,683.03 L199.48,682.91 L200.19,682.83 L200.90,682.96 L201.60,682.81 L202.31,682.80 L203.02,682.39 L203.73,682.93 L204.43,682.88 L205.14,682.14 L205.85,682.64 L206.56,682.58 L207.26,682.33 L207.97,682.37 L208.68,682.30 L209.39,682.67 L210.09,682.26 L210.80,682.53 L211.51,682.08 L212.22,682.53 L212.92,682.52 L213.63,682.10 L214.34,682.17 L215.05,682.46 L215.75,682.26 L216.46,682.02 L217.17,681.75 L217.88,681.82 L218.58,682.13 L219.29,681.63 L220.00,681.90" fill="none" stroke="#000" stroke-width="3.0" stroke-linejoin="round" stroke-linecap="round" />
<text transform="translate(172.90,661.30) scale(1.13,1)" font-size="10.0" font-weight="bold">NTG</text>
<line x1="184.30" y1="663.70" x2="184.30" y2="677.40" stroke="#000" stroke-width="1.9" />
<path d="M179.50,669.50 L184.30,678.00 L189.10,669.50" fill="none" stroke="#000" stroke-width="1.9" stroke-linejoin="round" stroke-linecap="round" stroke-linecap="butt" stroke-linejoin="miter"/>
<line x1="213.70" y1="683.70" x2="213.70" y2="697.90" stroke="#151515" stroke-width="1.5" />
<line x1="213.70" y1="697.90" x2="213.70" y2="710.20" stroke="#000" stroke-width="1.9" />
<path d="M208.90,706.40 L213.70,697.90 L218.50,706.40" fill="none" stroke="#000" stroke-width="1.9" stroke-linejoin="round" stroke-linecap="round" stroke-linecap="butt" stroke-linejoin="miter"/>
<path d="M361.20,682.10 C361.58,682.83 362.72,685.42 363.50,686.50 C364.28,687.58 365.07,688.35 365.90,688.60 C366.73,688.85 367.70,688.38 368.50,688.00 C369.30,687.62 370.02,687.47 370.70,686.30 C371.38,685.13 371.97,683.53 372.60,681.00 C373.23,678.47 373.68,674.67 374.50,671.10 C375.32,667.53 376.57,664.32 377.50,659.60 C378.43,654.88 379.37,647.42 380.10,642.80 C380.83,638.18 381.33,634.53 381.90,631.90 C382.47,629.27 382.90,628.40 383.50,627.00 C384.10,625.60 384.75,624.42 385.50,623.50 C386.25,622.58 387.58,621.83 388.00,621.50" fill="none" stroke="#000" stroke-width="2.0" stroke-linejoin="round" stroke-linecap="round" />
<path d="M304.80,683.16 L305.50,683.42 L306.21,683.25 L306.92,683.44 L307.62,683.45 L308.32,682.93 L309.03,682.86 L309.74,683.59 L310.44,683.05 L311.14,683.01 L311.85,683.68 L312.56,683.19 L313.26,683.51 L313.97,683.17 L314.67,683.30 L315.38,682.84 L316.08,683.26 L316.79,683.45 L317.49,683.13 L318.19,683.31 L318.90,683.23 L319.61,682.67 L320.31,683.27 L321.01,683.11 L321.72,682.83 L322.43,682.57 L323.13,683.31 L323.83,682.94 L324.54,683.14 L325.25,683.27 L325.95,683.11 L326.66,683.28 L327.36,682.79 L328.06,683.13 L328.77,682.80 L329.48,683.22 L330.18,683.16 L330.88,682.44 L331.59,682.45 L332.30,682.51 L333.00,683.17 L333.70,682.68 L334.41,682.83 L335.12,682.52 L335.82,682.69 L336.52,682.57 L337.23,682.52 L337.94,682.71 L338.64,682.70 L339.35,682.97 L340.05,682.75 L340.75,682.96 L341.46,682.88 L342.16,682.98 L342.87,682.68 L343.57,682.20 L344.28,682.81 L344.99,682.89 L345.69,682.82 L346.39,682.50 L347.10,682.62 L347.81,682.15 L348.51,682.69 L349.21,682.44 L349.92,682.17 L350.62,681.95 L351.33,682.65 L352.03,682.75 L352.74,681.92 L353.44,682.55 L354.15,682.18 L354.86,681.93 L355.56,682.04 L356.26,682.46 L356.97,682.53 L357.68,681.77 L358.38,682.27 L359.08,681.74 L359.79,682.33 L360.50,681.96 L361.20,682.10" fill="none" stroke="#000" stroke-width="3.6" stroke-linejoin="round" stroke-linecap="round" />
<path d="M383.20,626.64 L383.38,626.77 L383.56,626.45 L383.75,625.76 L383.93,625.47 L384.11,624.71 L384.29,624.43 L384.47,624.15 L384.65,623.90 L384.84,622.33 L385.02,622.89 L385.20,622.43 L385.51,622.23 L385.83,621.43 L386.14,621.35 L386.46,621.17 L386.77,620.69 L387.09,620.30 L387.40,619.93 L387.84,619.40 L388.29,619.18 L388.73,618.84 L389.18,619.48 L389.62,618.58 L390.07,618.12 L390.51,618.76 L390.96,618.92 L391.40,618.69 L391.86,618.11 L392.33,618.63 L392.79,618.59 L393.25,618.61 L393.72,618.07 L394.18,617.72 L394.65,618.41 L395.11,618.45 L395.57,618.38 L396.04,617.90 L396.50,618.17 L396.99,618.37 L397.48,618.54 L397.97,618.47 L398.46,618.33 L398.94,617.28 L399.43,617.93 L399.92,618.50 L400.41,617.89 L400.90,618.28 L401.35,618.57 L401.80,617.32 L402.25,617.96 L402.70,618.74 L403.15,618.35 L403.60,618.41 L404.05,618.60 L404.50,618.90 L404.50,622.35 L404.00,623.41 L403.50,622.70 L403.00,622.57 L402.55,623.23 L402.09,623.25 L401.64,622.64 L401.18,622.99 L400.73,622.88 L400.27,623.34 L399.82,622.46 L399.36,622.27 L398.91,622.47 L398.45,622.70 L398.00,622.26 L397.53,622.34 L397.05,623.91 L396.58,622.55 L396.11,623.11 L395.64,622.90 L395.16,622.81 L394.69,622.86 L394.22,623.63 L393.75,623.39 L393.27,623.28 L392.80,623.64 L392.35,623.06 L391.90,623.04 L391.45,623.23 L391.00,623.25 L390.55,623.66 L390.10,623.76 L389.65,623.85 L389.20,623.51 L388.76,623.81 L388.32,624.38 L387.88,624.30 L387.44,624.79 L387.00,624.96 L386.76,626.02 L386.51,625.60 L386.27,626.90 L386.02,626.84 L385.78,627.84 L385.53,627.58 L385.29,629.05 L385.04,628.77 L384.80,629.09 Z" fill="#000" stroke="#000" stroke-width="0.6" stroke-linejoin="round"/>
<text transform="translate(323.20,661.60) scale(1.13,1)" font-size="10.0" font-weight="bold">NTG</text>
<line x1="334.00" y1="662.60" x2="334.00" y2="676.20" stroke="#000" stroke-width="1.9" />
<path d="M329.20,668.30 L334.00,676.80 L338.80,668.30" fill="none" stroke="#000" stroke-width="1.9" stroke-linejoin="round" stroke-linecap="round" stroke-linecap="butt" stroke-linejoin="miter"/>
<line x1="313.20" y1="683.40" x2="313.20" y2="698.60" stroke="#151515" stroke-width="1.5" />
<line x1="313.20" y1="698.60" x2="313.20" y2="711.90" stroke="#000" stroke-width="1.9" />
<path d="M308.40,707.10 L313.20,698.60 L318.00,707.10" fill="none" stroke="#000" stroke-width="1.9" stroke-linejoin="round" stroke-linecap="round" stroke-linecap="butt" stroke-linejoin="miter"/>
<text transform="translate(299.50,720.60) scale(1.13,1)" font-size="10.0" font-weight="bold">ODQ</text>
<line x1="357.40" y1="682.50" x2="357.40" y2="699.60" stroke="#151515" stroke-width="1.5" />
<line x1="357.40" y1="699.60" x2="357.40" y2="712.90" stroke="#000" stroke-width="1.9" />
<path d="M352.60,708.10 L357.40,699.60 L362.20,708.10" fill="none" stroke="#000" stroke-width="1.9" stroke-linejoin="round" stroke-linecap="round" stroke-linecap="butt" stroke-linejoin="miter"/>
<path d="M478.80,679.70 C479.17,680.00 480.30,680.68 481.00,681.50 C481.70,682.32 482.25,683.78 483.00,684.60 C483.75,685.42 484.58,686.13 485.50,686.40 C486.42,686.67 487.40,686.43 488.50,686.20 C489.60,685.97 490.68,685.53 492.10,685.00 C493.52,684.47 495.42,683.63 497.00,683.00 C498.58,682.37 499.77,681.73 501.60,681.20 C503.43,680.67 505.78,680.17 508.00,679.80 C510.22,679.43 512.23,679.37 514.90,679.00 C517.57,678.63 520.83,678.00 524.00,677.60 C527.17,677.20 532.25,676.77 533.90,676.60" fill="none" stroke="#000" stroke-width="2.6" stroke-linejoin="round" stroke-linecap="round" />
<path d="M432.90,680.06 L433.61,679.93 L434.31,680.19 L435.02,679.96 L435.72,679.87 L436.43,680.17 L437.14,680.62 L437.84,680.51 L438.55,680.46 L439.26,679.97 L439.96,680.24 L440.67,680.00 L441.37,679.89 L442.08,679.83 L442.79,679.91 L443.49,680.55 L444.20,680.45 L444.90,680.42 L445.61,680.40 L446.32,679.85 L447.02,679.94 L447.73,680.22 L448.44,680.31 L449.14,680.41 L449.85,680.42 L450.55,679.70 L451.26,680.16 L451.97,680.21 L452.67,680.05 L453.38,679.74 L454.08,680.00 L454.79,679.64 L455.50,680.40 L456.20,680.32 L456.91,680.03 L457.62,679.80 L458.32,680.34 L459.03,680.02 L459.73,680.29 L460.44,680.25 L461.15,679.94 L461.85,679.84 L462.56,680.00 L463.26,679.84 L463.97,679.59 L464.68,679.71 L465.38,680.16 L466.09,679.46 L466.80,679.45 L467.50,679.96 L468.21,679.64 L468.91,679.86 L469.62,679.79 L470.33,679.67 L471.03,680.25 L471.74,679.52 L472.44,679.70 L473.15,679.51 L473.86,679.88 L474.56,679.55 L475.27,679.62 L475.98,679.96 L476.68,679.57 L477.39,679.77 L478.09,680.07 L478.80,679.70" fill="none" stroke="#000" stroke-width="3.0" stroke-linejoin="round" stroke-linecap="round" />
<text transform="translate(431.40,644.80) scale(1.13,1)" font-size="10.0" font-weight="bold">TQ-6</text>
<text transform="translate(437.10,660.40) scale(1.13,1)" font-size="10.0" font-weight="bold">0.5</text>
<line x1="443.70" y1="662.30" x2="443.70" y2="675.90" stroke="#000" stroke-width="1.9" />
<path d="M438.90,668.00 L443.70,676.50 L448.50,668.00" fill="none" stroke="#000" stroke-width="1.9" stroke-linejoin="round" stroke-linecap="round" stroke-linecap="butt" stroke-linejoin="miter"/>
<line x1="473.50" y1="680.30" x2="473.50" y2="696.40" stroke="#151515" stroke-width="1.5" />
<line x1="473.50" y1="696.40" x2="473.50" y2="710.70" stroke="#000" stroke-width="1.9" />
<path d="M468.70,704.90 L473.50,696.40 L478.30,704.90" fill="none" stroke="#000" stroke-width="1.9" stroke-linejoin="round" stroke-linecap="round" stroke-linecap="butt" stroke-linejoin="miter"/>
<path d="M608.80,677.60 C609.17,678.08 610.30,679.43 611.00,680.50 C611.70,681.57 612.13,683.18 613.00,684.00 C613.87,684.82 614.97,685.40 616.20,685.40 C617.43,685.40 619.02,684.52 620.40,684.00 C621.78,683.48 623.08,682.83 624.50,682.30 C625.92,681.77 627.15,681.25 628.90,680.80 C630.65,680.35 632.88,679.95 635.00,679.60 C637.12,679.25 639.43,679.00 641.60,678.70 C643.77,678.40 645.88,678.05 648.00,677.80 C650.12,677.55 653.25,677.30 654.30,677.20" fill="none" stroke="#000" stroke-width="2.6" stroke-linejoin="round" stroke-linecap="round" />
<path d="M550.60,678.81 L551.30,678.90 L552.00,678.94 L552.70,679.06 L553.40,678.86 L554.11,679.01 L554.81,678.20 L555.51,678.58 L556.21,678.99 L556.91,678.71 L557.61,678.93 L558.31,678.21 L559.01,678.51 L559.72,678.30 L560.42,678.55 L561.12,678.57 L561.82,678.05 L562.52,678.22 L563.22,678.26 L563.92,678.82 L564.62,678.67 L565.33,678.12 L566.03,678.68 L566.73,678.07 L567.43,678.49 L568.13,678.03 L568.83,677.91 L569.53,678.68 L570.23,678.07 L570.93,678.06 L571.64,678.74 L572.34,678.62 L573.04,678.09 L573.74,678.68 L574.44,678.28 L575.14,678.40 L575.84,677.96 L576.54,678.61 L577.25,678.37 L577.95,678.60 L578.65,678.52 L579.35,677.98 L580.05,678.02 L580.75,677.83 L581.45,677.80 L582.15,677.71 L582.86,677.91 L583.56,678.17 L584.26,677.62 L584.96,678.21 L585.66,677.89 L586.36,677.85 L587.06,678.30 L587.76,677.98 L588.47,677.82 L589.17,677.95 L589.87,678.14 L590.57,677.55 L591.27,678.36 L591.97,677.49 L592.67,678.13 L593.37,678.20 L594.07,677.44 L594.78,678.12 L595.48,677.73 L596.18,677.91 L596.88,677.38 L597.58,677.40 L598.28,677.51 L598.98,678.20 L599.68,677.50 L600.39,677.99 L601.09,678.13 L601.79,678.13 L602.49,677.58 L603.19,677.58 L603.89,677.72 L604.59,677.93 L605.29,677.31 L606.00,677.88 L606.70,677.91 L607.40,677.95 L608.10,677.20 L608.80,677.60" fill="none" stroke="#000" stroke-width="3.8" stroke-linejoin="round" stroke-linecap="round" />
<text transform="translate(574.90,659.00) scale(1.13,1)" font-size="10.0" font-weight="bold">0.5</text>
<line x1="581.30" y1="660.70" x2="581.30" y2="674.30" stroke="#000" stroke-width="1.9" />
<path d="M576.50,666.40 L581.30,674.90 L586.10,666.40" fill="none" stroke="#000" stroke-width="1.9" stroke-linejoin="round" stroke-linecap="round" stroke-linecap="butt" stroke-linejoin="miter"/>
<line x1="558.60" y1="678.70" x2="558.60" y2="696.70" stroke="#151515" stroke-width="1.5" />
<line x1="558.60" y1="696.70" x2="558.60" y2="710.00" stroke="#000" stroke-width="1.9" />
<path d="M553.80,705.20 L558.60,696.70 L563.40,705.20" fill="none" stroke="#000" stroke-width="1.9" stroke-linejoin="round" stroke-linecap="round" stroke-linecap="butt" stroke-linejoin="miter"/>
<text transform="translate(547.40,720.40) scale(1.13,1)" font-size="10.0" font-weight="bold">ODQ</text>
<line x1="604.60" y1="677.60" x2="604.60" y2="696.70" stroke="#151515" stroke-width="1.5" />
<line x1="604.60" y1="696.70" x2="604.60" y2="709.40" stroke="#000" stroke-width="1.9" />
<path d="M599.80,705.20 L604.60,696.70 L609.40,705.20" fill="none" stroke="#000" stroke-width="1.9" stroke-linejoin="round" stroke-linecap="round" stroke-linecap="butt" stroke-linejoin="miter"/>
<path d="M667.60,731.90 L667.60,746.60 L680.40,746.60" fill="none" stroke="#000" stroke-width="2.0" stroke-linejoin="round" stroke-linecap="round" stroke-linecap="butt" stroke-linejoin="miter"/>
<text transform="translate(663.20,756.60) rotate(-90)" font-size="9.4" font-weight="normal" text-anchor="start" fill="#000" >ΔT (10%)</text>
<text x="667.90" y="755.50" font-size="9.0" font-weight="normal" text-anchor="start" fill="#000" >min</text>
<path d="M95.80,802.90 C96.25,803.33 97.73,804.80 98.50,805.50 C99.27,806.20 99.30,806.48 100.40,807.10 C101.50,807.72 103.33,809.02 105.10,809.20 C106.87,809.38 109.43,809.33 111.00,808.20 C112.57,807.07 113.50,804.93 114.50,802.40 C115.50,799.87 116.28,795.73 117.00,793.00 C117.72,790.27 118.28,788.23 118.80,786.00 C119.32,783.77 119.58,783.02 120.10,779.60 C120.62,776.18 121.32,769.60 121.90,765.50 C122.48,761.40 123.00,757.92 123.60,755.00 C124.20,752.08 125.18,749.17 125.50,748.00" fill="none" stroke="#000" stroke-width="2.0" stroke-linejoin="round" stroke-linecap="round" />
<path d="M50.20,801.96 L50.90,802.01 L51.60,801.72 L52.30,801.54 L53.01,801.32 L53.71,801.94 L54.41,801.78 L55.11,802.06 L55.81,801.73 L56.51,802.11 L57.22,801.68 L57.92,802.17 L58.62,802.13 L59.32,801.86 L60.02,801.99 L60.72,802.14 L61.42,801.72 L62.13,802.06 L62.83,802.31 L63.53,801.84 L64.23,802.34 L64.93,802.25 L65.63,802.42 L66.34,801.98 L67.04,801.78 L67.74,802.43 L68.44,802.45 L69.14,802.15 L69.84,801.85 L70.54,801.96 L71.25,802.38 L71.95,802.08 L72.65,802.70 L73.35,802.39 L74.05,802.06 L74.75,802.49 L75.46,802.24 L76.16,802.77 L76.86,802.77 L77.56,802.43 L78.26,802.57 L78.96,802.64 L79.66,802.75 L80.37,802.92 L81.07,802.09 L81.77,802.41 L82.47,802.64 L83.17,802.39 L83.87,802.67 L84.58,802.24 L85.28,802.97 L85.98,802.66 L86.68,802.32 L87.38,802.82 L88.08,802.53 L88.78,802.44 L89.49,802.72 L90.19,802.43 L90.89,802.51 L91.59,803.12 L92.29,802.99 L92.99,802.39 L93.70,803.09 L94.40,802.43 L95.10,802.73 L95.80,802.90" fill="none" stroke="#000" stroke-width="3.0" stroke-linejoin="round" stroke-linecap="round" />
<path d="M121.00,766.29 L121.08,769.35 L121.15,768.84 L121.22,768.05 L121.30,767.79 L121.38,766.71 L121.45,766.60 L121.53,765.82 L121.60,765.60 L121.67,765.66 L121.75,765.02 L121.83,764.40 L121.90,763.09 L121.97,763.09 L122.05,762.46 L122.12,762.70 L122.20,761.21 L122.28,761.21 L122.35,761.50 L122.42,759.94 L122.50,759.28 L122.59,760.07 L122.68,759.44 L122.77,756.73 L122.86,757.70 L122.95,757.69 L123.05,756.87 L123.14,757.60 L123.23,756.79 L123.32,755.34 L123.41,755.40 L123.50,755.75 L123.59,755.13 L123.68,754.69 L123.77,753.05 L123.86,752.76 L123.95,752.78 L124.05,752.90 L124.14,752.51 L124.23,751.75 L124.32,750.66 L124.41,749.59 L124.50,750.24 L124.62,748.37 L124.75,747.19 L124.88,748.72 L125.00,747.91 L125.12,748.12 L125.25,747.89 L125.38,747.35 L125.50,746.04 L125.62,745.84 L125.75,745.78 L125.88,744.75 L126.00,743.70 L126.12,743.85 L126.25,743.76 L126.38,743.81 L126.50,743.27 L126.62,743.04 L126.75,742.27 L126.88,741.04 L127.00,741.40 L127.20,740.72 L127.40,740.46 L127.60,739.09 L127.80,739.53 L128.00,737.88 L128.20,738.75 L128.40,738.70 L128.60,738.28 L128.80,736.36 L129.00,736.53 L129.33,736.40 L129.67,735.80 L130.00,735.71 L130.33,734.05 L130.67,734.99 L131.00,734.94 L131.38,733.64 L131.77,732.58 L132.15,733.82 L132.53,732.90 L132.92,731.48 L133.30,731.82 L133.65,731.76 L134.00,730.56 L134.35,730.43 L134.70,729.30 L135.05,731.13 L135.40,729.21 L135.75,730.83 L136.10,730.73 L136.45,729.81 L136.80,729.40 L137.26,729.32 L137.71,728.26 L138.17,728.19 L138.63,728.58 L139.09,728.80 L139.54,727.95 L140.00,727.46 L140.43,727.47 L140.86,727.10 L141.29,727.64 L141.71,726.96 L142.14,727.15 L142.57,726.76 L143.00,727.05 L143.48,727.31 L143.96,725.16 L144.43,727.40 L144.91,726.37 L145.39,726.09 L145.87,726.85 L146.34,726.28 L146.82,726.86 L147.30,726.45 L147.80,726.41 L148.30,723.19 L148.80,726.74 L149.30,726.16 L149.80,725.29 L150.30,726.19 L150.80,725.37 L150.80,734.94 L150.36,735.86 L149.93,734.64 L149.49,735.70 L149.05,735.44 L148.61,735.23 L148.18,734.94 L147.74,735.10 L147.30,737.46 L146.86,735.66 L146.43,737.48 L145.99,737.14 L145.55,736.56 L145.11,736.96 L144.68,737.03 L144.24,737.36 L143.80,737.83 L143.36,738.66 L142.92,737.47 L142.48,737.34 L142.03,738.88 L141.59,737.67 L141.15,738.33 L140.71,739.79 L140.27,738.77 L139.82,738.53 L139.38,739.13 L138.94,739.82 L138.50,739.27 L138.11,739.52 L137.72,739.37 L137.33,740.37 L136.94,740.49 L136.56,739.87 L136.17,741.12 L135.78,740.74 L135.39,741.61 L135.00,740.79 L134.71,741.96 L134.42,742.17 L134.12,742.89 L133.83,742.64 L133.54,743.04 L133.25,746.05 L132.96,744.69 L132.67,744.12 L132.38,745.53 L132.08,744.55 L131.79,746.11 L131.50,745.98 L131.15,746.04 L130.80,746.05 L130.45,747.42 L130.10,746.78 L129.75,746.82 L129.40,747.37 L129.05,749.22 L128.70,748.13 L128.35,749.96 L128.00,748.83 L127.75,749.55 L127.50,749.31 L127.25,751.61 L127.00,750.74 L126.81,751.59 L126.62,751.23 L126.44,751.95 L126.25,751.68 L126.06,753.68 L125.88,752.55 L125.69,754.12 L125.50,753.91 L125.40,755.04 L125.30,754.94 L125.20,754.91 L125.10,755.40 L125.00,756.12 L124.90,757.39 L124.80,756.57 L124.70,758.78 L124.60,758.68 L124.50,759.09 L124.40,759.40 L124.30,760.11 L124.20,759.38 L124.10,761.96 L124.00,761.79 L123.92,761.59 L123.84,761.85 L123.77,763.14 L123.69,763.19 L123.61,764.05 L123.53,763.17 L123.46,763.92 L123.38,763.93 L123.30,764.40 L123.22,766.46 L123.14,765.67 L123.07,766.42 L122.99,766.01 L122.91,767.99 L122.83,767.32 L122.76,768.61 L122.68,768.28 L122.60,768.28 Z" fill="#000" stroke="#000" stroke-width="0.6" stroke-linejoin="round"/>
<text transform="translate(43.20,783.30) scale(1.13,1)" font-size="10.0" font-weight="bold">DMSO</text>
<line x1="61.20" y1="784.90" x2="61.20" y2="799.00" stroke="#000" stroke-width="1.9" />
<path d="M56.40,791.10 L61.20,799.60 L66.00,791.10" fill="none" stroke="#000" stroke-width="1.9" stroke-linejoin="round" stroke-linecap="round" stroke-linecap="butt" stroke-linejoin="miter"/>
<line x1="91.10" y1="802.90" x2="91.10" y2="810.60" stroke="#151515" stroke-width="1.5" />
<line x1="91.10" y1="810.60" x2="91.10" y2="823.40" stroke="#000" stroke-width="1.9" />
<path d="M86.30,819.10 L91.10,810.60 L95.90,819.10" fill="none" stroke="#000" stroke-width="1.9" stroke-linejoin="round" stroke-linecap="round" stroke-linecap="butt" stroke-linejoin="miter"/>
<text transform="translate(71.90,834.00) scale(1.13,1)" font-size="10.0" font-weight="bold">collagen</text>
<path d="M215.00,799.90 C215.60,799.92 217.33,799.85 218.60,800.00 C219.87,800.15 221.45,800.42 222.60,800.80 C223.75,801.18 224.55,801.77 225.50,802.30 C226.45,802.83 226.88,803.47 228.30,804.00 C229.72,804.53 231.78,805.18 234.00,805.50 C236.22,805.82 239.27,805.95 241.60,805.90 C243.93,805.85 245.78,805.52 248.00,805.20 C250.22,804.88 252.40,804.48 254.90,804.00 C257.40,803.52 260.15,802.83 263.00,802.30 C265.85,801.77 270.50,801.05 272.00,800.80" fill="none" stroke="#000" stroke-width="2.9" stroke-linejoin="round" stroke-linecap="round" />
<path d="M172.30,801.64 L173.00,801.45 L173.70,801.87 L174.40,801.32 L175.10,801.71 L175.80,801.52 L176.50,801.22 L177.20,801.59 L177.90,801.13 L178.60,801.46 L179.30,801.10 L180.00,801.09 L180.70,801.36 L181.40,801.69 L182.10,801.03 L182.80,801.08 L183.50,801.42 L184.20,801.67 L184.90,801.31 L185.60,801.12 L186.30,801.61 L187.00,800.74 L187.70,801.44 L188.40,800.89 L189.10,800.73 L189.80,800.68 L190.50,800.82 L191.20,801.24 L191.90,800.64 L192.60,800.97 L193.30,800.99 L194.00,800.72 L194.70,800.85 L195.40,800.38 L196.10,800.34 L196.80,800.45 L197.50,800.84 L198.20,800.58 L198.90,800.45 L199.60,800.66 L200.30,800.51 L201.00,800.34 L201.70,800.76 L202.40,800.64 L203.10,800.20 L203.80,800.47 L204.50,800.39 L205.20,800.67 L205.90,800.51 L206.60,800.08 L207.30,800.67 L208.00,799.87 L208.70,800.11 L209.40,800.38 L210.10,799.80 L210.80,800.08 L211.50,799.64 L212.20,800.18 L212.90,800.23 L213.60,800.03 L214.30,800.27 L215.00,799.90" fill="none" stroke="#000" stroke-width="3.0" stroke-linejoin="round" stroke-linecap="round" />
<text transform="translate(171.40,780.50) scale(1.13,1)" font-size="10.0" font-weight="bold">PGE<tspan font-size="7.5" dy="1.2">1</tspan></text>
<line x1="182.80" y1="782.80" x2="182.80" y2="797.40" stroke="#000" stroke-width="1.9" />
<path d="M178.00,789.50 L182.80,798.00 L187.60,789.50" fill="none" stroke="#000" stroke-width="1.9" stroke-linejoin="round" stroke-linecap="round" stroke-linecap="butt" stroke-linejoin="miter"/>
<line x1="212.20" y1="800.80" x2="212.20" y2="810.30" stroke="#151515" stroke-width="1.5" />
<line x1="212.20" y1="810.30" x2="212.20" y2="825.50" stroke="#000" stroke-width="1.9" />
<path d="M207.40,818.80 L212.20,810.30 L217.00,818.80" fill="none" stroke="#000" stroke-width="1.9" stroke-linejoin="round" stroke-linecap="round" stroke-linecap="butt" stroke-linejoin="miter"/>
<path d="M352.60,800.70 C353.00,800.88 354.20,801.33 355.00,801.80 C355.80,802.27 356.57,802.97 357.40,803.50 C358.23,804.03 359.05,804.62 360.00,805.00 C360.95,805.38 362.10,805.75 363.10,805.80 C364.10,805.85 365.22,805.52 366.00,805.30 C366.78,805.08 366.87,805.43 367.80,804.50 C368.73,803.57 370.65,801.45 371.60,799.70 C372.55,797.95 372.88,795.70 373.50,794.00 C374.12,792.30 374.52,792.87 375.30,789.50 C376.08,786.13 377.22,778.60 378.20,773.80 C379.18,769.00 380.33,764.10 381.20,760.70 C382.07,757.30 382.68,755.27 383.40,753.40 C384.12,751.53 384.65,750.73 385.50,749.50 C386.35,748.27 387.42,746.92 388.50,746.00 C389.58,745.08 391.42,744.33 392.00,744.00" fill="none" stroke="#000" stroke-width="2.6" stroke-linejoin="round" stroke-linecap="round" />
<path d="M304.20,801.75 L304.90,802.40 L305.60,801.63 L306.30,802.13 L307.01,801.55 L307.71,801.68 L308.41,802.34 L309.11,801.61 L309.81,801.98 L310.51,801.79 L311.21,801.77 L311.92,801.79 L312.62,801.50 L313.32,802.05 L314.02,801.37 L314.72,801.48 L315.42,801.27 L316.12,801.47 L316.83,801.58 L317.53,802.00 L318.23,801.51 L318.93,801.26 L319.63,801.37 L320.33,802.01 L321.03,801.15 L321.74,801.64 L322.44,801.40 L323.14,801.64 L323.84,801.33 L324.54,801.63 L325.24,801.43 L325.94,801.55 L326.65,801.76 L327.35,801.45 L328.05,801.04 L328.75,800.95 L329.45,801.72 L330.15,801.29 L330.86,801.01 L331.56,801.67 L332.26,801.32 L332.96,801.43 L333.66,801.55 L334.36,801.00 L335.06,801.04 L335.77,801.49 L336.47,800.80 L337.17,801.35 L337.87,800.73 L338.57,801.25 L339.27,801.24 L339.97,801.44 L340.68,801.33 L341.38,801.00 L342.08,800.71 L342.78,800.65 L343.48,800.97 L344.18,800.93 L344.88,800.52 L345.59,801.25 L346.29,800.88 L346.99,801.03 L347.69,800.58 L348.39,800.58 L349.09,800.35 L349.79,800.63 L350.50,800.55 L351.20,800.67 L351.90,800.61 L352.60,800.70" fill="none" stroke="#000" stroke-width="3.4" stroke-linejoin="round" stroke-linecap="round" />
<path d="M384.00,748.81 L384.25,748.23 L384.50,748.45 L384.75,747.96 L385.00,747.05 L385.25,747.07 L385.50,746.58 L385.77,745.30 L386.05,745.19 L386.32,745.09 L386.60,745.00 L386.88,744.52 L387.15,744.29 L387.43,742.84 L387.70,743.35 L388.11,742.98 L388.52,742.87 L388.93,742.64 L389.34,742.16 L389.76,741.31 L390.17,741.40 L390.58,741.21 L390.99,741.34 L391.40,740.79 L391.86,740.54 L392.33,740.37 L392.79,740.52 L393.25,739.97 L393.72,740.62 L394.18,740.11 L394.65,740.15 L395.11,740.07 L395.57,740.09 L396.04,739.93 L396.50,739.10 L396.99,739.87 L397.48,739.60 L397.97,739.88 L398.46,739.41 L398.94,739.33 L399.43,739.23 L399.92,739.21 L400.41,739.31 L400.90,738.95 L401.40,739.58 L401.90,739.65 L402.40,739.61 L402.90,739.35 L403.40,739.46 L403.90,739.47 L404.40,739.51 L404.90,739.35 L404.90,743.62 L404.38,743.97 L403.86,743.78 L403.34,743.94 L402.82,743.84 L402.30,744.04 L401.82,744.20 L401.34,744.11 L400.87,744.35 L400.39,744.52 L399.91,744.68 L399.43,744.62 L398.96,744.41 L398.48,744.97 L398.00,745.28 L397.53,745.28 L397.05,744.88 L396.58,745.07 L396.11,745.38 L395.64,745.87 L395.16,745.86 L394.69,745.27 L394.22,745.48 L393.75,746.15 L393.27,745.85 L392.80,745.71 L392.40,746.23 L392.00,746.25 L391.60,746.77 L391.20,747.34 L390.80,746.92 L390.40,747.38 L390.00,747.52 L389.60,747.76 L389.20,748.18 L388.92,748.45 L388.63,748.99 L388.35,749.15 L388.07,749.63 L387.78,749.95 L387.50,750.36 L387.22,750.80 L386.93,750.92 L386.65,751.53 L386.37,751.73 L386.08,751.84 L385.80,752.31 Z" fill="#000" stroke="#000" stroke-width="0.6" stroke-linejoin="round"/>
<text transform="translate(318.10,782.60) scale(1.13,1)" font-size="10.0" font-weight="bold">PGE<tspan font-size="7.5" dy="1.2">1</tspan></text>
<line x1="329.90" y1="784.50" x2="329.90" y2="797.20" stroke="#000" stroke-width="1.9" />
<path d="M325.10,789.30 L329.90,797.80 L334.70,789.30" fill="none" stroke="#000" stroke-width="1.9" stroke-linejoin="round" stroke-linecap="round" stroke-linecap="butt" stroke-linejoin="miter"/>
<line x1="311.30" y1="802.00" x2="311.30" y2="809.20" stroke="#151515" stroke-width="1.5" />
<line x1="311.30" y1="809.20" x2="311.30" y2="822.50" stroke="#000" stroke-width="1.9" />
<path d="M306.50,817.70 L311.30,809.20 L316.10,817.70" fill="none" stroke="#000" stroke-width="1.9" stroke-linejoin="round" stroke-linecap="round" stroke-linecap="butt" stroke-linejoin="miter"/>
<text transform="translate(290.00,834.80) scale(1.13,1)" font-size="10.0" font-weight="bold">SQ22536</text>
<line x1="349.40" y1="800.70" x2="349.40" y2="809.20" stroke="#151515" stroke-width="1.5" />
<line x1="349.40" y1="809.20" x2="349.40" y2="823.40" stroke="#000" stroke-width="1.9" />
<path d="M344.60,817.70 L349.40,809.20 L354.20,817.70" fill="none" stroke="#000" stroke-width="1.9" stroke-linejoin="round" stroke-linecap="round" stroke-linecap="butt" stroke-linejoin="miter"/>
<path d="M474.10,800.30 C474.57,800.40 475.80,800.27 476.90,800.90 C478.00,801.53 479.27,803.28 480.70,804.10 C482.13,804.92 483.60,805.60 485.50,805.80 C487.40,806.00 489.73,805.75 492.10,805.30 C494.47,804.85 497.17,804.10 499.70,803.10 C502.23,802.10 504.77,800.72 507.30,799.30 C509.83,797.88 512.37,796.02 514.90,794.60 C517.43,793.18 520.48,791.65 522.50,790.80 C524.52,789.95 525.27,789.82 527.00,789.50 C528.73,789.18 531.92,789.00 532.90,788.90" fill="none" stroke="#000" stroke-width="2.9" stroke-linejoin="round" stroke-linecap="round" />
<path d="M432.30,801.17 L433.01,801.07 L433.72,800.84 L434.43,801.48 L435.13,800.69 L435.84,801.13 L436.55,801.47 L437.26,800.72 L437.97,801.13 L438.68,801.17 L439.38,800.63 L440.09,800.92 L440.80,801.20 L441.51,800.96 L442.22,801.19 L442.93,800.66 L443.64,800.72 L444.34,800.59 L445.05,800.93 L445.76,801.29 L446.47,800.98 L447.18,801.13 L447.89,800.76 L448.59,801.07 L449.30,800.48 L450.01,800.63 L450.72,800.96 L451.43,800.99 L452.14,800.70 L452.85,800.39 L453.55,800.53 L454.26,800.47 L454.97,800.51 L455.68,800.98 L456.39,800.41 L457.10,801.01 L457.81,800.99 L458.51,800.23 L459.22,800.51 L459.93,800.60 L460.64,800.16 L461.35,800.51 L462.06,800.93 L462.76,800.19 L463.47,800.62 L464.18,800.17 L464.89,800.57 L465.60,800.84 L466.31,800.20 L467.02,800.01 L467.72,800.06 L468.43,800.46 L469.14,799.97 L469.85,800.02 L470.56,800.37 L471.27,800.74 L471.97,800.27 L472.68,800.24 L473.39,800.44 L474.10,800.30" fill="none" stroke="#000" stroke-width="3.0" stroke-linejoin="round" stroke-linecap="round" />
<text transform="translate(432.90,767.50) scale(1.13,1)" font-size="10.0" font-weight="bold">TQ-<tspan dx="0.6">6</tspan></text>
<text transform="translate(438.00,783.20) scale(1.13,1)" font-size="10.0" font-weight="bold">0.5</text>
<line x1="443.20" y1="785.10" x2="443.20" y2="799.10" stroke="#000" stroke-width="1.9" />
<path d="M438.40,791.20 L443.20,799.70 L448.00,791.20" fill="none" stroke="#000" stroke-width="1.9" stroke-linejoin="round" stroke-linecap="round" stroke-linecap="butt" stroke-linejoin="miter"/>
<line x1="473.10" y1="801.60" x2="473.10" y2="811.70" stroke="#151515" stroke-width="1.5" />
<line x1="473.10" y1="811.70" x2="473.10" y2="825.00" stroke="#000" stroke-width="1.9" />
<path d="M468.30,820.20 L473.10,811.70 L477.90,820.20" fill="none" stroke="#000" stroke-width="1.9" stroke-linejoin="round" stroke-linecap="round" stroke-linecap="butt" stroke-linejoin="miter"/>
<path d="M604.50,799.70 C604.83,799.92 605.87,800.43 606.50,801.00 C607.13,801.57 607.37,802.33 608.30,803.10 C609.23,803.87 610.52,805.22 612.10,805.60 C613.68,805.98 615.90,805.82 617.80,805.40 C619.70,804.98 621.28,804.43 623.50,803.10 C625.72,801.77 628.57,799.13 631.10,797.40 C633.63,795.67 636.17,793.80 638.70,792.70 C641.23,791.60 644.08,791.20 646.30,790.80 C648.52,790.40 649.95,790.40 652.00,790.30 C654.05,790.20 657.50,790.22 658.60,790.20" fill="none" stroke="#000" stroke-width="2.9" stroke-linejoin="round" stroke-linecap="round" />
<path d="M550.40,800.96 L551.10,800.82 L551.81,800.94 L552.51,800.59 L553.21,801.12 L553.91,801.11 L554.62,800.94 L555.32,800.49 L556.02,800.79 L556.72,800.60 L557.43,800.52 L558.13,801.14 L558.83,801.16 L559.53,800.29 L560.24,801.01 L560.94,800.76 L561.64,800.54 L562.34,800.44 L563.05,800.78 L563.75,800.57 L564.45,800.76 L565.15,800.72 L565.86,800.23 L566.56,800.78 L567.26,800.96 L567.96,800.93 L568.67,800.60 L569.37,800.07 L570.07,800.02 L570.78,800.12 L571.48,800.83 L572.18,800.24 L572.88,800.28 L573.59,800.74 L574.29,800.20 L574.99,800.40 L575.69,800.28 L576.40,799.93 L577.10,800.38 L577.80,800.60 L578.50,799.97 L579.21,800.01 L579.91,800.17 L580.61,799.81 L581.31,800.21 L582.02,800.48 L582.72,800.33 L583.42,800.20 L584.12,800.47 L584.83,799.82 L585.53,800.18 L586.23,799.99 L586.94,800.18 L587.64,799.73 L588.34,800.31 L589.04,799.68 L589.75,799.73 L590.45,800.29 L591.15,800.40 L591.85,799.92 L592.56,799.89 L593.26,799.72 L593.96,799.73 L594.66,800.02 L595.37,799.61 L596.07,799.54 L596.77,799.83 L597.47,799.55 L598.18,799.97 L598.88,800.11 L599.58,800.06 L600.28,799.78 L600.99,799.64 L601.69,799.70 L602.39,799.30 L603.09,799.92 L603.80,799.56 L604.50,799.70" fill="none" stroke="#000" stroke-width="3.4" stroke-linejoin="round" stroke-linecap="round" />
<text transform="translate(573.80,780.70) scale(1.13,1)" font-size="10.0" font-weight="bold">0.5</text>
<line x1="580.20" y1="782.60" x2="580.20" y2="796.80" stroke="#000" stroke-width="1.9" />
<path d="M575.40,788.90 L580.20,797.40 L585.00,788.90" fill="none" stroke="#000" stroke-width="1.9" stroke-linejoin="round" stroke-linecap="round" stroke-linecap="butt" stroke-linejoin="miter"/>
<line x1="557.10" y1="801.20" x2="557.10" y2="810.70" stroke="#151515" stroke-width="1.5" />
<line x1="557.10" y1="810.70" x2="557.10" y2="825.00" stroke="#000" stroke-width="1.9" />
<path d="M552.30,819.20 L557.10,810.70 L561.90,819.20" fill="none" stroke="#000" stroke-width="1.9" stroke-linejoin="round" stroke-linecap="round" stroke-linecap="butt" stroke-linejoin="miter"/>
<text transform="translate(534.10,837.90) scale(1.13,1)" font-size="10.0" font-weight="bold">SQ22536</text>
<line x1="601.70" y1="799.70" x2="601.70" y2="810.70" stroke="#151515" stroke-width="1.5" />
<line x1="601.70" y1="810.70" x2="601.70" y2="825.00" stroke="#000" stroke-width="1.9" />
<path d="M596.90,819.20 L601.70,810.70 L606.50,819.20" fill="none" stroke="#000" stroke-width="1.9" stroke-linejoin="round" stroke-linecap="round" stroke-linecap="butt" stroke-linejoin="miter"/>
<rect x="131.25" y="976.64" width="28.30" height="10.96" fill="#fff" stroke="#000" stroke-width="2.0"/>
<rect x="179.05" y="883.16" width="28.30" height="104.44" fill="#fff" stroke="#000" stroke-width="2.0"/>
<line x1="193.20" y1="866.74" x2="193.20" y2="898.21" stroke="#000" stroke-width="2.0" />
<line x1="190.20" y1="866.74" x2="196.20" y2="866.74" stroke="#000" stroke-width="2.0" />
<line x1="190.20" y1="898.21" x2="196.20" y2="898.21" stroke="#000" stroke-width="2.0" />
<rect x="227.25" y="972.86" width="28.30" height="14.74" fill="#fff" stroke="#000" stroke-width="2.0"/>
<line x1="241.40" y1="967.14" x2="241.40" y2="976.58" stroke="#000" stroke-width="2.0" />
<line x1="238.40" y1="967.14" x2="244.40" y2="967.14" stroke="#000" stroke-width="2.0" />
<line x1="238.40" y1="976.58" x2="244.40" y2="976.58" stroke="#000" stroke-width="2.0" />
<rect x="275.05" y="970.66" width="28.30" height="16.94" fill="#fff" stroke="#000" stroke-width="2.0"/>
<line x1="289.20" y1="965.57" x2="289.20" y2="973.75" stroke="#000" stroke-width="2.0" />
<line x1="286.20" y1="965.57" x2="292.20" y2="965.57" stroke="#000" stroke-width="2.0" />
<line x1="286.20" y1="973.75" x2="292.20" y2="973.75" stroke="#000" stroke-width="2.0" />
<line x1="111.80" y1="860.70" x2="111.80" y2="988.60" stroke="#000" stroke-width="2.0" />
<line x1="110.80" y1="987.60" x2="323.90" y2="987.60" stroke="#000" stroke-width="2.0" />
<line x1="108.80" y1="987.60" x2="111.80" y2="987.60" stroke="#000" stroke-width="1.6" />
<text x="105.20" y="990.90" font-size="10" font-weight="bold" text-anchor="end" fill="#000" letter-spacing="0.9">0</text>
<line x1="108.80" y1="956.12" x2="111.80" y2="956.12" stroke="#000" stroke-width="1.6" />
<text x="105.20" y="959.42" font-size="10" font-weight="bold" text-anchor="end" fill="#000" letter-spacing="0.9">5</text>
<line x1="108.80" y1="924.65" x2="111.80" y2="924.65" stroke="#000" stroke-width="1.6" />
<text x="105.20" y="927.95" font-size="10" font-weight="bold" text-anchor="end" fill="#000" letter-spacing="0.9">10</text>
<line x1="108.80" y1="893.18" x2="111.80" y2="893.18" stroke="#000" stroke-width="1.6" />
<text x="105.20" y="896.48" font-size="10" font-weight="bold" text-anchor="end" fill="#000" letter-spacing="0.9">15</text>
<line x1="108.80" y1="861.70" x2="111.80" y2="861.70" stroke="#000" stroke-width="1.6" />
<text x="105.20" y="865.00" font-size="10" font-weight="bold" text-anchor="end" fill="#000" letter-spacing="0.9">20</text>
<rect x="142.60" y="973.90" width="6.00" height="5.60" fill="#000"/>
<text x="194.00" y="863.40" font-size="15.5" font-weight="normal" text-anchor="middle" fill="#000" letter-spacing="1.0" stroke="#000" stroke-width="0.3">***</text>
<text transform="translate(85.1,924.8) rotate(-90) scale(1,1.13)" font-size="14.4" text-anchor="middle" stroke="#000" stroke-width="0.35">Cyclic AMP (pmol/ml)</text>
<text x="142.50" y="1011.20" font-size="14.5" font-weight="bold" text-anchor="middle" fill="#000" >DMSO</text>
<text x="192.70" y="1011.20" font-size="14.5" font-weight="bold" text-anchor="middle" fill="#000" >PGE<tspan font-size="10" dy="1.5">1</tspan></text>
<text x="241.80" y="1011.20" font-size="14.5" font-weight="bold" text-anchor="middle" fill="#000" >0.3</text>
<text x="290.90" y="1011.20" font-size="14.5" font-weight="bold" text-anchor="middle" fill="#000" >0.5</text>
<line x1="228.20" y1="1016.20" x2="302.10" y2="1016.20" stroke="#000" stroke-width="2.0" />
<text x="265.30" y="1032.30" font-size="14.5" font-weight="bold" text-anchor="middle" fill="#000" >TQ-6</text>
<text x="41.80" y="857.60" font-size="19.5" font-weight="bold" text-anchor="start" fill="#000" >a</text>
<rect x="455.30" y="980.56" width="28.00" height="6.04" fill="#fff" stroke="#000" stroke-width="2.0"/>
<rect x="503.00" y="902.43" width="28.00" height="84.17" fill="#fff" stroke="#000" stroke-width="2.0"/>
<line x1="517.00" y1="878.41" x2="517.00" y2="925.59" stroke="#000" stroke-width="2.0" />
<line x1="514.00" y1="878.41" x2="520.00" y2="878.41" stroke="#000" stroke-width="2.0" />
<line x1="514.00" y1="925.59" x2="520.00" y2="925.59" stroke="#000" stroke-width="2.0" />
<rect x="550.60" y="982.95" width="28.00" height="3.65" fill="#fff" stroke="#000" stroke-width="2.0"/>
<rect x="598.40" y="979.05" width="28.00" height="7.55" fill="#fff" stroke="#000" stroke-width="2.0"/>
<line x1="612.40" y1="975.28" x2="612.40" y2="980.94" stroke="#000" stroke-width="2.0" />
<line x1="609.40" y1="975.28" x2="615.40" y2="975.28" stroke="#000" stroke-width="2.0" />
<line x1="609.40" y1="980.94" x2="615.40" y2="980.94" stroke="#000" stroke-width="2.0" />
<line x1="436.20" y1="859.80" x2="436.20" y2="987.60" stroke="#000" stroke-width="2.0" />
<line x1="435.20" y1="986.60" x2="646.70" y2="986.60" stroke="#000" stroke-width="2.0" />
<line x1="433.20" y1="986.60" x2="436.20" y2="986.60" stroke="#000" stroke-width="1.6" />
<text x="429.60" y="989.90" font-size="10" font-weight="bold" text-anchor="end" fill="#000" letter-spacing="0.9">0</text>
<line x1="433.20" y1="961.44" x2="436.20" y2="961.44" stroke="#000" stroke-width="1.6" />
<text x="429.60" y="964.74" font-size="10" font-weight="bold" text-anchor="end" fill="#000" letter-spacing="0.9">2</text>
<line x1="433.20" y1="936.28" x2="436.20" y2="936.28" stroke="#000" stroke-width="1.6" />
<text x="429.60" y="939.58" font-size="10" font-weight="bold" text-anchor="end" fill="#000" letter-spacing="0.9">4</text>
<line x1="433.20" y1="911.12" x2="436.20" y2="911.12" stroke="#000" stroke-width="1.6" />
<text x="429.60" y="914.42" font-size="10" font-weight="bold" text-anchor="end" fill="#000" letter-spacing="0.9">6</text>
<line x1="433.20" y1="885.96" x2="436.20" y2="885.96" stroke="#000" stroke-width="1.6" />
<text x="429.60" y="889.26" font-size="10" font-weight="bold" text-anchor="end" fill="#000" letter-spacing="0.9">8</text>
<line x1="433.20" y1="860.80" x2="436.20" y2="860.80" stroke="#000" stroke-width="1.6" />
<text x="429.60" y="864.10" font-size="10" font-weight="bold" text-anchor="end" fill="#000" letter-spacing="0.9">10</text>
<rect x="466.90" y="978.40" width="5.40" height="4.40" fill="#000"/>
<rect x="562.00" y="980.90" width="5.20" height="4.00" fill="#000"/>
<text x="517.40" y="877.40" font-size="15.5" font-weight="normal" text-anchor="middle" fill="#000" letter-spacing="1.0" stroke="#000" stroke-width="0.3">**</text>
<text transform="translate(408.2,924.4) rotate(-90) scale(1,1.13)" font-size="14.4" text-anchor="middle" stroke="#000" stroke-width="0.35">Cyclic GMP (pmol/ml)</text>
<text x="468.80" y="1011.50" font-size="14.5" font-weight="bold" text-anchor="middle" fill="#000" >DMSO</text>
<text x="517.80" y="1011.50" font-size="14.5" font-weight="bold" text-anchor="middle" fill="#000" >NTG</text>
<text x="565.70" y="1011.50" font-size="14.5" font-weight="bold" text-anchor="middle" fill="#000" >0.3</text>
<text x="612.50" y="1011.50" font-size="14.5" font-weight="bold" text-anchor="middle" fill="#000" >0.5</text>
<line x1="550.90" y1="1015.80" x2="625.30" y2="1015.80" stroke="#000" stroke-width="2.0" />
<text x="587.70" y="1033.70" font-size="14.5" font-weight="bold" text-anchor="middle" fill="#000" >TQ-6</text>
<text x="367.60" y="858.10" font-size="18.5" font-weight="bold" text-anchor="start" fill="#000" >b</text>
</svg>
</body></html>
